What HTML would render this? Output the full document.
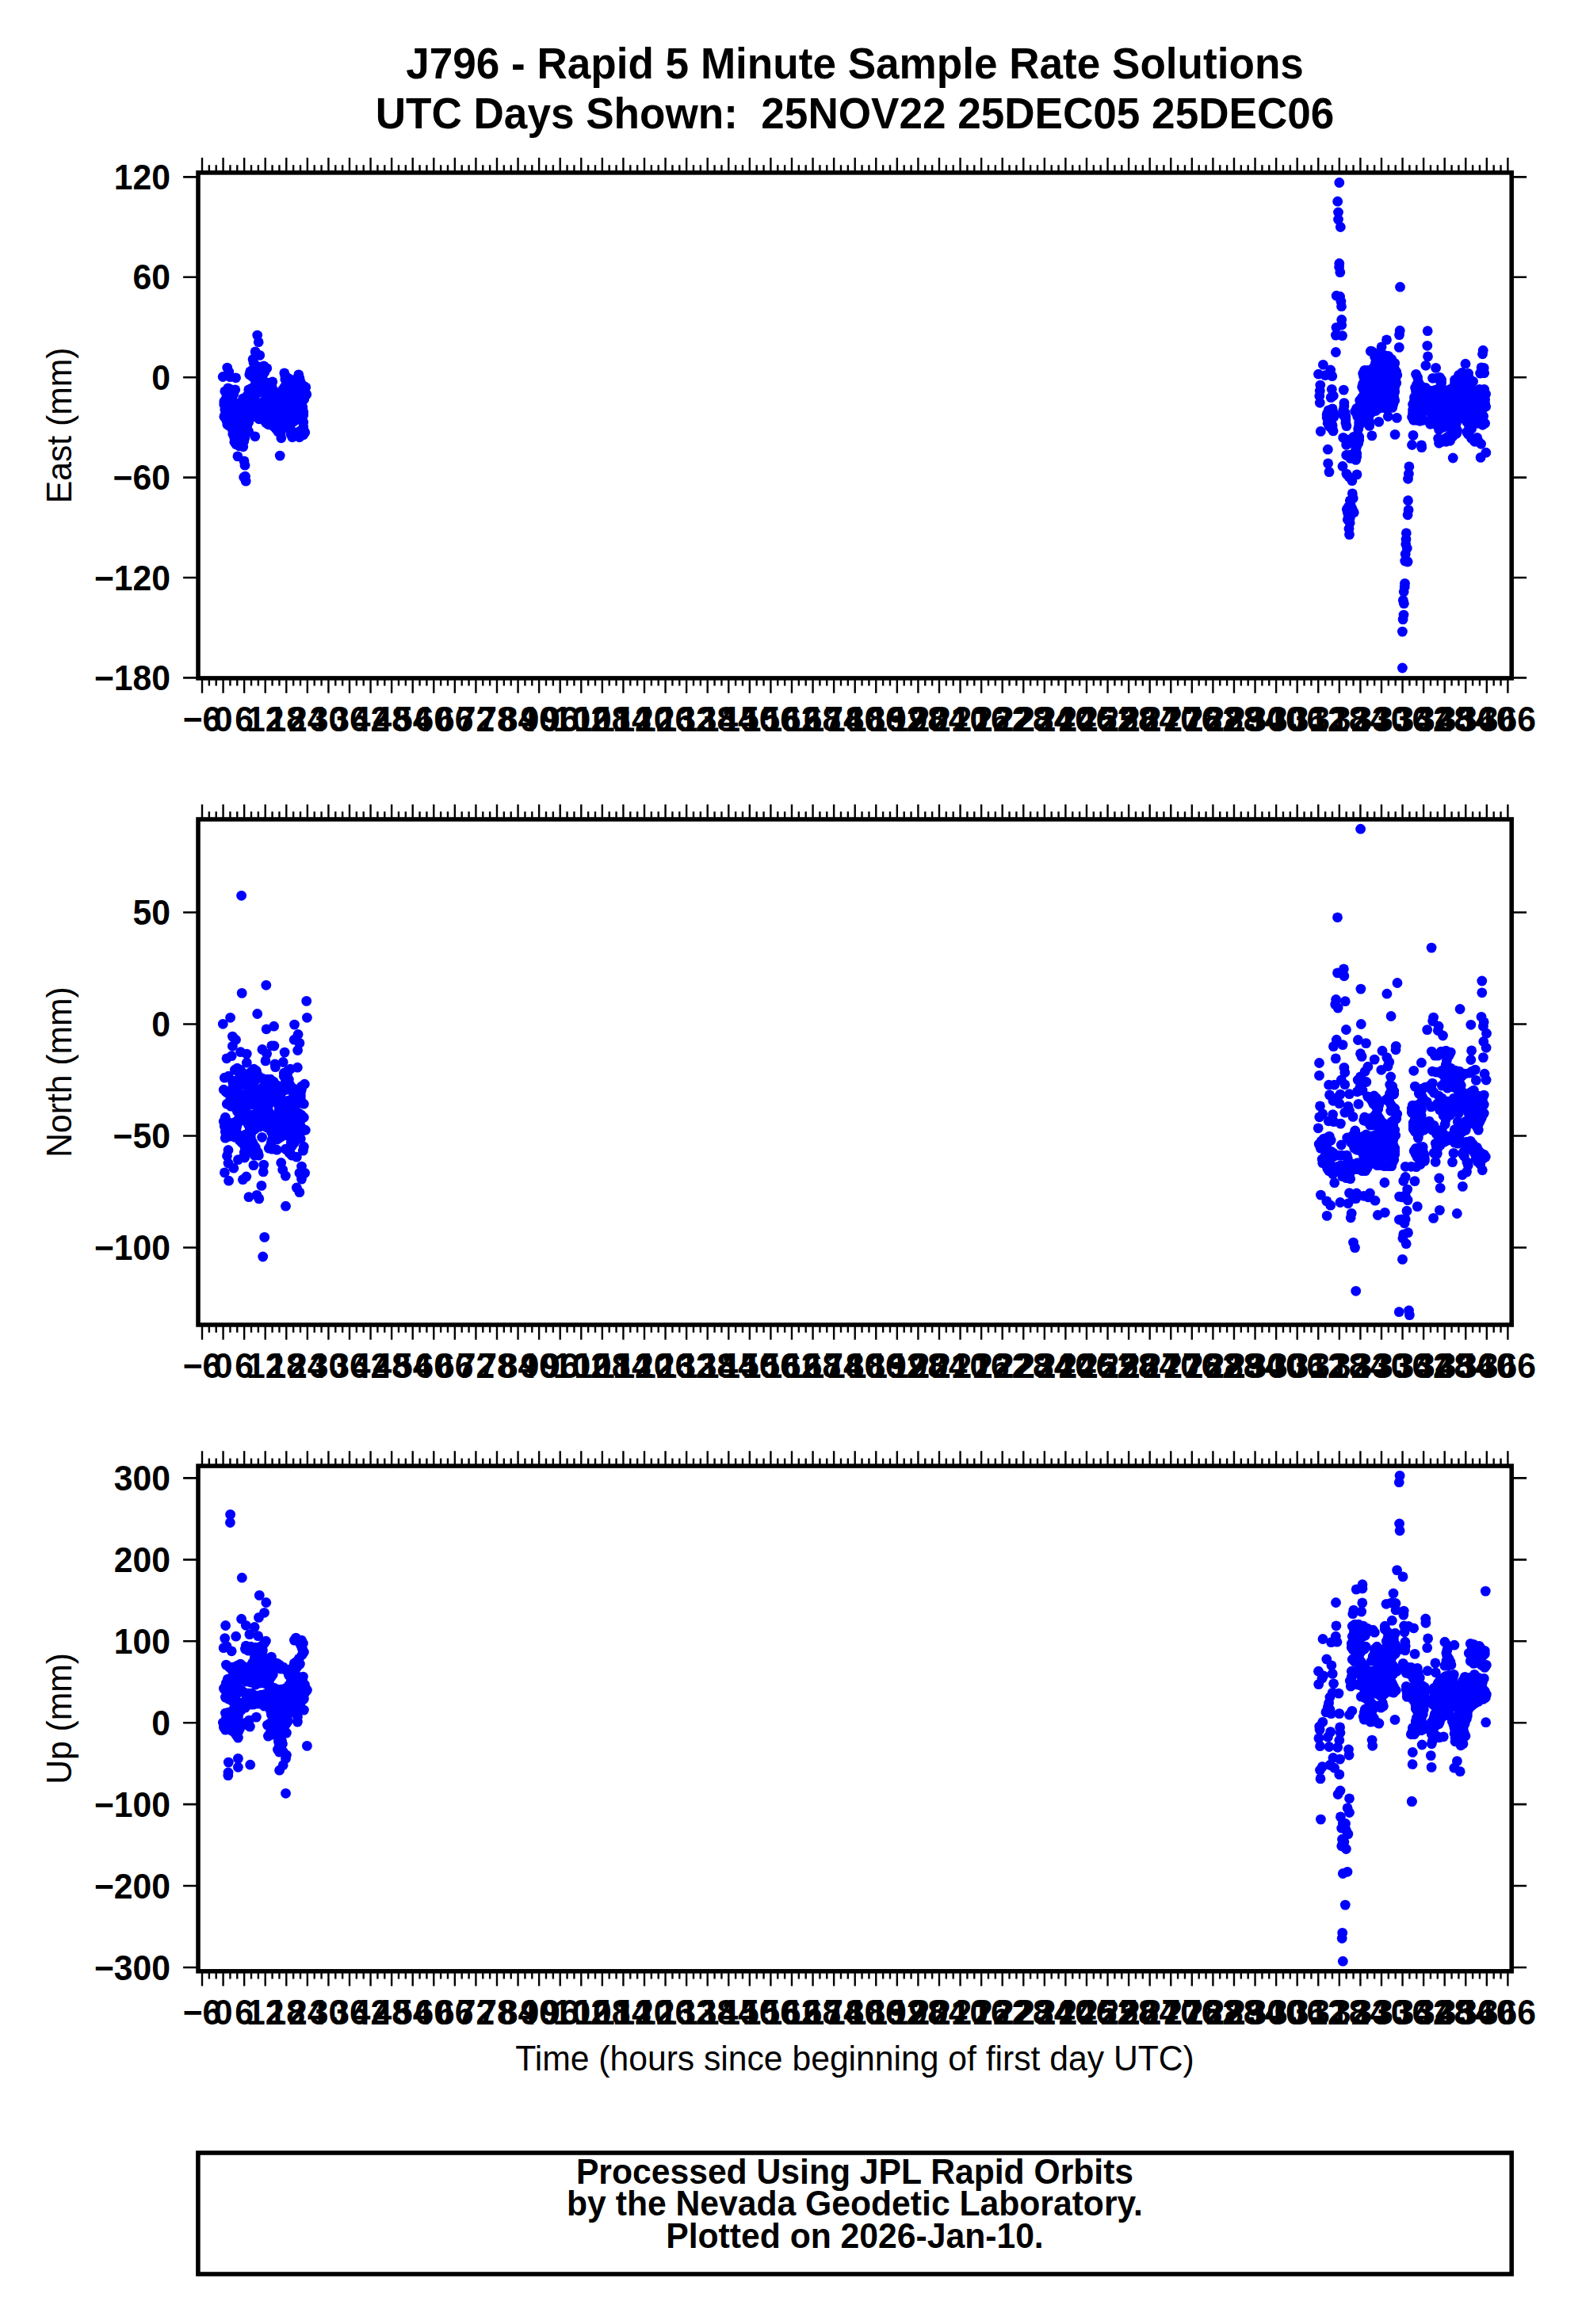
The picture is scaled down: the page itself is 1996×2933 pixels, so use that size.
<!DOCTYPE html>
<html lang="en"><head><meta charset="utf-8"><title>J796 - Rapid 5 Minute Sample Rate Solutions</title>
<style>html,body{margin:0;padding:0;background:#fff}svg{display:block}text{font-family:"Liberation Sans", sans-serif;fill:#000}.a{font-size:42.67px;font-weight:bold}.l{font-size:42.67px}.t{font-size:53.1px;font-weight:bold}.f{fill:none;stroke:#000;stroke-width:5.56}.k{stroke:#000;stroke-width:2.4;fill:none}.k2{stroke:#000;stroke-width:2.6;fill:none}.d circle{fill:#00f;r:6.4px}</style></head><body>
<svg width="1996" height="2933" viewBox="0 0 1996 2933">
<rect width="1996" height="2933" fill="#fff"/>
<g class="d">
<circle cx="324.7" cy="423.1" r="6.4"/>
<circle cx="326.2" cy="431.7" r="6.4"/>
<circle cx="322.1" cy="443.9" r="6.4"/>
<circle cx="327.7" cy="448.4" r="6.4"/>
<circle cx="319.1" cy="453.5" r="6.4"/>
<circle cx="320.1" cy="458.0" r="6.4"/>
<circle cx="286.7" cy="464.1" r="6.4"/>
<circle cx="288.8" cy="469.2" r="6.4"/>
<circle cx="281.2" cy="475.5" r="6.4"/>
<circle cx="290.3" cy="475.7" r="6.4"/>
<circle cx="297.6" cy="476.8" r="6.4"/>
<circle cx="299.9" cy="575.9" r="6.4"/>
<circle cx="308.0" cy="581.9" r="6.4"/>
<circle cx="309.0" cy="587.2" r="6.4"/>
<circle cx="309.5" cy="601.2" r="6.4"/>
<circle cx="307.7" cy="602.2" r="6.4"/>
<circle cx="310.2" cy="607.2" r="6.4"/>
<circle cx="353.2" cy="575.1" r="6.4"/>
<circle cx="332.8" cy="461.8" r="6.4"/>
<circle cx="374.8" cy="549.8" r="6.4"/>
<circle cx="332.8" cy="481.8" r="6.4"/>
<circle cx="301.8" cy="562.8" r="6.4"/>
<circle cx="287.8" cy="489.8" r="6.4"/>
<circle cx="321.8" cy="487.8" r="6.4"/>
<circle cx="345.8" cy="493.8" r="6.4"/>
<circle cx="322.8" cy="483.8" r="6.4"/>
<circle cx="306.8" cy="502.8" r="6.4"/>
<circle cx="294.8" cy="497.8" r="6.4"/>
<circle cx="297.8" cy="512.8" r="6.4"/>
<circle cx="350.8" cy="544.8" r="6.4"/>
<circle cx="382.8" cy="486.8" r="6.4"/>
<circle cx="366.8" cy="547.8" r="6.4"/>
<circle cx="365.8" cy="538.8" r="6.4"/>
<circle cx="381.8" cy="513.8" r="6.4"/>
<circle cx="305.8" cy="559.8" r="6.4"/>
<circle cx="342.8" cy="486.8" r="6.4"/>
<circle cx="291.8" cy="491.8" r="6.4"/>
<circle cx="325.8" cy="509.8" r="6.4"/>
<circle cx="311.8" cy="499.8" r="6.4"/>
<circle cx="354.8" cy="552.8" r="6.4"/>
<circle cx="286.8" cy="496.8" r="6.4"/>
<circle cx="382.8" cy="538.8" r="6.4"/>
<circle cx="382.8" cy="532.8" r="6.4"/>
<circle cx="378.8" cy="527.8" r="6.4"/>
<circle cx="382.8" cy="523.8" r="6.4"/>
<circle cx="358.8" cy="488.8" r="6.4"/>
<circle cx="284.8" cy="520.8" r="6.4"/>
<circle cx="344.8" cy="537.8" r="6.4"/>
<circle cx="330.8" cy="478.8" r="6.4"/>
<circle cx="353.8" cy="546.8" r="6.4"/>
<circle cx="308.8" cy="552.8" r="6.4"/>
<circle cx="356.8" cy="491.8" r="6.4"/>
<circle cx="361.8" cy="539.8" r="6.4"/>
<circle cx="320.8" cy="500.8" r="6.4"/>
<circle cx="311.8" cy="537.8" r="6.4"/>
<circle cx="313.8" cy="532.8" r="6.4"/>
<circle cx="366.8" cy="542.8" r="6.4"/>
<circle cx="336.8" cy="464.8" r="6.4"/>
<circle cx="382.8" cy="542.8" r="6.4"/>
<circle cx="343.8" cy="481.8" r="6.4"/>
<circle cx="373.8" cy="478.8" r="6.4"/>
<circle cx="333.8" cy="469.8" r="6.4"/>
<circle cx="296.8" cy="491.8" r="6.4"/>
<circle cx="354.8" cy="494.8" r="6.4"/>
<circle cx="313.8" cy="491.8" r="6.4"/>
<circle cx="385.8" cy="488.8" r="6.4"/>
<circle cx="318.8" cy="466.8" r="6.4"/>
<circle cx="336.8" cy="482.8" r="6.4"/>
<circle cx="285.8" cy="530.8" r="6.4"/>
<circle cx="360.8" cy="485.8" r="6.4"/>
<circle cx="314.8" cy="472.8" r="6.4"/>
<circle cx="377.8" cy="551.8" r="6.4"/>
<circle cx="326.8" cy="462.8" r="6.4"/>
<circle cx="358.8" cy="470.8" r="6.4"/>
<circle cx="347.8" cy="540.8" r="6.4"/>
<circle cx="313.8" cy="544.8" r="6.4"/>
<circle cx="283.8" cy="516.8" r="6.4"/>
<circle cx="376.8" cy="472.8" r="6.4"/>
<circle cx="283.8" cy="493.8" r="6.4"/>
<circle cx="333.8" cy="505.8" r="6.4"/>
<circle cx="370.8" cy="531.8" r="6.4"/>
<circle cx="292.8" cy="503.8" r="6.4"/>
<circle cx="291.8" cy="507.8" r="6.4"/>
<circle cx="284.8" cy="503.8" r="6.4"/>
<circle cx="301.8" cy="510.8" r="6.4"/>
<circle cx="379.8" cy="484.8" r="6.4"/>
<circle cx="378.8" cy="543.8" r="6.4"/>
<circle cx="359.8" cy="478.8" r="6.4"/>
<circle cx="292.8" cy="539.8" r="6.4"/>
<circle cx="353.8" cy="542.8" r="6.4"/>
<circle cx="326.8" cy="528.8" r="6.4"/>
<circle cx="327.8" cy="494.8" r="6.4"/>
<circle cx="333.8" cy="494.8" r="6.4"/>
<circle cx="371.8" cy="545.8" r="6.4"/>
<circle cx="380.8" cy="509.8" r="6.4"/>
<circle cx="316.8" cy="526.8" r="6.4"/>
<circle cx="356.8" cy="539.8" r="6.4"/>
<circle cx="330.8" cy="507.8" r="6.4"/>
<circle cx="362.8" cy="476.8" r="6.4"/>
<circle cx="295.8" cy="557.8" r="6.4"/>
<circle cx="286.8" cy="535.8" r="6.4"/>
<circle cx="289.8" cy="537.8" r="6.4"/>
<circle cx="338.8" cy="535.8" r="6.4"/>
<circle cx="382.8" cy="519.8" r="6.4"/>
<circle cx="282.8" cy="525.8" r="6.4"/>
<circle cx="293.8" cy="547.8" r="6.4"/>
<circle cx="282.8" cy="510.8" r="6.4"/>
<circle cx="320.8" cy="507.8" r="6.4"/>
<circle cx="310.8" cy="546.8" r="6.4"/>
<circle cx="367.8" cy="533.8" r="6.4"/>
<circle cx="330.8" cy="528.8" r="6.4"/>
<circle cx="317.8" cy="474.8" r="6.4"/>
<circle cx="384.8" cy="493.8" r="6.4"/>
<circle cx="313.8" cy="495.8" r="6.4"/>
<circle cx="383.8" cy="503.8" r="6.4"/>
<circle cx="369.8" cy="479.8" r="6.4"/>
<circle cx="315.8" cy="468.8" r="6.4"/>
<circle cx="368.8" cy="551.8" r="6.4"/>
<circle cx="343.8" cy="490.8" r="6.4"/>
<circle cx="386.8" cy="497.8" r="6.4"/>
<circle cx="295.8" cy="552.8" r="6.4"/>
<circle cx="350.8" cy="496.8" r="6.4"/>
<circle cx="378.8" cy="480.8" r="6.4"/>
<circle cx="317.8" cy="489.8" r="6.4"/>
<circle cx="377.8" cy="476.8" r="6.4"/>
<circle cx="336.8" cy="501.8" r="6.4"/>
<circle cx="373.8" cy="529.8" r="6.4"/>
<circle cx="293.8" cy="543.8" r="6.4"/>
<circle cx="306.8" cy="563.8" r="6.4"/>
<circle cx="297.8" cy="560.8" r="6.4"/>
<circle cx="335.8" cy="533.8" r="6.4"/>
<circle cx="321.8" cy="550.8" r="6.4"/>
<circle cx="320.8" cy="477.8" r="6.4"/>
<circle cx="320.8" cy="525.8" r="6.4"/>
<circle cx="323.8" cy="464.8" r="6.4"/>
<circle cx="282.8" cy="506.8" r="6.4"/>
<circle cx="286.8" cy="500.8" r="6.4"/>
<circle cx="331.8" cy="472.8" r="6.4"/>
<circle cx="382.8" cy="548.8" r="6.4"/>
<circle cx="307.8" cy="556.8" r="6.4"/>
<circle cx="322.8" cy="497.8" r="6.4"/>
<circle cx="361.8" cy="481.8" r="6.4"/>
<circle cx="293.8" cy="511.8" r="6.4"/>
<circle cx="335.8" cy="497.8" r="6.4"/>
<circle cx="303.8" cy="507.8" r="6.4"/>
<circle cx="333.8" cy="530.8" r="6.4"/>
<circle cx="359.8" cy="474.8" r="6.4"/>
<circle cx="384.8" cy="545.8" r="6.4"/>
<circle cx="365.8" cy="478.8" r="6.4"/>
<circle cx="352.8" cy="526.9" r="6.4"/>
<circle cx="361.9" cy="525.0" r="6.4"/>
<circle cx="369.8" cy="505.5" r="6.4"/>
<circle cx="344.0" cy="530.5" r="6.4"/>
<circle cx="356.8" cy="508.7" r="6.4"/>
<circle cx="293.0" cy="532.0" r="6.4"/>
<circle cx="369.6" cy="514.9" r="6.4"/>
<circle cx="373.0" cy="493.8" r="6.4"/>
<circle cx="331.5" cy="515.1" r="6.4"/>
<circle cx="304.9" cy="523.5" r="6.4"/>
<circle cx="374.6" cy="500.2" r="6.4"/>
<circle cx="358.6" cy="531.7" r="6.4"/>
<circle cx="347.1" cy="508.1" r="6.4"/>
<circle cx="325.9" cy="473.0" r="6.4"/>
<circle cx="338.5" cy="516.5" r="6.4"/>
<circle cx="371.2" cy="488.1" r="6.4"/>
<circle cx="297.5" cy="527.5" r="6.4"/>
<circle cx="366.6" cy="500.2" r="6.4"/>
<circle cx="315.6" cy="521.0" r="6.4"/>
<circle cx="360.2" cy="517.9" r="6.4"/>
<circle cx="347.2" cy="518.6" r="6.4"/>
<circle cx="349.5" cy="532.4" r="6.4"/>
<circle cx="306.0" cy="538.5" r="6.4"/>
<circle cx="304.2" cy="547.0" r="6.4"/>
<circle cx="323.6" cy="520.1" r="6.4"/>
<circle cx="364.6" cy="509.8" r="6.4"/>
<circle cx="364.5" cy="491.0" r="6.4"/>
<circle cx="334.1" cy="521.2" r="6.4"/>
<circle cx="308.4" cy="515.1" r="6.4"/>
<circle cx="344.9" cy="502.1" r="6.4"/>
<circle cx="313.8" cy="511.9" r="6.4"/>
<circle cx="375.9" cy="520.1" r="6.4"/>
<circle cx="293.5" cy="519.5" r="6.4"/>
<circle cx="353.9" cy="515.7" r="6.4"/>
<circle cx="329.7" cy="488.4" r="6.4"/>
<circle cx="319.0" cy="515.4" r="6.4"/>
<circle cx="340.1" cy="509.1" r="6.4"/>
<circle cx="355.8" cy="501.5" r="6.4"/>
<circle cx="308.9" cy="528.6" r="6.4"/>
<circle cx="297.8" cy="535.5" r="6.4"/>
<circle cx="340.2" cy="525.9" r="6.4"/>
<circle cx="374.7" cy="508.5" r="6.4"/>
<circle cx="303.0" cy="531.1" r="6.4"/>
<circle cx="337.1" cy="488.5" r="6.4"/>
<circle cx="368.7" cy="525.7" r="6.4"/>
<circle cx="362.0" cy="503.5" r="6.4"/>
<circle cx="299.9" cy="542.2" r="6.4"/>
<circle cx="302.0" cy="517.4" r="6.4"/>
<circle cx="301.5" cy="552.5" r="6.4"/>
<circle cx="291.0" cy="525.9" r="6.4"/>
<circle cx="314.8" cy="505.8" r="6.4"/>
<circle cx="378.7" cy="495.9" r="6.4"/>
<circle cx="360.9" cy="497.2" r="6.4"/>
<circle cx="347.0" cy="525.1" r="6.4"/>
<circle cx="1689.8" cy="230.5" r="6.4"/>
<circle cx="1687.7" cy="254.2" r="6.4"/>
<circle cx="1688.5" cy="268.0" r="6.4"/>
<circle cx="1688.5" cy="277.0" r="6.4"/>
<circle cx="1691.3" cy="286.5" r="6.4"/>
<circle cx="1689.8" cy="332.5" r="6.4"/>
<circle cx="1689.6" cy="336.9" r="6.4"/>
<circle cx="1690.8" cy="343.6" r="6.4"/>
<circle cx="1686.2" cy="373.2" r="6.4"/>
<circle cx="1690.6" cy="374.2" r="6.4"/>
<circle cx="1691.9" cy="380.2" r="6.4"/>
<circle cx="1692.5" cy="386.7" r="6.4"/>
<circle cx="1692.7" cy="403.5" r="6.4"/>
<circle cx="1692.7" cy="410.2" r="6.4"/>
<circle cx="1686.0" cy="413.3" r="6.4"/>
<circle cx="1685.4" cy="423.1" r="6.4"/>
<circle cx="1693.5" cy="423.6" r="6.4"/>
<circle cx="1766.5" cy="362.2" r="6.4"/>
<circle cx="1766.2" cy="417.2" r="6.4"/>
<circle cx="1765.5" cy="422.6" r="6.4"/>
<circle cx="1749.5" cy="428.8" r="6.4"/>
<circle cx="1685.4" cy="444.5" r="6.4"/>
<circle cx="1765.3" cy="438.4" r="6.4"/>
<circle cx="1743.1" cy="437.8" r="6.4"/>
<circle cx="1729.3" cy="443.2" r="6.4"/>
<circle cx="1669.4" cy="460.3" r="6.4"/>
<circle cx="1678.7" cy="467.0" r="6.4"/>
<circle cx="1663.5" cy="472.2" r="6.4"/>
<circle cx="1672.0" cy="473.7" r="6.4"/>
<circle cx="1680.8" cy="474.7" r="6.4"/>
<circle cx="1665.8" cy="486.1" r="6.4"/>
<circle cx="1665.3" cy="493.3" r="6.4"/>
<circle cx="1664.8" cy="500.0" r="6.4"/>
<circle cx="1665.3" cy="508.3" r="6.4"/>
<circle cx="1680.3" cy="491.3" r="6.4"/>
<circle cx="1682.3" cy="499.5" r="6.4"/>
<circle cx="1679.2" cy="501.6" r="6.4"/>
<circle cx="1695.3" cy="492.1" r="6.4"/>
<circle cx="1666.3" cy="544.4" r="6.4"/>
<circle cx="1751.3" cy="525.5" r="6.4"/>
<circle cx="1762.4" cy="527.4" r="6.4"/>
<circle cx="1739.7" cy="532.4" r="6.4"/>
<circle cx="1730.9" cy="549.9" r="6.4"/>
<circle cx="1760.1" cy="548.4" r="6.4"/>
<circle cx="1675.3" cy="567.2" r="6.4"/>
<circle cx="1675.6" cy="584.9" r="6.4"/>
<circle cx="1677.0" cy="595.6" r="6.4"/>
<circle cx="1694.0" cy="588.5" r="6.4"/>
<circle cx="1698.9" cy="598.1" r="6.4"/>
<circle cx="1702.0" cy="601.8" r="6.4"/>
<circle cx="1712.0" cy="598.9" r="6.4"/>
<circle cx="1705.9" cy="606.7" r="6.4"/>
<circle cx="1783.0" cy="549.4" r="6.4"/>
<circle cx="1781.5" cy="561.5" r="6.4"/>
<circle cx="1793.4" cy="561.8" r="6.4"/>
<circle cx="1777.9" cy="588.9" r="6.4"/>
<circle cx="1777.4" cy="598.1" r="6.4"/>
<circle cx="1776.5" cy="604.3" r="6.4"/>
<circle cx="1776.5" cy="631.7" r="6.4"/>
<circle cx="1777.1" cy="643.6" r="6.4"/>
<circle cx="1776.1" cy="649.8" r="6.4"/>
<circle cx="1676.1" cy="517.9" r="6.4"/>
<circle cx="1681.1" cy="515.9" r="6.4"/>
<circle cx="1682.1" cy="543.9" r="6.4"/>
<circle cx="1680.1" cy="540.9" r="6.4"/>
<circle cx="1674.1" cy="526.9" r="6.4"/>
<circle cx="1680.1" cy="528.9" r="6.4"/>
<circle cx="1683.1" cy="521.9" r="6.4"/>
<circle cx="1677.1" cy="537.9" r="6.4"/>
<circle cx="1681.1" cy="536.9" r="6.4"/>
<circle cx="1679.1" cy="532.9" r="6.4"/>
<circle cx="1675.1" cy="533.9" r="6.4"/>
<circle cx="1683.1" cy="525.9" r="6.4"/>
<circle cx="1674.1" cy="522.9" r="6.4"/>
<circle cx="1695.9" cy="512.6" r="6.4"/>
<circle cx="1694.9" cy="517.6" r="6.4"/>
<circle cx="1695.9" cy="508.6" r="6.4"/>
<circle cx="1698.9" cy="537.6" r="6.4"/>
<circle cx="1697.9" cy="533.6" r="6.4"/>
<circle cx="1697.9" cy="529.6" r="6.4"/>
<circle cx="1694.9" cy="523.6" r="6.4"/>
<circle cx="1697.9" cy="525.6" r="6.4"/>
<circle cx="1696.9" cy="520.6" r="6.4"/>
<circle cx="1734.7" cy="450.4" r="6.4"/>
<circle cx="1756.7" cy="514.4" r="6.4"/>
<circle cx="1714.7" cy="537.4" r="6.4"/>
<circle cx="1737.7" cy="448.4" r="6.4"/>
<circle cx="1759.7" cy="466.4" r="6.4"/>
<circle cx="1730.7" cy="520.4" r="6.4"/>
<circle cx="1731.7" cy="465.4" r="6.4"/>
<circle cx="1759.7" cy="458.4" r="6.4"/>
<circle cx="1748.7" cy="515.4" r="6.4"/>
<circle cx="1709.7" cy="519.4" r="6.4"/>
<circle cx="1735.7" cy="457.4" r="6.4"/>
<circle cx="1739.7" cy="515.4" r="6.4"/>
<circle cx="1759.7" cy="494.4" r="6.4"/>
<circle cx="1710.7" cy="567.4" r="6.4"/>
<circle cx="1714.7" cy="555.4" r="6.4"/>
<circle cx="1697.7" cy="554.4" r="6.4"/>
<circle cx="1710.7" cy="580.4" r="6.4"/>
<circle cx="1727.7" cy="532.4" r="6.4"/>
<circle cx="1713.7" cy="559.4" r="6.4"/>
<circle cx="1703.7" cy="558.4" r="6.4"/>
<circle cx="1711.7" cy="563.4" r="6.4"/>
<circle cx="1718.7" cy="488.4" r="6.4"/>
<circle cx="1716.7" cy="510.4" r="6.4"/>
<circle cx="1742.7" cy="449.4" r="6.4"/>
<circle cx="1735.7" cy="518.4" r="6.4"/>
<circle cx="1714.7" cy="533.4" r="6.4"/>
<circle cx="1720.7" cy="475.4" r="6.4"/>
<circle cx="1759.7" cy="505.4" r="6.4"/>
<circle cx="1725.7" cy="467.4" r="6.4"/>
<circle cx="1722.7" cy="495.4" r="6.4"/>
<circle cx="1755.7" cy="453.4" r="6.4"/>
<circle cx="1758.7" cy="501.4" r="6.4"/>
<circle cx="1711.7" cy="515.4" r="6.4"/>
<circle cx="1721.7" cy="481.4" r="6.4"/>
<circle cx="1720.7" cy="532.4" r="6.4"/>
<circle cx="1712.7" cy="548.4" r="6.4"/>
<circle cx="1711.7" cy="572.4" r="6.4"/>
<circle cx="1718.7" cy="501.4" r="6.4"/>
<circle cx="1760.7" cy="479.4" r="6.4"/>
<circle cx="1751.7" cy="449.4" r="6.4"/>
<circle cx="1759.7" cy="488.4" r="6.4"/>
<circle cx="1713.7" cy="541.4" r="6.4"/>
<circle cx="1734.7" cy="461.4" r="6.4"/>
<circle cx="1721.7" cy="467.4" r="6.4"/>
<circle cx="1714.7" cy="528.4" r="6.4"/>
<circle cx="1706.7" cy="573.4" r="6.4"/>
<circle cx="1698.7" cy="561.4" r="6.4"/>
<circle cx="1744.7" cy="514.4" r="6.4"/>
<circle cx="1762.7" cy="473.4" r="6.4"/>
<circle cx="1715.7" cy="505.4" r="6.4"/>
<circle cx="1726.7" cy="527.4" r="6.4"/>
<circle cx="1698.7" cy="574.4" r="6.4"/>
<circle cx="1761.7" cy="483.4" r="6.4"/>
<circle cx="1703.7" cy="578.4" r="6.4"/>
<circle cx="1727.7" cy="537.4" r="6.4"/>
<circle cx="1704.7" cy="554.4" r="6.4"/>
<circle cx="1730.7" cy="443.4" r="6.4"/>
<circle cx="1746.7" cy="448.4" r="6.4"/>
<circle cx="1733.7" cy="445.4" r="6.4"/>
<circle cx="1720.7" cy="492.4" r="6.4"/>
<circle cx="1707.7" cy="578.4" r="6.4"/>
<circle cx="1721.7" cy="499.4" r="6.4"/>
<circle cx="1714.7" cy="551.4" r="6.4"/>
<circle cx="1707.7" cy="551.4" r="6.4"/>
<circle cx="1757.7" cy="510.4" r="6.4"/>
<circle cx="1761.7" cy="469.4" r="6.4"/>
<circle cx="1719.7" cy="471.4" r="6.4"/>
<circle cx="1694.7" cy="552.4" r="6.4"/>
<circle cx="1702.7" cy="574.4" r="6.4"/>
<circle cx="1712.7" cy="525.4" r="6.4"/>
<circle cx="1752.7" cy="514.4" r="6.4"/>
<circle cx="1758.7" cy="462.4" r="6.4"/>
<circle cx="1726.7" cy="523.4" r="6.4"/>
<circle cx="1708.7" cy="560.4" r="6.4"/>
<circle cx="1711.7" cy="576.4" r="6.4"/>
<circle cx="1719.7" cy="484.4" r="6.4"/>
<circle cx="1730.9" cy="510.6" r="6.4"/>
<circle cx="1743.4" cy="490.1" r="6.4"/>
<circle cx="1745.4" cy="483.2" r="6.4"/>
<circle cx="1739.7" cy="508.1" r="6.4"/>
<circle cx="1745.8" cy="464.0" r="6.4"/>
<circle cx="1727.8" cy="478.4" r="6.4"/>
<circle cx="1751.9" cy="478.0" r="6.4"/>
<circle cx="1753.4" cy="491.4" r="6.4"/>
<circle cx="1736.6" cy="490.7" r="6.4"/>
<circle cx="1727.8" cy="500.2" r="6.4"/>
<circle cx="1722.0" cy="514.3" r="6.4"/>
<circle cx="1734.7" cy="503.4" r="6.4"/>
<circle cx="1746.5" cy="456.3" r="6.4"/>
<circle cx="1748.4" cy="507.7" r="6.4"/>
<circle cx="1742.4" cy="502.0" r="6.4"/>
<circle cx="1734.8" cy="497.5" r="6.4"/>
<circle cx="1739.5" cy="470.4" r="6.4"/>
<circle cx="1752.5" cy="503.7" r="6.4"/>
<circle cx="1726.6" cy="487.5" r="6.4"/>
<circle cx="1752.7" cy="470.8" r="6.4"/>
<circle cx="1723.7" cy="505.4" r="6.4"/>
<circle cx="1734.9" cy="474.7" r="6.4"/>
<circle cx="1744.6" cy="496.1" r="6.4"/>
<circle cx="1742.9" cy="477.1" r="6.4"/>
<circle cx="1753.9" cy="484.3" r="6.4"/>
<circle cx="1720.0" cy="520.4" r="6.4"/>
<circle cx="1737.0" cy="484.2" r="6.4"/>
<circle cx="1752.3" cy="463.1" r="6.4"/>
<circle cx="1751.0" cy="497.3" r="6.4"/>
<circle cx="1745.3" cy="470.6" r="6.4"/>
<circle cx="1729.7" cy="493.1" r="6.4"/>
<circle cx="1720.7" cy="526.1" r="6.4"/>
<circle cx="1701.3" cy="650.8" r="6.4"/>
<circle cx="1703.3" cy="631.8" r="6.4"/>
<circle cx="1708.3" cy="646.8" r="6.4"/>
<circle cx="1700.3" cy="655.8" r="6.4"/>
<circle cx="1707.3" cy="628.8" r="6.4"/>
<circle cx="1706.3" cy="642.8" r="6.4"/>
<circle cx="1706.3" cy="622.8" r="6.4"/>
<circle cx="1704.3" cy="637.8" r="6.4"/>
<circle cx="1701.3" cy="639.8" r="6.4"/>
<circle cx="1704.3" cy="648.8" r="6.4"/>
<circle cx="1700.3" cy="646.8" r="6.4"/>
<circle cx="1703.3" cy="653.8" r="6.4"/>
<circle cx="1699.3" cy="642.8" r="6.4"/>
<circle cx="1703.2" cy="659.9" r="6.4"/>
<circle cx="1702.0" cy="667.2" r="6.4"/>
<circle cx="1702.5" cy="674.6" r="6.4"/>
<circle cx="1774.3" cy="672.9" r="6.4"/>
<circle cx="1774.0" cy="680.6" r="6.4"/>
<circle cx="1773.7" cy="686.8" r="6.4"/>
<circle cx="1775.3" cy="692.0" r="6.4"/>
<circle cx="1773.2" cy="699.2" r="6.4"/>
<circle cx="1772.7" cy="708.0" r="6.4"/>
<circle cx="1776.1" cy="709.0" r="6.4"/>
<circle cx="1772.5" cy="736.4" r="6.4"/>
<circle cx="1772.2" cy="741.0" r="6.4"/>
<circle cx="1771.2" cy="746.7" r="6.4"/>
<circle cx="1770.3" cy="757.5" r="6.4"/>
<circle cx="1771.4" cy="761.7" r="6.4"/>
<circle cx="1771.0" cy="776.1" r="6.4"/>
<circle cx="1770.1" cy="781.6" r="6.4"/>
<circle cx="1769.4" cy="797.1" r="6.4"/>
<circle cx="1769.4" cy="843.0" r="6.4"/>
<circle cx="1801.2" cy="417.7" r="6.4"/>
<circle cx="1800.8" cy="436.3" r="6.4"/>
<circle cx="1801.5" cy="449.9" r="6.4"/>
<circle cx="1798.9" cy="461.3" r="6.4"/>
<circle cx="1811.6" cy="464.4" r="6.4"/>
<circle cx="1793.7" cy="564.7" r="6.4"/>
<circle cx="1871.2" cy="442.2" r="6.4"/>
<circle cx="1870.5" cy="446.8" r="6.4"/>
<circle cx="1869.1" cy="463.8" r="6.4"/>
<circle cx="1872.2" cy="464.4" r="6.4"/>
<circle cx="1867.6" cy="471.1" r="6.4"/>
<circle cx="1872.7" cy="470.8" r="6.4"/>
<circle cx="1849.0" cy="459.2" r="6.4"/>
<circle cx="1833.2" cy="578.0" r="6.4"/>
<circle cx="1874.8" cy="571.2" r="6.4"/>
<circle cx="1868.1" cy="577.4" r="6.4"/>
<circle cx="1872.6" cy="491.3" r="6.4"/>
<circle cx="1856.6" cy="553.3" r="6.4"/>
<circle cx="1852.6" cy="548.3" r="6.4"/>
<circle cx="1874.6" cy="497.3" r="6.4"/>
<circle cx="1784.6" cy="505.3" r="6.4"/>
<circle cx="1873.6" cy="504.3" r="6.4"/>
<circle cx="1787.6" cy="485.3" r="6.4"/>
<circle cx="1797.6" cy="518.3" r="6.4"/>
<circle cx="1793.6" cy="526.3" r="6.4"/>
<circle cx="1839.6" cy="527.3" r="6.4"/>
<circle cx="1814.6" cy="491.3" r="6.4"/>
<circle cx="1832.6" cy="541.3" r="6.4"/>
<circle cx="1853.6" cy="543.3" r="6.4"/>
<circle cx="1806.6" cy="530.3" r="6.4"/>
<circle cx="1859.6" cy="492.3" r="6.4"/>
<circle cx="1869.6" cy="522.3" r="6.4"/>
<circle cx="1829.6" cy="556.3" r="6.4"/>
<circle cx="1850.6" cy="532.3" r="6.4"/>
<circle cx="1837.6" cy="533.3" r="6.4"/>
<circle cx="1840.6" cy="473.3" r="6.4"/>
<circle cx="1803.6" cy="518.3" r="6.4"/>
<circle cx="1786.6" cy="472.3" r="6.4"/>
<circle cx="1863.6" cy="552.3" r="6.4"/>
<circle cx="1818.6" cy="483.3" r="6.4"/>
<circle cx="1864.6" cy="534.3" r="6.4"/>
<circle cx="1848.6" cy="472.3" r="6.4"/>
<circle cx="1865.6" cy="557.3" r="6.4"/>
<circle cx="1868.6" cy="518.3" r="6.4"/>
<circle cx="1832.6" cy="551.3" r="6.4"/>
<circle cx="1820.6" cy="539.3" r="6.4"/>
<circle cx="1853.6" cy="477.3" r="6.4"/>
<circle cx="1860.6" cy="534.3" r="6.4"/>
<circle cx="1844.6" cy="470.3" r="6.4"/>
<circle cx="1810.6" cy="535.3" r="6.4"/>
<circle cx="1836.6" cy="538.3" r="6.4"/>
<circle cx="1806.6" cy="526.3" r="6.4"/>
<circle cx="1819.6" cy="557.3" r="6.4"/>
<circle cx="1826.6" cy="551.3" r="6.4"/>
<circle cx="1871.6" cy="525.3" r="6.4"/>
<circle cx="1788.6" cy="476.3" r="6.4"/>
<circle cx="1815.6" cy="542.3" r="6.4"/>
<circle cx="1782.6" cy="517.3" r="6.4"/>
<circle cx="1873.6" cy="534.3" r="6.4"/>
<circle cx="1782.6" cy="510.3" r="6.4"/>
<circle cx="1838.6" cy="543.3" r="6.4"/>
<circle cx="1832.6" cy="546.3" r="6.4"/>
<circle cx="1855.6" cy="488.3" r="6.4"/>
<circle cx="1870.6" cy="536.3" r="6.4"/>
<circle cx="1781.6" cy="526.3" r="6.4"/>
<circle cx="1860.6" cy="557.3" r="6.4"/>
<circle cx="1837.6" cy="547.3" r="6.4"/>
<circle cx="1834.6" cy="487.3" r="6.4"/>
<circle cx="1801.6" cy="492.3" r="6.4"/>
<circle cx="1824.6" cy="557.3" r="6.4"/>
<circle cx="1858.6" cy="481.3" r="6.4"/>
<circle cx="1785.6" cy="489.3" r="6.4"/>
<circle cx="1853.6" cy="538.3" r="6.4"/>
<circle cx="1795.6" cy="530.3" r="6.4"/>
<circle cx="1807.6" cy="477.3" r="6.4"/>
<circle cx="1844.6" cy="527.3" r="6.4"/>
<circle cx="1824.6" cy="538.3" r="6.4"/>
<circle cx="1812.6" cy="477.3" r="6.4"/>
<circle cx="1815.6" cy="559.3" r="6.4"/>
<circle cx="1818.6" cy="479.3" r="6.4"/>
<circle cx="1791.6" cy="486.3" r="6.4"/>
<circle cx="1792.6" cy="521.3" r="6.4"/>
<circle cx="1868.6" cy="560.3" r="6.4"/>
<circle cx="1870.6" cy="529.3" r="6.4"/>
<circle cx="1874.6" cy="513.3" r="6.4"/>
<circle cx="1789.6" cy="482.3" r="6.4"/>
<circle cx="1804.6" cy="535.3" r="6.4"/>
<circle cx="1787.6" cy="530.3" r="6.4"/>
<circle cx="1835.6" cy="483.3" r="6.4"/>
<circle cx="1824.6" cy="493.3" r="6.4"/>
<circle cx="1857.6" cy="536.3" r="6.4"/>
<circle cx="1839.6" cy="477.3" r="6.4"/>
<circle cx="1848.6" cy="529.3" r="6.4"/>
<circle cx="1806.6" cy="493.3" r="6.4"/>
<circle cx="1855.6" cy="483.3" r="6.4"/>
<circle cx="1866.6" cy="491.3" r="6.4"/>
<circle cx="1784.6" cy="501.3" r="6.4"/>
<circle cx="1829.6" cy="491.3" r="6.4"/>
<circle cx="1873.6" cy="509.3" r="6.4"/>
<circle cx="1817.6" cy="487.3" r="6.4"/>
<circle cx="1829.6" cy="549.3" r="6.4"/>
<circle cx="1850.6" cy="545.3" r="6.4"/>
<circle cx="1794.6" cy="488.3" r="6.4"/>
<circle cx="1814.6" cy="553.3" r="6.4"/>
<circle cx="1805.6" cy="521.3" r="6.4"/>
<circle cx="1852.6" cy="471.3" r="6.4"/>
<circle cx="1820.6" cy="491.3" r="6.4"/>
<circle cx="1786.6" cy="494.3" r="6.4"/>
<circle cx="1870.6" cy="515.3" r="6.4"/>
<circle cx="1783.6" cy="530.3" r="6.4"/>
<circle cx="1814.6" cy="538.3" r="6.4"/>
<circle cx="1823.6" cy="553.3" r="6.4"/>
<circle cx="1835.6" cy="479.3" r="6.4"/>
<circle cx="1829.6" cy="539.3" r="6.4"/>
<circle cx="1798.6" cy="489.3" r="6.4"/>
<circle cx="1856.6" cy="541.3" r="6.4"/>
<circle cx="1791.6" cy="531.3" r="6.4"/>
<circle cx="1782.6" cy="521.3" r="6.4"/>
<circle cx="1810.6" cy="492.3" r="6.4"/>
<circle cx="1816.6" cy="476.3" r="6.4"/>
<circle cx="1844.6" cy="504.5" r="6.4"/>
<circle cx="1823.8" cy="520.5" r="6.4"/>
<circle cx="1796.3" cy="502.2" r="6.4"/>
<circle cx="1856.0" cy="519.9" r="6.4"/>
<circle cx="1789.8" cy="515.7" r="6.4"/>
<circle cx="1830.8" cy="502.2" r="6.4"/>
<circle cx="1819.6" cy="503.3" r="6.4"/>
<circle cx="1836.7" cy="517.0" r="6.4"/>
<circle cx="1816.8" cy="528.7" r="6.4"/>
<circle cx="1840.4" cy="509.3" r="6.4"/>
<circle cx="1837.9" cy="496.1" r="6.4"/>
<circle cx="1828.5" cy="512.4" r="6.4"/>
<circle cx="1866.5" cy="502.7" r="6.4"/>
<circle cx="1859.6" cy="526.2" r="6.4"/>
<circle cx="1845.0" cy="493.2" r="6.4"/>
<circle cx="1858.8" cy="511.2" r="6.4"/>
<circle cx="1822.4" cy="511.3" r="6.4"/>
<circle cx="1848.7" cy="514.3" r="6.4"/>
<circle cx="1849.0" cy="521.6" r="6.4"/>
<circle cx="1845.6" cy="480.1" r="6.4"/>
<circle cx="1862.9" cy="518.3" r="6.4"/>
<circle cx="1811.4" cy="502.6" r="6.4"/>
<circle cx="1854.5" cy="505.2" r="6.4"/>
<circle cx="1825.0" cy="499.7" r="6.4"/>
<circle cx="1829.6" cy="533.7" r="6.4"/>
<circle cx="1830.0" cy="527.4" r="6.4"/>
<circle cx="1804.4" cy="500.0" r="6.4"/>
<circle cx="1837.6" cy="503.3" r="6.4"/>
<circle cx="1813.8" cy="511.0" r="6.4"/>
<circle cx="1844.0" cy="486.7" r="6.4"/>
<circle cx="1852.3" cy="495.3" r="6.4"/>
<circle cx="1807.2" cy="511.5" r="6.4"/>
<circle cx="1797.3" cy="509.2" r="6.4"/>
<circle cx="1858.5" cy="500.5" r="6.4"/>
<circle cx="1830.5" cy="520.5" r="6.4"/>
<circle cx="1813.7" cy="518.6" r="6.4"/>
<circle cx="1823.4" cy="530.2" r="6.4"/>
<circle cx="1865.6" cy="511.5" r="6.4"/>
<circle cx="1792.6" cy="494.3" r="6.4"/>
<circle cx="1791.0" cy="506.1" r="6.4"/>
<circle cx="1833.2" cy="508.4" r="6.4"/>
<circle cx="1815.7" cy="497.3" r="6.4"/>
<circle cx="1849.8" cy="489.3" r="6.4"/>
<circle cx="1842.6" cy="521.2" r="6.4"/>
<circle cx="1847.4" cy="499.2" r="6.4"/>
<circle cx="1802.6" cy="506.2" r="6.4"/>
<circle cx="1863.4" cy="497.4" r="6.4"/>
</g>
<path class="k" d="M255.00 217.9v-18.8M255.00 855.9v18.8M263.86 217.9v-9.7M263.86 855.9v9.7M272.71 217.9v-9.7M272.71 855.9v9.7M281.57 217.9v-18.8M281.57 855.9v18.8M290.43 217.9v-9.7M290.43 855.9v9.7M299.28 217.9v-9.7M299.28 855.9v9.7M308.14 217.9v-18.8M308.14 855.9v18.8M317.00 217.9v-9.7M317.00 855.9v9.7M325.86 217.9v-9.7M325.86 855.9v9.7M334.71 217.9v-18.8M334.71 855.9v18.8M343.57 217.9v-9.7M343.57 855.9v9.7M352.43 217.9v-9.7M352.43 855.9v9.7M361.28 217.9v-18.8M361.28 855.9v18.8M370.14 217.9v-9.7M370.14 855.9v9.7M379.00 217.9v-9.7M379.00 855.9v9.7M387.85 217.9v-18.8M387.85 855.9v18.8M396.71 217.9v-9.7M396.71 855.9v9.7M405.57 217.9v-9.7M405.57 855.9v9.7M414.43 217.9v-18.8M414.43 855.9v18.8M423.28 217.9v-9.7M423.28 855.9v9.7M432.14 217.9v-9.7M432.14 855.9v9.7M441.00 217.9v-18.8M441.00 855.9v18.8M449.85 217.9v-9.7M449.85 855.9v9.7M458.71 217.9v-9.7M458.71 855.9v9.7M467.57 217.9v-18.8M467.57 855.9v18.8M476.42 217.9v-9.7M476.42 855.9v9.7M485.28 217.9v-9.7M485.28 855.9v9.7M494.14 217.9v-18.8M494.14 855.9v18.8M503.00 217.9v-9.7M503.00 855.9v9.7M511.85 217.9v-9.7M511.85 855.9v9.7M520.71 217.9v-18.8M520.71 855.9v18.8M529.57 217.9v-9.7M529.57 855.9v9.7M538.42 217.9v-9.7M538.42 855.9v9.7M547.28 217.9v-18.8M547.28 855.9v18.8M556.14 217.9v-9.7M556.14 855.9v9.7M564.99 217.9v-9.7M564.99 855.9v9.7M573.85 217.9v-18.8M573.85 855.9v18.8M582.71 217.9v-9.7M582.71 855.9v9.7M591.57 217.9v-9.7M591.57 855.9v9.7M600.42 217.9v-18.8M600.42 855.9v18.8M609.28 217.9v-9.7M609.28 855.9v9.7M618.14 217.9v-9.7M618.14 855.9v9.7M626.99 217.9v-18.8M626.99 855.9v18.8M635.85 217.9v-9.7M635.85 855.9v9.7M644.71 217.9v-9.7M644.71 855.9v9.7M653.56 217.9v-18.8M653.56 855.9v18.8M662.42 217.9v-9.7M662.42 855.9v9.7M671.28 217.9v-9.7M671.28 855.9v9.7M680.13 217.9v-18.8M680.13 855.9v18.8M688.99 217.9v-9.7M688.99 855.9v9.7M697.85 217.9v-9.7M697.85 855.9v9.7M706.71 217.9v-18.8M706.71 855.9v18.8M715.56 217.9v-9.7M715.56 855.9v9.7M724.42 217.9v-9.7M724.42 855.9v9.7M733.28 217.9v-18.8M733.28 855.9v18.8M742.13 217.9v-9.7M742.13 855.9v9.7M750.99 217.9v-9.7M750.99 855.9v9.7M759.85 217.9v-18.8M759.85 855.9v18.8M768.71 217.9v-9.7M768.71 855.9v9.7M777.56 217.9v-9.7M777.56 855.9v9.7M786.42 217.9v-18.8M786.42 855.9v18.8M795.28 217.9v-9.7M795.28 855.9v9.7M804.13 217.9v-9.7M804.13 855.9v9.7M812.99 217.9v-18.8M812.99 855.9v18.8M821.85 217.9v-9.7M821.85 855.9v9.7M830.70 217.9v-9.7M830.70 855.9v9.7M839.56 217.9v-18.8M839.56 855.9v18.8M848.42 217.9v-9.7M848.42 855.9v9.7M857.28 217.9v-9.7M857.28 855.9v9.7M866.13 217.9v-18.8M866.13 855.9v18.8M874.99 217.9v-9.7M874.99 855.9v9.7M883.85 217.9v-9.7M883.85 855.9v9.7M892.70 217.9v-18.8M892.70 855.9v18.8M901.56 217.9v-9.7M901.56 855.9v9.7M910.42 217.9v-9.7M910.42 855.9v9.7M919.27 217.9v-18.8M919.27 855.9v18.8M928.13 217.9v-9.7M928.13 855.9v9.7M936.99 217.9v-9.7M936.99 855.9v9.7M945.85 217.9v-18.8M945.85 855.9v18.8M954.70 217.9v-9.7M954.70 855.9v9.7M963.56 217.9v-9.7M963.56 855.9v9.7M972.42 217.9v-18.8M972.42 855.9v18.8M981.27 217.9v-9.7M981.27 855.9v9.7M990.13 217.9v-9.7M990.13 855.9v9.7M998.99 217.9v-18.8M998.99 855.9v18.8M1007.84 217.9v-9.7M1007.84 855.9v9.7M1016.70 217.9v-9.7M1016.70 855.9v9.7M1025.56 217.9v-18.8M1025.56 855.9v18.8M1034.42 217.9v-9.7M1034.42 855.9v9.7M1043.27 217.9v-9.7M1043.27 855.9v9.7M1052.13 217.9v-18.8M1052.13 855.9v18.8M1060.99 217.9v-9.7M1060.99 855.9v9.7M1069.84 217.9v-9.7M1069.84 855.9v9.7M1078.70 217.9v-18.8M1078.70 855.9v18.8M1087.56 217.9v-9.7M1087.56 855.9v9.7M1096.41 217.9v-9.7M1096.41 855.9v9.7M1105.27 217.9v-18.8M1105.27 855.9v18.8M1114.13 217.9v-9.7M1114.13 855.9v9.7M1122.99 217.9v-9.7M1122.99 855.9v9.7M1131.84 217.9v-18.8M1131.84 855.9v18.8M1140.70 217.9v-9.7M1140.70 855.9v9.7M1149.56 217.9v-9.7M1149.56 855.9v9.7M1158.41 217.9v-18.8M1158.41 855.9v18.8M1167.27 217.9v-9.7M1167.27 855.9v9.7M1176.13 217.9v-9.7M1176.13 855.9v9.7M1184.98 217.9v-18.8M1184.98 855.9v18.8M1193.84 217.9v-9.7M1193.84 855.9v9.7M1202.70 217.9v-9.7M1202.70 855.9v9.7M1211.56 217.9v-18.8M1211.56 855.9v18.8M1220.41 217.9v-9.7M1220.41 855.9v9.7M1229.27 217.9v-9.7M1229.27 855.9v9.7M1238.13 217.9v-18.8M1238.13 855.9v18.8M1246.98 217.9v-9.7M1246.98 855.9v9.7M1255.84 217.9v-9.7M1255.84 855.9v9.7M1264.70 217.9v-18.8M1264.70 855.9v18.8M1273.55 217.9v-9.7M1273.55 855.9v9.7M1282.41 217.9v-9.7M1282.41 855.9v9.7M1291.27 217.9v-18.8M1291.27 855.9v18.8M1300.13 217.9v-9.7M1300.13 855.9v9.7M1308.98 217.9v-9.7M1308.98 855.9v9.7M1317.84 217.9v-18.8M1317.84 855.9v18.8M1326.70 217.9v-9.7M1326.70 855.9v9.7M1335.55 217.9v-9.7M1335.55 855.9v9.7M1344.41 217.9v-18.8M1344.41 855.9v18.8M1353.27 217.9v-9.7M1353.27 855.9v9.7M1362.12 217.9v-9.7M1362.12 855.9v9.7M1370.98 217.9v-18.8M1370.98 855.9v18.8M1379.84 217.9v-9.7M1379.84 855.9v9.7M1388.70 217.9v-9.7M1388.70 855.9v9.7M1397.55 217.9v-18.8M1397.55 855.9v18.8M1406.41 217.9v-9.7M1406.41 855.9v9.7M1415.27 217.9v-9.7M1415.27 855.9v9.7M1424.12 217.9v-18.8M1424.12 855.9v18.8M1432.98 217.9v-9.7M1432.98 855.9v9.7M1441.84 217.9v-9.7M1441.84 855.9v9.7M1450.69 217.9v-18.8M1450.69 855.9v18.8M1459.55 217.9v-9.7M1459.55 855.9v9.7M1468.41 217.9v-9.7M1468.41 855.9v9.7M1477.27 217.9v-18.8M1477.27 855.9v18.8M1486.12 217.9v-9.7M1486.12 855.9v9.7M1494.98 217.9v-9.7M1494.98 855.9v9.7M1503.84 217.9v-18.8M1503.84 855.9v18.8M1512.69 217.9v-9.7M1512.69 855.9v9.7M1521.55 217.9v-9.7M1521.55 855.9v9.7M1530.41 217.9v-18.8M1530.41 855.9v18.8M1539.26 217.9v-9.7M1539.26 855.9v9.7M1548.12 217.9v-9.7M1548.12 855.9v9.7M1556.98 217.9v-18.8M1556.98 855.9v18.8M1565.84 217.9v-9.7M1565.84 855.9v9.7M1574.69 217.9v-9.7M1574.69 855.9v9.7M1583.55 217.9v-18.8M1583.55 855.9v18.8M1592.41 217.9v-9.7M1592.41 855.9v9.7M1601.26 217.9v-9.7M1601.26 855.9v9.7M1610.12 217.9v-18.8M1610.12 855.9v18.8M1618.98 217.9v-9.7M1618.98 855.9v9.7M1627.83 217.9v-9.7M1627.83 855.9v9.7M1636.69 217.9v-18.8M1636.69 855.9v18.8M1645.55 217.9v-9.7M1645.55 855.9v9.7M1654.41 217.9v-9.7M1654.41 855.9v9.7M1663.26 217.9v-18.8M1663.26 855.9v18.8M1672.12 217.9v-9.7M1672.12 855.9v9.7M1680.98 217.9v-9.7M1680.98 855.9v9.7M1689.83 217.9v-18.8M1689.83 855.9v18.8M1698.69 217.9v-9.7M1698.69 855.9v9.7M1707.55 217.9v-9.7M1707.55 855.9v9.7M1716.40 217.9v-18.8M1716.40 855.9v18.8M1725.26 217.9v-9.7M1725.26 855.9v9.7M1734.12 217.9v-9.7M1734.12 855.9v9.7M1742.98 217.9v-18.8M1742.98 855.9v18.8M1751.83 217.9v-9.7M1751.83 855.9v9.7M1760.69 217.9v-9.7M1760.69 855.9v9.7M1769.55 217.9v-18.8M1769.55 855.9v18.8M1778.40 217.9v-9.7M1778.40 855.9v9.7M1787.26 217.9v-9.7M1787.26 855.9v9.7M1796.12 217.9v-18.8M1796.12 855.9v18.8M1804.97 217.9v-9.7M1804.97 855.9v9.7M1813.83 217.9v-9.7M1813.83 855.9v9.7M1822.69 217.9v-18.8M1822.69 855.9v18.8M1831.55 217.9v-9.7M1831.55 855.9v9.7M1840.40 217.9v-9.7M1840.40 855.9v9.7M1849.26 217.9v-18.8M1849.26 855.9v18.8M1858.12 217.9v-9.7M1858.12 855.9v9.7M1866.97 217.9v-9.7M1866.97 855.9v9.7M1875.83 217.9v-18.8M1875.83 855.9v18.8M1884.69 217.9v-9.7M1884.69 855.9v9.7M1893.54 217.9v-9.7M1893.54 855.9v9.7M1902.40 217.9v-18.8M1902.40 855.9v18.8"/>
<path class="k2" d="M250.0 223.40h-18.9M1907.2 223.40h18.9M250.0 349.80h-18.9M1907.2 349.80h18.9M250.0 476.20h-18.9M1907.2 476.20h18.9M250.0 602.60h-18.9M1907.2 602.60h18.9M250.0 729.00h-18.9M1907.2 729.00h18.9M250.0 855.41h-18.9M1907.2 855.41h18.9"/>
<rect class="f" x="250.0" y="217.9" width="1657.2" height="638.0"/>
<g class="d">
<circle cx="304.6" cy="1130.3" r="6.4"/>
<circle cx="335.8" cy="1243.3" r="6.4"/>
<circle cx="305.2" cy="1253.4" r="6.4"/>
<circle cx="386.7" cy="1263.4" r="6.4"/>
<circle cx="324.7" cy="1279.5" r="6.4"/>
<circle cx="290.6" cy="1284.3" r="6.4"/>
<circle cx="387.4" cy="1284.3" r="6.4"/>
<circle cx="281.3" cy="1292.3" r="6.4"/>
<circle cx="371.5" cy="1293.1" r="6.4"/>
<circle cx="345.6" cy="1295.2" r="6.4"/>
<circle cx="336.1" cy="1298.8" r="6.4"/>
<circle cx="293.4" cy="1308.1" r="6.4"/>
<circle cx="297.5" cy="1312.2" r="6.4"/>
<circle cx="376.1" cy="1305.5" r="6.4"/>
<circle cx="371.2" cy="1312.2" r="6.4"/>
<circle cx="377.9" cy="1316.4" r="6.4"/>
<circle cx="293.4" cy="1320.3" r="6.4"/>
<circle cx="342.8" cy="1319.8" r="6.4"/>
<circle cx="345.9" cy="1320.0" r="6.4"/>
<circle cx="330.9" cy="1324.5" r="6.4"/>
<circle cx="375.6" cy="1325.5" r="6.4"/>
<circle cx="303.5" cy="1327.6" r="6.4"/>
<circle cx="359.1" cy="1328.1" r="6.4"/>
<circle cx="311.3" cy="1330.1" r="6.4"/>
<circle cx="336.6" cy="1330.1" r="6.4"/>
<circle cx="292.2" cy="1332.7" r="6.4"/>
<circle cx="286.0" cy="1335.8" r="6.4"/>
<circle cx="335.0" cy="1338.9" r="6.4"/>
<circle cx="357.2" cy="1340.5" r="6.4"/>
<circle cx="346.9" cy="1343.0" r="6.4"/>
<circle cx="347.4" cy="1346.7" r="6.4"/>
<circle cx="330.6" cy="1435.3" r="6.4"/>
<circle cx="288.0" cy="1451.5" r="6.4"/>
<circle cx="286.5" cy="1458.7" r="6.4"/>
<circle cx="288.0" cy="1468.0" r="6.4"/>
<circle cx="294.8" cy="1474.2" r="6.4"/>
<circle cx="283.4" cy="1479.9" r="6.4"/>
<circle cx="288.6" cy="1490.2" r="6.4"/>
<circle cx="319.9" cy="1470.6" r="6.4"/>
<circle cx="332.7" cy="1470.1" r="6.4"/>
<circle cx="332.2" cy="1478.9" r="6.4"/>
<circle cx="354.7" cy="1467.5" r="6.4"/>
<circle cx="356.7" cy="1476.3" r="6.4"/>
<circle cx="360.3" cy="1484.0" r="6.4"/>
<circle cx="380.5" cy="1472.1" r="6.4"/>
<circle cx="377.9" cy="1480.4" r="6.4"/>
<circle cx="384.6" cy="1480.4" r="6.4"/>
<circle cx="380.5" cy="1488.1" r="6.4"/>
<circle cx="374.3" cy="1499.0" r="6.4"/>
<circle cx="377.9" cy="1504.7" r="6.4"/>
<circle cx="310.8" cy="1485.0" r="6.4"/>
<circle cx="306.4" cy="1488.7" r="6.4"/>
<circle cx="329.9" cy="1496.4" r="6.4"/>
<circle cx="313.9" cy="1510.7" r="6.4"/>
<circle cx="324.0" cy="1508.3" r="6.4"/>
<circle cx="326.8" cy="1512.9" r="6.4"/>
<circle cx="360.5" cy="1522.2" r="6.4"/>
<circle cx="326.3" cy="1458.2" r="6.4"/>
<circle cx="310.3" cy="1369.2" r="6.4"/>
<circle cx="366.3" cy="1435.2" r="6.4"/>
<circle cx="345.3" cy="1365.2" r="6.4"/>
<circle cx="313.3" cy="1382.2" r="6.4"/>
<circle cx="296.3" cy="1350.2" r="6.4"/>
<circle cx="310.3" cy="1356.2" r="6.4"/>
<circle cx="307.3" cy="1460.2" r="6.4"/>
<circle cx="353.3" cy="1382.2" r="6.4"/>
<circle cx="379.3" cy="1387.2" r="6.4"/>
<circle cx="358.3" cy="1358.2" r="6.4"/>
<circle cx="345.3" cy="1408.2" r="6.4"/>
<circle cx="302.3" cy="1409.2" r="6.4"/>
<circle cx="380.3" cy="1371.2" r="6.4"/>
<circle cx="302.3" cy="1389.2" r="6.4"/>
<circle cx="380.3" cy="1375.2" r="6.4"/>
<circle cx="359.3" cy="1432.2" r="6.4"/>
<circle cx="370.3" cy="1384.2" r="6.4"/>
<circle cx="305.3" cy="1442.2" r="6.4"/>
<circle cx="286.3" cy="1415.2" r="6.4"/>
<circle cx="297.3" cy="1364.2" r="6.4"/>
<circle cx="301.3" cy="1371.2" r="6.4"/>
<circle cx="284.3" cy="1410.2" r="6.4"/>
<circle cx="325.3" cy="1375.2" r="6.4"/>
<circle cx="311.3" cy="1396.2" r="6.4"/>
<circle cx="382.3" cy="1452.2" r="6.4"/>
<circle cx="320.3" cy="1445.2" r="6.4"/>
<circle cx="383.3" cy="1393.2" r="6.4"/>
<circle cx="321.3" cy="1425.2" r="6.4"/>
<circle cx="343.3" cy="1450.2" r="6.4"/>
<circle cx="365.3" cy="1455.2" r="6.4"/>
<circle cx="366.3" cy="1449.2" r="6.4"/>
<circle cx="309.3" cy="1414.2" r="6.4"/>
<circle cx="337.3" cy="1362.2" r="6.4"/>
<circle cx="301.3" cy="1353.2" r="6.4"/>
<circle cx="285.3" cy="1378.2" r="6.4"/>
<circle cx="282.3" cy="1415.2" r="6.4"/>
<circle cx="377.3" cy="1392.2" r="6.4"/>
<circle cx="342.3" cy="1428.2" r="6.4"/>
<circle cx="335.3" cy="1367.2" r="6.4"/>
<circle cx="318.3" cy="1394.2" r="6.4"/>
<circle cx="291.3" cy="1385.2" r="6.4"/>
<circle cx="315.3" cy="1452.2" r="6.4"/>
<circle cx="375.3" cy="1347.2" r="6.4"/>
<circle cx="337.3" cy="1423.2" r="6.4"/>
<circle cx="359.3" cy="1404.2" r="6.4"/>
<circle cx="285.3" cy="1432.2" r="6.4"/>
<circle cx="320.3" cy="1349.2" r="6.4"/>
<circle cx="371.3" cy="1405.2" r="6.4"/>
<circle cx="313.3" cy="1419.2" r="6.4"/>
<circle cx="317.3" cy="1428.2" r="6.4"/>
<circle cx="310.3" cy="1405.2" r="6.4"/>
<circle cx="350.3" cy="1370.2" r="6.4"/>
<circle cx="369.3" cy="1373.2" r="6.4"/>
<circle cx="368.3" cy="1438.2" r="6.4"/>
<circle cx="360.3" cy="1397.2" r="6.4"/>
<circle cx="343.3" cy="1438.2" r="6.4"/>
<circle cx="309.3" cy="1449.2" r="6.4"/>
<circle cx="299.3" cy="1348.2" r="6.4"/>
<circle cx="331.3" cy="1361.2" r="6.4"/>
<circle cx="302.3" cy="1439.2" r="6.4"/>
<circle cx="381.3" cy="1424.2" r="6.4"/>
<circle cx="283.3" cy="1360.2" r="6.4"/>
<circle cx="371.3" cy="1380.2" r="6.4"/>
<circle cx="313.3" cy="1430.2" r="6.4"/>
<circle cx="316.3" cy="1407.2" r="6.4"/>
<circle cx="354.3" cy="1386.2" r="6.4"/>
<circle cx="304.3" cy="1382.2" r="6.4"/>
<circle cx="358.3" cy="1376.2" r="6.4"/>
<circle cx="283.3" cy="1421.2" r="6.4"/>
<circle cx="282.3" cy="1375.2" r="6.4"/>
<circle cx="359.3" cy="1390.2" r="6.4"/>
<circle cx="338.3" cy="1396.2" r="6.4"/>
<circle cx="363.3" cy="1351.2" r="6.4"/>
<circle cx="298.3" cy="1415.2" r="6.4"/>
<circle cx="303.3" cy="1414.2" r="6.4"/>
<circle cx="377.3" cy="1434.2" r="6.4"/>
<circle cx="367.3" cy="1442.2" r="6.4"/>
<circle cx="316.3" cy="1353.2" r="6.4"/>
<circle cx="333.3" cy="1421.2" r="6.4"/>
<circle cx="339.3" cy="1392.2" r="6.4"/>
<circle cx="368.3" cy="1407.2" r="6.4"/>
<circle cx="379.3" cy="1429.2" r="6.4"/>
<circle cx="372.3" cy="1394.2" r="6.4"/>
<circle cx="383.3" cy="1410.2" r="6.4"/>
<circle cx="303.3" cy="1356.2" r="6.4"/>
<circle cx="384.3" cy="1368.2" r="6.4"/>
<circle cx="333.3" cy="1371.2" r="6.4"/>
<circle cx="364.3" cy="1362.2" r="6.4"/>
<circle cx="290.3" cy="1389.2" r="6.4"/>
<circle cx="368.3" cy="1393.2" r="6.4"/>
<circle cx="296.3" cy="1435.2" r="6.4"/>
<circle cx="349.3" cy="1451.2" r="6.4"/>
<circle cx="302.3" cy="1433.2" r="6.4"/>
<circle cx="286.3" cy="1393.2" r="6.4"/>
<circle cx="322.3" cy="1448.2" r="6.4"/>
<circle cx="377.3" cy="1405.2" r="6.4"/>
<circle cx="301.3" cy="1362.2" r="6.4"/>
<circle cx="322.3" cy="1363.2" r="6.4"/>
<circle cx="323.3" cy="1405.2" r="6.4"/>
<circle cx="291.3" cy="1396.2" r="6.4"/>
<circle cx="284.3" cy="1428.2" r="6.4"/>
<circle cx="326.3" cy="1399.2" r="6.4"/>
<circle cx="319.3" cy="1455.2" r="6.4"/>
<circle cx="352.3" cy="1403.2" r="6.4"/>
<circle cx="371.3" cy="1442.2" r="6.4"/>
<circle cx="360.3" cy="1366.2" r="6.4"/>
<circle cx="314.3" cy="1376.2" r="6.4"/>
<circle cx="302.3" cy="1385.2" r="6.4"/>
<circle cx="304.3" cy="1393.2" r="6.4"/>
<circle cx="291.3" cy="1376.2" r="6.4"/>
<circle cx="380.3" cy="1407.2" r="6.4"/>
<circle cx="374.3" cy="1460.2" r="6.4"/>
<circle cx="351.3" cy="1394.2" r="6.4"/>
<circle cx="373.3" cy="1376.2" r="6.4"/>
<circle cx="383.3" cy="1447.2" r="6.4"/>
<circle cx="347.3" cy="1390.2" r="6.4"/>
<circle cx="318.3" cy="1441.2" r="6.4"/>
<circle cx="368.3" cy="1446.2" r="6.4"/>
<circle cx="298.3" cy="1429.2" r="6.4"/>
<circle cx="363.3" cy="1433.2" r="6.4"/>
<circle cx="324.3" cy="1355.2" r="6.4"/>
<circle cx="303.3" cy="1368.2" r="6.4"/>
<circle cx="311.3" cy="1341.2" r="6.4"/>
<circle cx="378.3" cy="1418.2" r="6.4"/>
<circle cx="316.3" cy="1436.2" r="6.4"/>
<circle cx="385.3" cy="1426.2" r="6.4"/>
<circle cx="365.3" cy="1368.2" r="6.4"/>
<circle cx="339.3" cy="1403.2" r="6.4"/>
<circle cx="301.3" cy="1380.2" r="6.4"/>
<circle cx="379.3" cy="1383.2" r="6.4"/>
<circle cx="325.3" cy="1454.2" r="6.4"/>
<circle cx="356.3" cy="1371.2" r="6.4"/>
<circle cx="360.3" cy="1450.2" r="6.4"/>
<circle cx="284.3" cy="1436.2" r="6.4"/>
<circle cx="301.3" cy="1405.2" r="6.4"/>
<circle cx="289.3" cy="1434.2" r="6.4"/>
<circle cx="341.3" cy="1446.2" r="6.4"/>
<circle cx="319.3" cy="1365.2" r="6.4"/>
<circle cx="379.3" cy="1413.2" r="6.4"/>
<circle cx="293.3" cy="1364.2" r="6.4"/>
<circle cx="367.3" cy="1388.2" r="6.4"/>
<circle cx="330.3" cy="1373.2" r="6.4"/>
<circle cx="317.3" cy="1372.2" r="6.4"/>
<circle cx="308.3" cy="1454.2" r="6.4"/>
<circle cx="288.3" cy="1358.2" r="6.4"/>
<circle cx="363.3" cy="1452.2" r="6.4"/>
<circle cx="362.3" cy="1356.2" r="6.4"/>
<circle cx="349.3" cy="1438.2" r="6.4"/>
<circle cx="323.3" cy="1394.2" r="6.4"/>
<circle cx="315.3" cy="1425.2" r="6.4"/>
<circle cx="358.3" cy="1354.2" r="6.4"/>
<circle cx="379.3" cy="1437.2" r="6.4"/>
<circle cx="344.3" cy="1432.2" r="6.4"/>
<circle cx="299.3" cy="1419.2" r="6.4"/>
<circle cx="355.3" cy="1434.2" r="6.4"/>
<circle cx="373.3" cy="1402.2" r="6.4"/>
<circle cx="308.3" cy="1445.2" r="6.4"/>
<circle cx="294.3" cy="1369.2" r="6.4"/>
<circle cx="341.3" cy="1362.2" r="6.4"/>
<circle cx="313.3" cy="1393.2" r="6.4"/>
<circle cx="339.3" cy="1449.2" r="6.4"/>
<circle cx="360.3" cy="1361.2" r="6.4"/>
<circle cx="364.3" cy="1375.2" r="6.4"/>
<circle cx="316.3" cy="1432.2" r="6.4"/>
<circle cx="314.3" cy="1389.2" r="6.4"/>
<circle cx="297.3" cy="1398.2" r="6.4"/>
<circle cx="298.3" cy="1423.2" r="6.4"/>
<circle cx="323.3" cy="1351.2" r="6.4"/>
<circle cx="320.3" cy="1375.2" r="6.4"/>
<circle cx="364.3" cy="1395.2" r="6.4"/>
<circle cx="313.3" cy="1372.2" r="6.4"/>
<circle cx="294.3" cy="1417.2" r="6.4"/>
<circle cx="379.3" cy="1379.2" r="6.4"/>
<circle cx="350.3" cy="1407.2" r="6.4"/>
<circle cx="320.3" cy="1407.2" r="6.4"/>
<circle cx="327.3" cy="1422.2" r="6.4"/>
<circle cx="366.3" cy="1349.2" r="6.4"/>
<circle cx="290.3" cy="1418.2" r="6.4"/>
<circle cx="368.3" cy="1458.2" r="6.4"/>
<circle cx="375.3" cy="1437.2" r="6.4"/>
<circle cx="355.3" cy="1378.2" r="6.4"/>
<circle cx="358.3" cy="1400.2" r="6.4"/>
<circle cx="364.3" cy="1407.2" r="6.4"/>
<circle cx="308.3" cy="1402.2" r="6.4"/>
<circle cx="317.3" cy="1368.2" r="6.4"/>
<circle cx="327.3" cy="1359.2" r="6.4"/>
<circle cx="299.3" cy="1376.2" r="6.4"/>
<circle cx="311.3" cy="1379.2" r="6.4"/>
<circle cx="294.3" cy="1373.2" r="6.4"/>
<circle cx="309.3" cy="1432.2" r="6.4"/>
<circle cx="288.3" cy="1380.2" r="6.4"/>
<circle cx="341.3" cy="1406.2" r="6.4"/>
<circle cx="342.3" cy="1390.2" r="6.4"/>
<circle cx="352.3" cy="1436.2" r="6.4"/>
<circle cx="303.3" cy="1350.2" r="6.4"/>
<circle cx="321.3" cy="1458.2" r="6.4"/>
<circle cx="299.3" cy="1402.2" r="6.4"/>
<circle cx="307.3" cy="1367.2" r="6.4"/>
<circle cx="306.3" cy="1354.2" r="6.4"/>
<circle cx="352.3" cy="1399.2" r="6.4"/>
<circle cx="342.3" cy="1442.2" r="6.4"/>
<circle cx="363.3" cy="1389.2" r="6.4"/>
<circle cx="337.1" cy="1413.6" r="6.4"/>
<circle cx="348.2" cy="1378.1" r="6.4"/>
<circle cx="329.0" cy="1409.6" r="6.4"/>
<circle cx="345.6" cy="1419.9" r="6.4"/>
<circle cx="323.0" cy="1383.1" r="6.4"/>
<circle cx="371.9" cy="1421.2" r="6.4"/>
<circle cx="353.6" cy="1423.4" r="6.4"/>
<circle cx="296.3" cy="1389.6" r="6.4"/>
<circle cx="320.2" cy="1414.1" r="6.4"/>
<circle cx="353.1" cy="1413.3" r="6.4"/>
<circle cx="364.3" cy="1423.9" r="6.4"/>
<circle cx="328.3" cy="1416.6" r="6.4"/>
<circle cx="341.6" cy="1371.3" r="6.4"/>
<circle cx="357.6" cy="1418.2" r="6.4"/>
<circle cx="339.3" cy="1382.4" r="6.4"/>
<circle cx="331.1" cy="1387.3" r="6.4"/>
<circle cx="317.3" cy="1359.1" r="6.4"/>
<circle cx="364.3" cy="1416.0" r="6.4"/>
<circle cx="332.4" cy="1378.9" r="6.4"/>
<circle cx="312.3" cy="1362.9" r="6.4"/>
<circle cx="332.3" cy="1394.9" r="6.4"/>
<circle cx="333.6" cy="1404.9" r="6.4"/>
<circle cx="359.6" cy="1412.1" r="6.4"/>
<circle cx="292.7" cy="1425.1" r="6.4"/>
<circle cx="372.0" cy="1415.4" r="6.4"/>
<circle cx="351.1" cy="1429.5" r="6.4"/>
<circle cx="373.3" cy="1429.1" r="6.4"/>
<circle cx="310.4" cy="1438.0" r="6.4"/>
<circle cx="345.1" cy="1383.9" r="6.4"/>
<circle cx="343.1" cy="1414.0" r="6.4"/>
<circle cx="300.4" cy="1463.6" r="6.4"/>
<circle cx="308.7" cy="1461.0" r="6.4"/>
<circle cx="333.7" cy="1561.4" r="6.4"/>
<circle cx="331.7" cy="1586.0" r="6.4"/>
<circle cx="1716.6" cy="1046.2" r="6.4"/>
<circle cx="1687.5" cy="1157.8" r="6.4"/>
<circle cx="1806.1" cy="1196.1" r="6.4"/>
<circle cx="1695.4" cy="1222.9" r="6.4"/>
<circle cx="1687.5" cy="1227.9" r="6.4"/>
<circle cx="1695.9" cy="1231.8" r="6.4"/>
<circle cx="1763.0" cy="1240.5" r="6.4"/>
<circle cx="1716.9" cy="1248.1" r="6.4"/>
<circle cx="1749.9" cy="1254.2" r="6.4"/>
<circle cx="1869.8" cy="1238.0" r="6.4"/>
<circle cx="1869.8" cy="1252.8" r="6.4"/>
<circle cx="1685.6" cy="1261.5" r="6.4"/>
<circle cx="1697.3" cy="1263.7" r="6.4"/>
<circle cx="1684.7" cy="1267.6" r="6.4"/>
<circle cx="1688.1" cy="1272.1" r="6.4"/>
<circle cx="1842.1" cy="1273.5" r="6.4"/>
<circle cx="1765.2" cy="1655.7" r="6.4"/>
<circle cx="1777.5" cy="1654.0" r="6.4"/>
<circle cx="1778.4" cy="1659.6" r="6.4"/>
<circle cx="1755.1" cy="1282.5" r="6.4"/>
<circle cx="1717.3" cy="1292.5" r="6.4"/>
<circle cx="1698.4" cy="1299.5" r="6.4"/>
<circle cx="1686.3" cy="1312.2" r="6.4"/>
<circle cx="1713.4" cy="1312.5" r="6.4"/>
<circle cx="1723.5" cy="1316.6" r="6.4"/>
<circle cx="1761.3" cy="1320.3" r="6.4"/>
<circle cx="1761.0" cy="1324.8" r="6.4"/>
<circle cx="1682.4" cy="1320.7" r="6.4"/>
<circle cx="1694.1" cy="1318.6" r="6.4"/>
<circle cx="1744.0" cy="1326.2" r="6.4"/>
<circle cx="1716.5" cy="1329.7" r="6.4"/>
<circle cx="1718.1" cy="1333.4" r="6.4"/>
<circle cx="1685.3" cy="1335.9" r="6.4"/>
<circle cx="1734.2" cy="1337.1" r="6.4"/>
<circle cx="1749.8" cy="1334.6" r="6.4"/>
<circle cx="1752.7" cy="1340.4" r="6.4"/>
<circle cx="1664.5" cy="1341.5" r="6.4"/>
<circle cx="1725.9" cy="1346.2" r="6.4"/>
<circle cx="1695.9" cy="1347.4" r="6.4"/>
<circle cx="1742.8" cy="1350.3" r="6.4"/>
<circle cx="1751.0" cy="1345.7" r="6.4"/>
<circle cx="1696.8" cy="1353.5" r="6.4"/>
<circle cx="1664.5" cy="1357.4" r="6.4"/>
<circle cx="1722.2" cy="1352.3" r="6.4"/>
<circle cx="1716.5" cy="1358.9" r="6.4"/>
<circle cx="1692.3" cy="1363.0" r="6.4"/>
<circle cx="1723.9" cy="1365.5" r="6.4"/>
<circle cx="1676.6" cy="1369.2" r="6.4"/>
<circle cx="1683.6" cy="1369.2" r="6.4"/>
<circle cx="1696.8" cy="1368.8" r="6.4"/>
<circle cx="1713.2" cy="1363.0" r="6.4"/>
<circle cx="1715.7" cy="1372.9" r="6.4"/>
<circle cx="1712.4" cy="1377.8" r="6.4"/>
<circle cx="1719.0" cy="1376.1" r="6.4"/>
<circle cx="1702.5" cy="1380.7" r="6.4"/>
<circle cx="1691.0" cy="1381.1" r="6.4"/>
<circle cx="1677.5" cy="1381.9" r="6.4"/>
<circle cx="1682.0" cy="1389.3" r="6.4"/>
<circle cx="1689.8" cy="1392.6" r="6.4"/>
<circle cx="1686.1" cy="1386.0" r="6.4"/>
<circle cx="1714.0" cy="1393.4" r="6.4"/>
<circle cx="1665.5" cy="1395.9" r="6.4"/>
<circle cx="1700.9" cy="1396.3" r="6.4"/>
<circle cx="1696.8" cy="1404.1" r="6.4"/>
<circle cx="1668.8" cy="1405.7" r="6.4"/>
<circle cx="1681.6" cy="1406.6" r="6.4"/>
<circle cx="1664.7" cy="1409.8" r="6.4"/>
<circle cx="1707.0" cy="1409.4" r="6.4"/>
<circle cx="1676.2" cy="1414.8" r="6.4"/>
<circle cx="1682.8" cy="1415.6" r="6.4"/>
<circle cx="1691.4" cy="1418.1" r="6.4"/>
<circle cx="1663.2" cy="1423.8" r="6.4"/>
<circle cx="1702.5" cy="1401.6" r="6.4"/>
<circle cx="1692.3" cy="1445.0" r="6.4"/>
<circle cx="1672.2" cy="1449.1" r="6.4"/>
<circle cx="1666.2" cy="1449.1" r="6.4"/>
<circle cx="1664.2" cy="1444.1" r="6.4"/>
<circle cx="1675.2" cy="1442.1" r="6.4"/>
<circle cx="1699.2" cy="1458.1" r="6.4"/>
<circle cx="1670.2" cy="1437.1" r="6.4"/>
<circle cx="1689.2" cy="1458.1" r="6.4"/>
<circle cx="1679.2" cy="1453.1" r="6.4"/>
<circle cx="1679.2" cy="1439.1" r="6.4"/>
<circle cx="1668.2" cy="1463.1" r="6.4"/>
<circle cx="1683.2" cy="1459.1" r="6.4"/>
<circle cx="1679.2" cy="1462.1" r="6.4"/>
<circle cx="1675.2" cy="1452.1" r="6.4"/>
<circle cx="1677.2" cy="1434.1" r="6.4"/>
<circle cx="1667.2" cy="1440.1" r="6.4"/>
<circle cx="1673.2" cy="1456.1" r="6.4"/>
<circle cx="1674.2" cy="1436.1" r="6.4"/>
<circle cx="1700.2" cy="1462.1" r="6.4"/>
<circle cx="1671.2" cy="1460.1" r="6.4"/>
<circle cx="1693.2" cy="1458.1" r="6.4"/>
<circle cx="1673.2" cy="1445.1" r="6.4"/>
<circle cx="1682.2" cy="1455.1" r="6.4"/>
<circle cx="1752.7" cy="1390.0" r="6.4"/>
<circle cx="1726.7" cy="1434.0" r="6.4"/>
<circle cx="1758.7" cy="1464.0" r="6.4"/>
<circle cx="1728.7" cy="1386.0" r="6.4"/>
<circle cx="1714.7" cy="1435.0" r="6.4"/>
<circle cx="1758.7" cy="1403.0" r="6.4"/>
<circle cx="1735.7" cy="1396.0" r="6.4"/>
<circle cx="1757.7" cy="1445.0" r="6.4"/>
<circle cx="1758.7" cy="1414.0" r="6.4"/>
<circle cx="1739.7" cy="1395.0" r="6.4"/>
<circle cx="1756.7" cy="1397.0" r="6.4"/>
<circle cx="1758.7" cy="1377.0" r="6.4"/>
<circle cx="1740.7" cy="1425.0" r="6.4"/>
<circle cx="1733.7" cy="1383.0" r="6.4"/>
<circle cx="1715.7" cy="1452.0" r="6.4"/>
<circle cx="1726.7" cy="1412.0" r="6.4"/>
<circle cx="1754.7" cy="1394.0" r="6.4"/>
<circle cx="1738.7" cy="1400.0" r="6.4"/>
<circle cx="1718.7" cy="1454.0" r="6.4"/>
<circle cx="1720.7" cy="1414.0" r="6.4"/>
<circle cx="1750.7" cy="1420.0" r="6.4"/>
<circle cx="1759.7" cy="1453.0" r="6.4"/>
<circle cx="1760.7" cy="1433.0" r="6.4"/>
<circle cx="1758.7" cy="1381.0" r="6.4"/>
<circle cx="1740.7" cy="1412.0" r="6.4"/>
<circle cx="1738.7" cy="1409.0" r="6.4"/>
<circle cx="1708.7" cy="1449.0" r="6.4"/>
<circle cx="1753.7" cy="1369.0" r="6.4"/>
<circle cx="1699.7" cy="1436.0" r="6.4"/>
<circle cx="1721.7" cy="1465.0" r="6.4"/>
<circle cx="1708.7" cy="1431.0" r="6.4"/>
<circle cx="1720.7" cy="1460.0" r="6.4"/>
<circle cx="1752.7" cy="1384.0" r="6.4"/>
<circle cx="1748.7" cy="1388.0" r="6.4"/>
<circle cx="1738.7" cy="1389.0" r="6.4"/>
<circle cx="1734.7" cy="1408.0" r="6.4"/>
<circle cx="1739.7" cy="1431.0" r="6.4"/>
<circle cx="1736.7" cy="1405.0" r="6.4"/>
<circle cx="1761.7" cy="1412.0" r="6.4"/>
<circle cx="1721.7" cy="1410.0" r="6.4"/>
<circle cx="1720.7" cy="1434.0" r="6.4"/>
<circle cx="1704.7" cy="1442.0" r="6.4"/>
<circle cx="1728.7" cy="1420.0" r="6.4"/>
<circle cx="1759.7" cy="1449.0" r="6.4"/>
<circle cx="1723.7" cy="1432.0" r="6.4"/>
<circle cx="1732.7" cy="1420.0" r="6.4"/>
<circle cx="1744.7" cy="1417.0" r="6.4"/>
<circle cx="1730.7" cy="1434.0" r="6.4"/>
<circle cx="1757.7" cy="1423.0" r="6.4"/>
<circle cx="1702.7" cy="1438.0" r="6.4"/>
<circle cx="1755.7" cy="1375.0" r="6.4"/>
<circle cx="1725.7" cy="1416.0" r="6.4"/>
<circle cx="1759.7" cy="1457.0" r="6.4"/>
<circle cx="1732.7" cy="1393.0" r="6.4"/>
<circle cx="1730.7" cy="1411.0" r="6.4"/>
<circle cx="1737.7" cy="1421.0" r="6.4"/>
<circle cx="1754.7" cy="1402.0" r="6.4"/>
<circle cx="1756.7" cy="1371.0" r="6.4"/>
<circle cx="1711.7" cy="1451.0" r="6.4"/>
<circle cx="1709.7" cy="1427.0" r="6.4"/>
<circle cx="1755.7" cy="1416.0" r="6.4"/>
<circle cx="1734.7" cy="1433.0" r="6.4"/>
<circle cx="1753.7" cy="1380.0" r="6.4"/>
<circle cx="1730.7" cy="1389.0" r="6.4"/>
<circle cx="1759.7" cy="1426.0" r="6.4"/>
<circle cx="1754.7" cy="1359.0" r="6.4"/>
<circle cx="1711.7" cy="1433.0" r="6.4"/>
<circle cx="1705.7" cy="1434.0" r="6.4"/>
<circle cx="1762.7" cy="1406.0" r="6.4"/>
<circle cx="1757.7" cy="1439.0" r="6.4"/>
<circle cx="1736.7" cy="1386.0" r="6.4"/>
<circle cx="1757.7" cy="1419.0" r="6.4"/>
<circle cx="1759.7" cy="1399.0" r="6.4"/>
<circle cx="1707.7" cy="1445.0" r="6.4"/>
<circle cx="1725.7" cy="1384.0" r="6.4"/>
<circle cx="1733.7" cy="1457.7" r="6.4"/>
<circle cx="1737.7" cy="1464.0" r="6.4"/>
<circle cx="1750.4" cy="1459.6" r="6.4"/>
<circle cx="1749.7" cy="1441.2" r="6.4"/>
<circle cx="1738.6" cy="1448.1" r="6.4"/>
<circle cx="1735.5" cy="1439.2" r="6.4"/>
<circle cx="1728.9" cy="1462.0" r="6.4"/>
<circle cx="1728.0" cy="1453.9" r="6.4"/>
<circle cx="1721.6" cy="1443.6" r="6.4"/>
<circle cx="1753.6" cy="1434.2" r="6.4"/>
<circle cx="1742.9" cy="1440.9" r="6.4"/>
<circle cx="1751.6" cy="1428.1" r="6.4"/>
<circle cx="1728.3" cy="1447.0" r="6.4"/>
<circle cx="1746.0" cy="1431.7" r="6.4"/>
<circle cx="1748.4" cy="1452.0" r="6.4"/>
<circle cx="1743.8" cy="1460.9" r="6.4"/>
<circle cx="1715.1" cy="1445.4" r="6.4"/>
<circle cx="1741.4" cy="1453.9" r="6.4"/>
<circle cx="1727.5" cy="1441.3" r="6.4"/>
<circle cx="1744.8" cy="1447.0" r="6.4"/>
<circle cx="1751.4" cy="1447.2" r="6.4"/>
<circle cx="1746.9" cy="1492.5" r="6.4"/>
<circle cx="1666.4" cy="1508.1" r="6.4"/>
<circle cx="1673.8" cy="1515.9" r="6.4"/>
<circle cx="1678.7" cy="1521.2" r="6.4"/>
<circle cx="1690.9" cy="1517.5" r="6.4"/>
<circle cx="1700.9" cy="1518.8" r="6.4"/>
<circle cx="1702.5" cy="1505.6" r="6.4"/>
<circle cx="1707.5" cy="1512.6" r="6.4"/>
<circle cx="1711.6" cy="1506.0" r="6.4"/>
<circle cx="1710.7" cy="1512.6" r="6.4"/>
<circle cx="1720.6" cy="1509.3" r="6.4"/>
<circle cx="1728.4" cy="1506.0" r="6.4"/>
<circle cx="1726.4" cy="1510.9" r="6.4"/>
<circle cx="1735.0" cy="1515.2" r="6.4"/>
<circle cx="1674.2" cy="1534.4" r="6.4"/>
<circle cx="1705.2" cy="1531.3" r="6.4"/>
<circle cx="1704.2" cy="1536.8" r="6.4"/>
<circle cx="1738.3" cy="1533.5" r="6.4"/>
<circle cx="1747.3" cy="1530.3" r="6.4"/>
<circle cx="1707.5" cy="1568.1" r="6.4"/>
<circle cx="1709.5" cy="1574.6" r="6.4"/>
<circle cx="1710.7" cy="1629.3" r="6.4"/>
<circle cx="1765.6" cy="1510.1" r="6.4"/>
<circle cx="1765.4" cy="1539.3" r="6.4"/>
<circle cx="1769.5" cy="1589.4" r="6.4"/>
<circle cx="1768.3" cy="1538.9" r="6.4"/>
<circle cx="1769.1" cy="1510.9" r="6.4"/>
<circle cx="1769.9" cy="1562.7" r="6.4"/>
<circle cx="1677.7" cy="1470.7" r="6.4"/>
<circle cx="1668.7" cy="1467.7" r="6.4"/>
<circle cx="1751.7" cy="1471.7" r="6.4"/>
<circle cx="1703.7" cy="1487.7" r="6.4"/>
<circle cx="1727.7" cy="1465.7" r="6.4"/>
<circle cx="1713.7" cy="1471.7" r="6.4"/>
<circle cx="1676.7" cy="1477.7" r="6.4"/>
<circle cx="1726.7" cy="1470.7" r="6.4"/>
<circle cx="1683.7" cy="1477.7" r="6.4"/>
<circle cx="1714.7" cy="1475.7" r="6.4"/>
<circle cx="1697.7" cy="1472.7" r="6.4"/>
<circle cx="1709.7" cy="1475.7" r="6.4"/>
<circle cx="1742.7" cy="1470.7" r="6.4"/>
<circle cx="1693.7" cy="1484.7" r="6.4"/>
<circle cx="1676.7" cy="1465.7" r="6.4"/>
<circle cx="1729.7" cy="1468.7" r="6.4"/>
<circle cx="1686.7" cy="1472.7" r="6.4"/>
<circle cx="1691.7" cy="1470.7" r="6.4"/>
<circle cx="1721.7" cy="1472.7" r="6.4"/>
<circle cx="1712.7" cy="1467.7" r="6.4"/>
<circle cx="1722.7" cy="1477.7" r="6.4"/>
<circle cx="1733.7" cy="1467.7" r="6.4"/>
<circle cx="1689.7" cy="1477.7" r="6.4"/>
<circle cx="1756.7" cy="1467.7" r="6.4"/>
<circle cx="1681.7" cy="1481.7" r="6.4"/>
<circle cx="1681.7" cy="1472.7" r="6.4"/>
<circle cx="1683.7" cy="1492.7" r="6.4"/>
<circle cx="1700.7" cy="1470.7" r="6.4"/>
<circle cx="1698.7" cy="1486.7" r="6.4"/>
<circle cx="1746.7" cy="1471.7" r="6.4"/>
<circle cx="1702.7" cy="1481.7" r="6.4"/>
<circle cx="1717.7" cy="1472.7" r="6.4"/>
<circle cx="1755.7" cy="1471.7" r="6.4"/>
<circle cx="1705.7" cy="1476.7" r="6.4"/>
<circle cx="1737.7" cy="1470.7" r="6.4"/>
<circle cx="1718.7" cy="1477.7" r="6.4"/>
<circle cx="1692.7" cy="1479.7" r="6.4"/>
<circle cx="1674.7" cy="1474.7" r="6.4"/>
<circle cx="1724.7" cy="1474.7" r="6.4"/>
<circle cx="1672.7" cy="1469.7" r="6.4"/>
<circle cx="1706.9" cy="1468.9" r="6.4"/>
<circle cx="1808.6" cy="1284.1" r="6.4"/>
<circle cx="1807.7" cy="1288.6" r="6.4"/>
<circle cx="1815.1" cy="1295.2" r="6.4"/>
<circle cx="1814.3" cy="1300.5" r="6.4"/>
<circle cx="1820.5" cy="1307.0" r="6.4"/>
<circle cx="1800.7" cy="1299.6" r="6.4"/>
<circle cx="1855.8" cy="1293.3" r="6.4"/>
<circle cx="1869.0" cy="1283.3" r="6.4"/>
<circle cx="1872.2" cy="1289.9" r="6.4"/>
<circle cx="1871.4" cy="1295.2" r="6.4"/>
<circle cx="1875.5" cy="1304.2" r="6.4"/>
<circle cx="1871.8" cy="1314.5" r="6.4"/>
<circle cx="1875.1" cy="1322.3" r="6.4"/>
<circle cx="1856.6" cy="1325.9" r="6.4"/>
<circle cx="1855.8" cy="1337.5" r="6.4"/>
<circle cx="1871.4" cy="1334.6" r="6.4"/>
<circle cx="1793.4" cy="1341.2" r="6.4"/>
<circle cx="1783.7" cy="1351.3" r="6.4"/>
<circle cx="1873.1" cy="1355.2" r="6.4"/>
<circle cx="1875.1" cy="1363.0" r="6.4"/>
<circle cx="1862.4" cy="1363.4" r="6.4"/>
<circle cx="1834.0" cy="1455.4" r="6.4"/>
<circle cx="1848.3" cy="1355.1" r="6.4"/>
<circle cx="1843.3" cy="1376.1" r="6.4"/>
<circle cx="1807.3" cy="1367.1" r="6.4"/>
<circle cx="1871.3" cy="1462.1" r="6.4"/>
<circle cx="1812.3" cy="1353.1" r="6.4"/>
<circle cx="1818.3" cy="1327.1" r="6.4"/>
<circle cx="1789.3" cy="1432.1" r="6.4"/>
<circle cx="1812.3" cy="1431.1" r="6.4"/>
<circle cx="1822.3" cy="1358.1" r="6.4"/>
<circle cx="1809.3" cy="1455.1" r="6.4"/>
<circle cx="1856.3" cy="1378.1" r="6.4"/>
<circle cx="1810.3" cy="1332.1" r="6.4"/>
<circle cx="1841.3" cy="1438.1" r="6.4"/>
<circle cx="1781.3" cy="1404.1" r="6.4"/>
<circle cx="1790.3" cy="1380.1" r="6.4"/>
<circle cx="1830.3" cy="1328.1" r="6.4"/>
<circle cx="1785.3" cy="1428.1" r="6.4"/>
<circle cx="1822.3" cy="1441.1" r="6.4"/>
<circle cx="1824.3" cy="1326.1" r="6.4"/>
<circle cx="1844.3" cy="1358.1" r="6.4"/>
<circle cx="1817.3" cy="1445.1" r="6.4"/>
<circle cx="1813.3" cy="1451.1" r="6.4"/>
<circle cx="1841.3" cy="1366.1" r="6.4"/>
<circle cx="1815.3" cy="1433.1" r="6.4"/>
<circle cx="1833.3" cy="1439.1" r="6.4"/>
<circle cx="1838.3" cy="1374.1" r="6.4"/>
<circle cx="1866.3" cy="1402.1" r="6.4"/>
<circle cx="1850.3" cy="1446.1" r="6.4"/>
<circle cx="1815.3" cy="1440.1" r="6.4"/>
<circle cx="1786.3" cy="1395.1" r="6.4"/>
<circle cx="1862.3" cy="1463.1" r="6.4"/>
<circle cx="1790.3" cy="1375.1" r="6.4"/>
<circle cx="1847.3" cy="1459.1" r="6.4"/>
<circle cx="1796.3" cy="1426.1" r="6.4"/>
<circle cx="1839.3" cy="1443.1" r="6.4"/>
<circle cx="1850.3" cy="1421.1" r="6.4"/>
<circle cx="1867.3" cy="1415.1" r="6.4"/>
<circle cx="1845.3" cy="1428.1" r="6.4"/>
<circle cx="1822.3" cy="1329.1" r="6.4"/>
<circle cx="1847.3" cy="1453.1" r="6.4"/>
<circle cx="1784.3" cy="1406.1" r="6.4"/>
<circle cx="1839.3" cy="1434.1" r="6.4"/>
<circle cx="1819.3" cy="1370.1" r="6.4"/>
<circle cx="1836.3" cy="1351.1" r="6.4"/>
<circle cx="1863.3" cy="1422.1" r="6.4"/>
<circle cx="1798.3" cy="1372.1" r="6.4"/>
<circle cx="1799.3" cy="1424.1" r="6.4"/>
<circle cx="1841.3" cy="1352.1" r="6.4"/>
<circle cx="1809.3" cy="1379.1" r="6.4"/>
<circle cx="1865.3" cy="1426.1" r="6.4"/>
<circle cx="1785.3" cy="1371.1" r="6.4"/>
<circle cx="1839.3" cy="1384.1" r="6.4"/>
<circle cx="1872.3" cy="1382.1" r="6.4"/>
<circle cx="1855.3" cy="1417.1" r="6.4"/>
<circle cx="1807.3" cy="1352.1" r="6.4"/>
<circle cx="1783.3" cy="1417.1" r="6.4"/>
<circle cx="1857.3" cy="1352.1" r="6.4"/>
<circle cx="1861.3" cy="1350.1" r="6.4"/>
<circle cx="1852.3" cy="1381.1" r="6.4"/>
<circle cx="1872.3" cy="1394.1" r="6.4"/>
<circle cx="1811.3" cy="1443.1" r="6.4"/>
<circle cx="1865.3" cy="1419.1" r="6.4"/>
<circle cx="1872.3" cy="1405.1" r="6.4"/>
<circle cx="1814.3" cy="1332.1" r="6.4"/>
<circle cx="1868.3" cy="1455.1" r="6.4"/>
<circle cx="1793.3" cy="1391.1" r="6.4"/>
<circle cx="1859.3" cy="1376.1" r="6.4"/>
<circle cx="1857.3" cy="1451.1" r="6.4"/>
<circle cx="1865.3" cy="1383.1" r="6.4"/>
<circle cx="1863.3" cy="1448.1" r="6.4"/>
<circle cx="1819.3" cy="1351.1" r="6.4"/>
<circle cx="1843.3" cy="1370.1" r="6.4"/>
<circle cx="1806.3" cy="1327.1" r="6.4"/>
<circle cx="1826.3" cy="1390.1" r="6.4"/>
<circle cx="1869.3" cy="1411.1" r="6.4"/>
<circle cx="1834.3" cy="1372.1" r="6.4"/>
<circle cx="1815.3" cy="1383.1" r="6.4"/>
<circle cx="1824.3" cy="1364.1" r="6.4"/>
<circle cx="1824.3" cy="1344.1" r="6.4"/>
<circle cx="1846.3" cy="1442.1" r="6.4"/>
<circle cx="1842.3" cy="1430.1" r="6.4"/>
<circle cx="1785.3" cy="1413.1" r="6.4"/>
<circle cx="1834.3" cy="1386.1" r="6.4"/>
<circle cx="1826.3" cy="1373.1" r="6.4"/>
<circle cx="1804.3" cy="1370.1" r="6.4"/>
<circle cx="1782.3" cy="1395.1" r="6.4"/>
<circle cx="1860.3" cy="1455.1" r="6.4"/>
<circle cx="1786.3" cy="1409.1" r="6.4"/>
<circle cx="1866.3" cy="1397.1" r="6.4"/>
<circle cx="1830.3" cy="1348.1" r="6.4"/>
<circle cx="1841.3" cy="1360.1" r="6.4"/>
<circle cx="1825.3" cy="1339.1" r="6.4"/>
<circle cx="1826.3" cy="1439.1" r="6.4"/>
<circle cx="1812.3" cy="1447.1" r="6.4"/>
<circle cx="1807.3" cy="1426.1" r="6.4"/>
<circle cx="1850.3" cy="1441.1" r="6.4"/>
<circle cx="1865.3" cy="1452.1" r="6.4"/>
<circle cx="1791.3" cy="1429.1" r="6.4"/>
<circle cx="1828.3" cy="1332.1" r="6.4"/>
<circle cx="1813.3" cy="1456.1" r="6.4"/>
<circle cx="1795.3" cy="1386.1" r="6.4"/>
<circle cx="1819.3" cy="1386.1" r="6.4"/>
<circle cx="1806.3" cy="1375.1" r="6.4"/>
<circle cx="1783.3" cy="1425.1" r="6.4"/>
<circle cx="1783.3" cy="1421.1" r="6.4"/>
<circle cx="1825.3" cy="1334.1" r="6.4"/>
<circle cx="1819.3" cy="1355.1" r="6.4"/>
<circle cx="1822.3" cy="1367.1" r="6.4"/>
<circle cx="1823.3" cy="1348.1" r="6.4"/>
<circle cx="1841.3" cy="1381.1" r="6.4"/>
<circle cx="1832.3" cy="1389.1" r="6.4"/>
<circle cx="1849.3" cy="1426.1" r="6.4"/>
<circle cx="1816.3" cy="1353.1" r="6.4"/>
<circle cx="1874.3" cy="1460.1" r="6.4"/>
<circle cx="1790.3" cy="1394.1" r="6.4"/>
<circle cx="1870.3" cy="1389.1" r="6.4"/>
<circle cx="1848.3" cy="1380.1" r="6.4"/>
<circle cx="1830.3" cy="1371.1" r="6.4"/>
<circle cx="1794.3" cy="1374.1" r="6.4"/>
<circle cx="1855.3" cy="1440.1" r="6.4"/>
<circle cx="1854.3" cy="1354.1" r="6.4"/>
<circle cx="1849.3" cy="1450.1" r="6.4"/>
<circle cx="1859.3" cy="1418.1" r="6.4"/>
<circle cx="1821.3" cy="1389.1" r="6.4"/>
<circle cx="1793.3" cy="1382.1" r="6.4"/>
<circle cx="1781.3" cy="1399.1" r="6.4"/>
<circle cx="1789.3" cy="1436.1" r="6.4"/>
<circle cx="1860.3" cy="1380.1" r="6.4"/>
<circle cx="1803.3" cy="1423.1" r="6.4"/>
<circle cx="1858.3" cy="1444.1" r="6.4"/>
<circle cx="1835.3" cy="1442.1" r="6.4"/>
<circle cx="1845.3" cy="1456.1" r="6.4"/>
<circle cx="1862.3" cy="1459.1" r="6.4"/>
<circle cx="1868.3" cy="1394.1" r="6.4"/>
<circle cx="1872.3" cy="1457.1" r="6.4"/>
<circle cx="1853.3" cy="1450.1" r="6.4"/>
<circle cx="1870.3" cy="1385.1" r="6.4"/>
<circle cx="1829.9" cy="1365.4" r="6.4"/>
<circle cx="1816.5" cy="1400.8" r="6.4"/>
<circle cx="1836.2" cy="1399.3" r="6.4"/>
<circle cx="1830.9" cy="1354.9" r="6.4"/>
<circle cx="1838.0" cy="1392.1" r="6.4"/>
<circle cx="1852.5" cy="1404.3" r="6.4"/>
<circle cx="1835.2" cy="1425.7" r="6.4"/>
<circle cx="1853.9" cy="1411.0" r="6.4"/>
<circle cx="1831.9" cy="1432.9" r="6.4"/>
<circle cx="1847.5" cy="1389.1" r="6.4"/>
<circle cx="1851.1" cy="1398.0" r="6.4"/>
<circle cx="1862.5" cy="1410.5" r="6.4"/>
<circle cx="1796.4" cy="1415.7" r="6.4"/>
<circle cx="1793.5" cy="1400.4" r="6.4"/>
<circle cx="1819.2" cy="1425.8" r="6.4"/>
<circle cx="1843.4" cy="1422.3" r="6.4"/>
<circle cx="1822.6" cy="1397.3" r="6.4"/>
<circle cx="1821.1" cy="1407.8" r="6.4"/>
<circle cx="1830.6" cy="1395.4" r="6.4"/>
<circle cx="1800.4" cy="1390.7" r="6.4"/>
<circle cx="1857.0" cy="1386.1" r="6.4"/>
<circle cx="1864.6" cy="1389.3" r="6.4"/>
<circle cx="1842.3" cy="1399.2" r="6.4"/>
<circle cx="1859.2" cy="1392.4" r="6.4"/>
<circle cx="1813.2" cy="1393.4" r="6.4"/>
<circle cx="1803.2" cy="1415.1" r="6.4"/>
<circle cx="1829.7" cy="1407.2" r="6.4"/>
<circle cx="1828.2" cy="1400.7" r="6.4"/>
<circle cx="1793.2" cy="1407.9" r="6.4"/>
<circle cx="1839.2" cy="1415.7" r="6.4"/>
<circle cx="1824.2" cy="1413.0" r="6.4"/>
<circle cx="1805.5" cy="1396.9" r="6.4"/>
<circle cx="1859.5" cy="1403.1" r="6.4"/>
<circle cx="1789.3" cy="1421.3" r="6.4"/>
<circle cx="1821.6" cy="1431.8" r="6.4"/>
<circle cx="1853.1" cy="1390.7" r="6.4"/>
<circle cx="1834.3" cy="1360.7" r="6.4"/>
<circle cx="1849.1" cy="1415.4" r="6.4"/>
<circle cx="1823.2" cy="1419.0" r="6.4"/>
<circle cx="1809.1" cy="1420.3" r="6.4"/>
<circle cx="1840.3" cy="1405.1" r="6.4"/>
<circle cx="1795.2" cy="1447.5" r="6.4"/>
<circle cx="1797.2" cy="1457.5" r="6.4"/>
<circle cx="1788.2" cy="1460.5" r="6.4"/>
<circle cx="1797.2" cy="1461.5" r="6.4"/>
<circle cx="1784.2" cy="1452.5" r="6.4"/>
<circle cx="1790.2" cy="1448.5" r="6.4"/>
<circle cx="1795.2" cy="1452.5" r="6.4"/>
<circle cx="1786.2" cy="1449.5" r="6.4"/>
<circle cx="1786.2" cy="1456.5" r="6.4"/>
<circle cx="1773.2" cy="1472.3" r="6.4"/>
<circle cx="1780.6" cy="1472.3" r="6.4"/>
<circle cx="1786.8" cy="1472.7" r="6.4"/>
<circle cx="1792.1" cy="1469.5" r="6.4"/>
<circle cx="1797.5" cy="1465.1" r="6.4"/>
<circle cx="1811.2" cy="1466.4" r="6.4"/>
<circle cx="1832.5" cy="1466.6" r="6.4"/>
<circle cx="1850.9" cy="1466.6" r="6.4"/>
<circle cx="1852.3" cy="1470.7" r="6.4"/>
<circle cx="1850.5" cy="1479.1" r="6.4"/>
<circle cx="1845.1" cy="1482.8" r="6.4"/>
<circle cx="1864.4" cy="1466.2" r="6.4"/>
<circle cx="1867.7" cy="1469.5" r="6.4"/>
<circle cx="1870.3" cy="1476.8" r="6.4"/>
<circle cx="1773.2" cy="1485.5" r="6.4"/>
<circle cx="1770.8" cy="1490.4" r="6.4"/>
<circle cx="1785.0" cy="1490.6" r="6.4"/>
<circle cx="1815.8" cy="1487.0" r="6.4"/>
<circle cx="1817.2" cy="1499.4" r="6.4"/>
<circle cx="1845.4" cy="1497.4" r="6.4"/>
<circle cx="1775.7" cy="1501.1" r="6.4"/>
<circle cx="1773.2" cy="1508.5" r="6.4"/>
<circle cx="1776.1" cy="1514.6" r="6.4"/>
<circle cx="1788.3" cy="1522.6" r="6.4"/>
<circle cx="1775.0" cy="1528.2" r="6.4"/>
<circle cx="1816.4" cy="1527.4" r="6.4"/>
<circle cx="1808.6" cy="1537.4" r="6.4"/>
<circle cx="1838.3" cy="1531.5" r="6.4"/>
<circle cx="1773.2" cy="1538.9" r="6.4"/>
<circle cx="1772.0" cy="1543.8" r="6.4"/>
<circle cx="1776.5" cy="1555.7" r="6.4"/>
<circle cx="1770.8" cy="1557.8" r="6.4"/>
<circle cx="1774.2" cy="1569.7" r="6.4"/>
</g>
<path class="k" d="M255.00 1034.0v-18.8M255.00 1672.0v18.8M263.86 1034.0v-9.7M263.86 1672.0v9.7M272.71 1034.0v-9.7M272.71 1672.0v9.7M281.57 1034.0v-18.8M281.57 1672.0v18.8M290.43 1034.0v-9.7M290.43 1672.0v9.7M299.28 1034.0v-9.7M299.28 1672.0v9.7M308.14 1034.0v-18.8M308.14 1672.0v18.8M317.00 1034.0v-9.7M317.00 1672.0v9.7M325.86 1034.0v-9.7M325.86 1672.0v9.7M334.71 1034.0v-18.8M334.71 1672.0v18.8M343.57 1034.0v-9.7M343.57 1672.0v9.7M352.43 1034.0v-9.7M352.43 1672.0v9.7M361.28 1034.0v-18.8M361.28 1672.0v18.8M370.14 1034.0v-9.7M370.14 1672.0v9.7M379.00 1034.0v-9.7M379.00 1672.0v9.7M387.85 1034.0v-18.8M387.85 1672.0v18.8M396.71 1034.0v-9.7M396.71 1672.0v9.7M405.57 1034.0v-9.7M405.57 1672.0v9.7M414.43 1034.0v-18.8M414.43 1672.0v18.8M423.28 1034.0v-9.7M423.28 1672.0v9.7M432.14 1034.0v-9.7M432.14 1672.0v9.7M441.00 1034.0v-18.8M441.00 1672.0v18.8M449.85 1034.0v-9.7M449.85 1672.0v9.7M458.71 1034.0v-9.7M458.71 1672.0v9.7M467.57 1034.0v-18.8M467.57 1672.0v18.8M476.42 1034.0v-9.7M476.42 1672.0v9.7M485.28 1034.0v-9.7M485.28 1672.0v9.7M494.14 1034.0v-18.8M494.14 1672.0v18.8M503.00 1034.0v-9.7M503.00 1672.0v9.7M511.85 1034.0v-9.7M511.85 1672.0v9.7M520.71 1034.0v-18.8M520.71 1672.0v18.8M529.57 1034.0v-9.7M529.57 1672.0v9.7M538.42 1034.0v-9.7M538.42 1672.0v9.7M547.28 1034.0v-18.8M547.28 1672.0v18.8M556.14 1034.0v-9.7M556.14 1672.0v9.7M564.99 1034.0v-9.7M564.99 1672.0v9.7M573.85 1034.0v-18.8M573.85 1672.0v18.8M582.71 1034.0v-9.7M582.71 1672.0v9.7M591.57 1034.0v-9.7M591.57 1672.0v9.7M600.42 1034.0v-18.8M600.42 1672.0v18.8M609.28 1034.0v-9.7M609.28 1672.0v9.7M618.14 1034.0v-9.7M618.14 1672.0v9.7M626.99 1034.0v-18.8M626.99 1672.0v18.8M635.85 1034.0v-9.7M635.85 1672.0v9.7M644.71 1034.0v-9.7M644.71 1672.0v9.7M653.56 1034.0v-18.8M653.56 1672.0v18.8M662.42 1034.0v-9.7M662.42 1672.0v9.7M671.28 1034.0v-9.7M671.28 1672.0v9.7M680.13 1034.0v-18.8M680.13 1672.0v18.8M688.99 1034.0v-9.7M688.99 1672.0v9.7M697.85 1034.0v-9.7M697.85 1672.0v9.7M706.71 1034.0v-18.8M706.71 1672.0v18.8M715.56 1034.0v-9.7M715.56 1672.0v9.7M724.42 1034.0v-9.7M724.42 1672.0v9.7M733.28 1034.0v-18.8M733.28 1672.0v18.8M742.13 1034.0v-9.7M742.13 1672.0v9.7M750.99 1034.0v-9.7M750.99 1672.0v9.7M759.85 1034.0v-18.8M759.85 1672.0v18.8M768.71 1034.0v-9.7M768.71 1672.0v9.7M777.56 1034.0v-9.7M777.56 1672.0v9.7M786.42 1034.0v-18.8M786.42 1672.0v18.8M795.28 1034.0v-9.7M795.28 1672.0v9.7M804.13 1034.0v-9.7M804.13 1672.0v9.7M812.99 1034.0v-18.8M812.99 1672.0v18.8M821.85 1034.0v-9.7M821.85 1672.0v9.7M830.70 1034.0v-9.7M830.70 1672.0v9.7M839.56 1034.0v-18.8M839.56 1672.0v18.8M848.42 1034.0v-9.7M848.42 1672.0v9.7M857.28 1034.0v-9.7M857.28 1672.0v9.7M866.13 1034.0v-18.8M866.13 1672.0v18.8M874.99 1034.0v-9.7M874.99 1672.0v9.7M883.85 1034.0v-9.7M883.85 1672.0v9.7M892.70 1034.0v-18.8M892.70 1672.0v18.8M901.56 1034.0v-9.7M901.56 1672.0v9.7M910.42 1034.0v-9.7M910.42 1672.0v9.7M919.27 1034.0v-18.8M919.27 1672.0v18.8M928.13 1034.0v-9.7M928.13 1672.0v9.7M936.99 1034.0v-9.7M936.99 1672.0v9.7M945.85 1034.0v-18.8M945.85 1672.0v18.8M954.70 1034.0v-9.7M954.70 1672.0v9.7M963.56 1034.0v-9.7M963.56 1672.0v9.7M972.42 1034.0v-18.8M972.42 1672.0v18.8M981.27 1034.0v-9.7M981.27 1672.0v9.7M990.13 1034.0v-9.7M990.13 1672.0v9.7M998.99 1034.0v-18.8M998.99 1672.0v18.8M1007.84 1034.0v-9.7M1007.84 1672.0v9.7M1016.70 1034.0v-9.7M1016.70 1672.0v9.7M1025.56 1034.0v-18.8M1025.56 1672.0v18.8M1034.42 1034.0v-9.7M1034.42 1672.0v9.7M1043.27 1034.0v-9.7M1043.27 1672.0v9.7M1052.13 1034.0v-18.8M1052.13 1672.0v18.8M1060.99 1034.0v-9.7M1060.99 1672.0v9.7M1069.84 1034.0v-9.7M1069.84 1672.0v9.7M1078.70 1034.0v-18.8M1078.70 1672.0v18.8M1087.56 1034.0v-9.7M1087.56 1672.0v9.7M1096.41 1034.0v-9.7M1096.41 1672.0v9.7M1105.27 1034.0v-18.8M1105.27 1672.0v18.8M1114.13 1034.0v-9.7M1114.13 1672.0v9.7M1122.99 1034.0v-9.7M1122.99 1672.0v9.7M1131.84 1034.0v-18.8M1131.84 1672.0v18.8M1140.70 1034.0v-9.7M1140.70 1672.0v9.7M1149.56 1034.0v-9.7M1149.56 1672.0v9.7M1158.41 1034.0v-18.8M1158.41 1672.0v18.8M1167.27 1034.0v-9.7M1167.27 1672.0v9.7M1176.13 1034.0v-9.7M1176.13 1672.0v9.7M1184.98 1034.0v-18.8M1184.98 1672.0v18.8M1193.84 1034.0v-9.7M1193.84 1672.0v9.7M1202.70 1034.0v-9.7M1202.70 1672.0v9.7M1211.56 1034.0v-18.8M1211.56 1672.0v18.8M1220.41 1034.0v-9.7M1220.41 1672.0v9.7M1229.27 1034.0v-9.7M1229.27 1672.0v9.7M1238.13 1034.0v-18.8M1238.13 1672.0v18.8M1246.98 1034.0v-9.7M1246.98 1672.0v9.7M1255.84 1034.0v-9.7M1255.84 1672.0v9.7M1264.70 1034.0v-18.8M1264.70 1672.0v18.8M1273.55 1034.0v-9.7M1273.55 1672.0v9.7M1282.41 1034.0v-9.7M1282.41 1672.0v9.7M1291.27 1034.0v-18.8M1291.27 1672.0v18.8M1300.13 1034.0v-9.7M1300.13 1672.0v9.7M1308.98 1034.0v-9.7M1308.98 1672.0v9.7M1317.84 1034.0v-18.8M1317.84 1672.0v18.8M1326.70 1034.0v-9.7M1326.70 1672.0v9.7M1335.55 1034.0v-9.7M1335.55 1672.0v9.7M1344.41 1034.0v-18.8M1344.41 1672.0v18.8M1353.27 1034.0v-9.7M1353.27 1672.0v9.7M1362.12 1034.0v-9.7M1362.12 1672.0v9.7M1370.98 1034.0v-18.8M1370.98 1672.0v18.8M1379.84 1034.0v-9.7M1379.84 1672.0v9.7M1388.70 1034.0v-9.7M1388.70 1672.0v9.7M1397.55 1034.0v-18.8M1397.55 1672.0v18.8M1406.41 1034.0v-9.7M1406.41 1672.0v9.7M1415.27 1034.0v-9.7M1415.27 1672.0v9.7M1424.12 1034.0v-18.8M1424.12 1672.0v18.8M1432.98 1034.0v-9.7M1432.98 1672.0v9.7M1441.84 1034.0v-9.7M1441.84 1672.0v9.7M1450.69 1034.0v-18.8M1450.69 1672.0v18.8M1459.55 1034.0v-9.7M1459.55 1672.0v9.7M1468.41 1034.0v-9.7M1468.41 1672.0v9.7M1477.27 1034.0v-18.8M1477.27 1672.0v18.8M1486.12 1034.0v-9.7M1486.12 1672.0v9.7M1494.98 1034.0v-9.7M1494.98 1672.0v9.7M1503.84 1034.0v-18.8M1503.84 1672.0v18.8M1512.69 1034.0v-9.7M1512.69 1672.0v9.7M1521.55 1034.0v-9.7M1521.55 1672.0v9.7M1530.41 1034.0v-18.8M1530.41 1672.0v18.8M1539.26 1034.0v-9.7M1539.26 1672.0v9.7M1548.12 1034.0v-9.7M1548.12 1672.0v9.7M1556.98 1034.0v-18.8M1556.98 1672.0v18.8M1565.84 1034.0v-9.7M1565.84 1672.0v9.7M1574.69 1034.0v-9.7M1574.69 1672.0v9.7M1583.55 1034.0v-18.8M1583.55 1672.0v18.8M1592.41 1034.0v-9.7M1592.41 1672.0v9.7M1601.26 1034.0v-9.7M1601.26 1672.0v9.7M1610.12 1034.0v-18.8M1610.12 1672.0v18.8M1618.98 1034.0v-9.7M1618.98 1672.0v9.7M1627.83 1034.0v-9.7M1627.83 1672.0v9.7M1636.69 1034.0v-18.8M1636.69 1672.0v18.8M1645.55 1034.0v-9.7M1645.55 1672.0v9.7M1654.41 1034.0v-9.7M1654.41 1672.0v9.7M1663.26 1034.0v-18.8M1663.26 1672.0v18.8M1672.12 1034.0v-9.7M1672.12 1672.0v9.7M1680.98 1034.0v-9.7M1680.98 1672.0v9.7M1689.83 1034.0v-18.8M1689.83 1672.0v18.8M1698.69 1034.0v-9.7M1698.69 1672.0v9.7M1707.55 1034.0v-9.7M1707.55 1672.0v9.7M1716.40 1034.0v-18.8M1716.40 1672.0v18.8M1725.26 1034.0v-9.7M1725.26 1672.0v9.7M1734.12 1034.0v-9.7M1734.12 1672.0v9.7M1742.98 1034.0v-18.8M1742.98 1672.0v18.8M1751.83 1034.0v-9.7M1751.83 1672.0v9.7M1760.69 1034.0v-9.7M1760.69 1672.0v9.7M1769.55 1034.0v-18.8M1769.55 1672.0v18.8M1778.40 1034.0v-9.7M1778.40 1672.0v9.7M1787.26 1034.0v-9.7M1787.26 1672.0v9.7M1796.12 1034.0v-18.8M1796.12 1672.0v18.8M1804.97 1034.0v-9.7M1804.97 1672.0v9.7M1813.83 1034.0v-9.7M1813.83 1672.0v9.7M1822.69 1034.0v-18.8M1822.69 1672.0v18.8M1831.55 1034.0v-9.7M1831.55 1672.0v9.7M1840.40 1034.0v-9.7M1840.40 1672.0v9.7M1849.26 1034.0v-18.8M1849.26 1672.0v18.8M1858.12 1034.0v-9.7M1858.12 1672.0v9.7M1866.97 1034.0v-9.7M1866.97 1672.0v9.7M1875.83 1034.0v-18.8M1875.83 1672.0v18.8M1884.69 1034.0v-9.7M1884.69 1672.0v9.7M1893.54 1034.0v-9.7M1893.54 1672.0v9.7M1902.40 1034.0v-18.8M1902.40 1672.0v18.8"/>
<path class="k2" d="M250.0 1151.45h-18.9M1907.2 1151.45h18.9M250.0 1292.44h-18.9M1907.2 1292.44h18.9M250.0 1433.43h-18.9M1907.2 1433.43h18.9M250.0 1574.43h-18.9M1907.2 1574.43h18.9"/>
<rect class="f" x="250.0" y="1034.0" width="1657.2" height="638.0"/>
<g class="d">
<circle cx="290.6" cy="1911.4" r="6.4"/>
<circle cx="290.4" cy="1921.5" r="6.4"/>
<circle cx="305.3" cy="1991.2" r="6.4"/>
<circle cx="327.3" cy="2013.4" r="6.4"/>
<circle cx="335.8" cy="2022.5" r="6.4"/>
<circle cx="333.5" cy="2035.3" r="6.4"/>
<circle cx="326.5" cy="2041.4" r="6.4"/>
<circle cx="304.6" cy="2043.2" r="6.4"/>
<circle cx="284.6" cy="2051.5" r="6.4"/>
<circle cx="310.3" cy="2051.3" r="6.4"/>
<circle cx="321.1" cy="2053.5" r="6.4"/>
<circle cx="314.9" cy="2062.6" r="6.4"/>
<circle cx="325.7" cy="2064.7" r="6.4"/>
<circle cx="283.7" cy="2067.6" r="6.4"/>
<circle cx="297.7" cy="2065.2" r="6.4"/>
<circle cx="286.0" cy="2077.6" r="6.4"/>
<circle cx="282.1" cy="2079.7" r="6.4"/>
<circle cx="292.2" cy="2083.8" r="6.4"/>
<circle cx="329.4" cy="2139.1" r="6.4"/>
<circle cx="340.4" cy="2188.1" r="6.4"/>
<circle cx="377.4" cy="2072.1" r="6.4"/>
<circle cx="383.4" cy="2144.1" r="6.4"/>
<circle cx="314.4" cy="2171.1" r="6.4"/>
<circle cx="308.4" cy="2136.1" r="6.4"/>
<circle cx="377.4" cy="2093.1" r="6.4"/>
<circle cx="285.4" cy="2135.1" r="6.4"/>
<circle cx="350.4" cy="2132.1" r="6.4"/>
<circle cx="341.4" cy="2159.1" r="6.4"/>
<circle cx="358.4" cy="2178.1" r="6.4"/>
<circle cx="345.4" cy="2130.1" r="6.4"/>
<circle cx="312.4" cy="2177.1" r="6.4"/>
<circle cx="353.4" cy="2206.1" r="6.4"/>
<circle cx="373.4" cy="2067.1" r="6.4"/>
<circle cx="371.4" cy="2099.1" r="6.4"/>
<circle cx="375.4" cy="2173.1" r="6.4"/>
<circle cx="352.4" cy="2101.1" r="6.4"/>
<circle cx="303.4" cy="2100.1" r="6.4"/>
<circle cx="287.4" cy="2119.1" r="6.4"/>
<circle cx="318.4" cy="2099.1" r="6.4"/>
<circle cx="309.4" cy="2155.1" r="6.4"/>
<circle cx="297.4" cy="2147.1" r="6.4"/>
<circle cx="376.4" cy="2152.1" r="6.4"/>
<circle cx="339.4" cy="2122.1" r="6.4"/>
<circle cx="361.4" cy="2215.1" r="6.4"/>
<circle cx="382.4" cy="2074.1" r="6.4"/>
<circle cx="351.4" cy="2198.1" r="6.4"/>
<circle cx="344.4" cy="2189.1" r="6.4"/>
<circle cx="284.4" cy="2162.1" r="6.4"/>
<circle cx="383.4" cy="2158.1" r="6.4"/>
<circle cx="310.4" cy="2174.1" r="6.4"/>
<circle cx="307.4" cy="2103.1" r="6.4"/>
<circle cx="304.4" cy="2158.1" r="6.4"/>
<circle cx="288.4" cy="2161.1" r="6.4"/>
<circle cx="351.4" cy="2191.1" r="6.4"/>
<circle cx="301.4" cy="2162.1" r="6.4"/>
<circle cx="378.4" cy="2100.1" r="6.4"/>
<circle cx="335.4" cy="2071.1" r="6.4"/>
<circle cx="375.4" cy="2167.1" r="6.4"/>
<circle cx="309.4" cy="2081.1" r="6.4"/>
<circle cx="297.4" cy="2140.1" r="6.4"/>
<circle cx="337.4" cy="2177.1" r="6.4"/>
<circle cx="319.4" cy="2151.1" r="6.4"/>
<circle cx="327.4" cy="2150.1" r="6.4"/>
<circle cx="285.4" cy="2124.1" r="6.4"/>
<circle cx="383.4" cy="2085.1" r="6.4"/>
<circle cx="304.4" cy="2133.1" r="6.4"/>
<circle cx="315.4" cy="2179.1" r="6.4"/>
<circle cx="361.4" cy="2108.1" r="6.4"/>
<circle cx="342.4" cy="2116.1" r="6.4"/>
<circle cx="365.4" cy="2107.1" r="6.4"/>
<circle cx="374.4" cy="2097.1" r="6.4"/>
<circle cx="333.4" cy="2124.1" r="6.4"/>
<circle cx="316.4" cy="2123.1" r="6.4"/>
<circle cx="352.4" cy="2211.1" r="6.4"/>
<circle cx="359.4" cy="2131.1" r="6.4"/>
<circle cx="320.4" cy="2086.1" r="6.4"/>
<circle cx="333.4" cy="2153.1" r="6.4"/>
<circle cx="316.4" cy="2103.1" r="6.4"/>
<circle cx="327.4" cy="2124.1" r="6.4"/>
<circle cx="293.4" cy="2109.1" r="6.4"/>
<circle cx="362.4" cy="2166.1" r="6.4"/>
<circle cx="344.4" cy="2175.1" r="6.4"/>
<circle cx="284.4" cy="2142.1" r="6.4"/>
<circle cx="363.4" cy="2172.1" r="6.4"/>
<circle cx="377.4" cy="2159.1" r="6.4"/>
<circle cx="344.4" cy="2113.1" r="6.4"/>
<circle cx="282.4" cy="2180.1" r="6.4"/>
<circle cx="300.4" cy="2193.1" r="6.4"/>
<circle cx="305.4" cy="2149.1" r="6.4"/>
<circle cx="340.4" cy="2129.1" r="6.4"/>
<circle cx="346.4" cy="2168.1" r="6.4"/>
<circle cx="382.4" cy="2116.1" r="6.4"/>
<circle cx="284.4" cy="2183.1" r="6.4"/>
<circle cx="372.4" cy="2112.1" r="6.4"/>
<circle cx="387.4" cy="2133.1" r="6.4"/>
<circle cx="342.4" cy="2181.1" r="6.4"/>
<circle cx="281.4" cy="2174.1" r="6.4"/>
<circle cx="322.4" cy="2079.1" r="6.4"/>
<circle cx="370.4" cy="2159.1" r="6.4"/>
<circle cx="357.4" cy="2187.1" r="6.4"/>
<circle cx="301.4" cy="2173.1" r="6.4"/>
<circle cx="296.4" cy="2121.1" r="6.4"/>
<circle cx="367.4" cy="2122.1" r="6.4"/>
<circle cx="357.4" cy="2211.1" r="6.4"/>
<circle cx="335.4" cy="2094.1" r="6.4"/>
<circle cx="339.4" cy="2093.1" r="6.4"/>
<circle cx="355.4" cy="2132.1" r="6.4"/>
<circle cx="381.4" cy="2081.1" r="6.4"/>
<circle cx="382.4" cy="2140.1" r="6.4"/>
<circle cx="300.4" cy="2186.1" r="6.4"/>
<circle cx="355.4" cy="2197.1" r="6.4"/>
<circle cx="330.4" cy="2077.1" r="6.4"/>
<circle cx="292.4" cy="2118.1" r="6.4"/>
<circle cx="295.4" cy="2113.1" r="6.4"/>
<circle cx="282.4" cy="2131.1" r="6.4"/>
<circle cx="318.4" cy="2083.1" r="6.4"/>
<circle cx="342.4" cy="2164.1" r="6.4"/>
<circle cx="288.4" cy="2144.1" r="6.4"/>
<circle cx="310.4" cy="2077.1" r="6.4"/>
<circle cx="320.4" cy="2139.1" r="6.4"/>
<circle cx="284.4" cy="2128.1" r="6.4"/>
<circle cx="374.4" cy="2163.1" r="6.4"/>
<circle cx="349.4" cy="2099.1" r="6.4"/>
<circle cx="296.4" cy="2187.1" r="6.4"/>
<circle cx="338.4" cy="2191.1" r="6.4"/>
<circle cx="292.4" cy="2184.1" r="6.4"/>
<circle cx="285.4" cy="2169.1" r="6.4"/>
<circle cx="358.4" cy="2182.1" r="6.4"/>
<circle cx="375.4" cy="2103.1" r="6.4"/>
<circle cx="361.4" cy="2175.1" r="6.4"/>
<circle cx="370.4" cy="2103.1" r="6.4"/>
<circle cx="375.4" cy="2116.1" r="6.4"/>
<circle cx="323.4" cy="2150.1" r="6.4"/>
<circle cx="380.4" cy="2070.1" r="6.4"/>
<circle cx="367.4" cy="2118.1" r="6.4"/>
<circle cx="381.4" cy="2120.1" r="6.4"/>
<circle cx="380.4" cy="2147.1" r="6.4"/>
<circle cx="354.4" cy="2106.1" r="6.4"/>
<circle cx="315.4" cy="2151.1" r="6.4"/>
<circle cx="302.4" cy="2182.1" r="6.4"/>
<circle cx="301.4" cy="2117.1" r="6.4"/>
<circle cx="381.4" cy="2088.1" r="6.4"/>
<circle cx="325.4" cy="2140.1" r="6.4"/>
<circle cx="299.4" cy="2102.1" r="6.4"/>
<circle cx="300.4" cy="2130.1" r="6.4"/>
<circle cx="356.4" cy="2201.1" r="6.4"/>
<circle cx="297.4" cy="2125.1" r="6.4"/>
<circle cx="310.4" cy="2122.1" r="6.4"/>
<circle cx="316.4" cy="2078.1" r="6.4"/>
<circle cx="301.4" cy="2149.1" r="6.4"/>
<circle cx="310.4" cy="2145.1" r="6.4"/>
<circle cx="346.4" cy="2172.1" r="6.4"/>
<circle cx="289.4" cy="2104.1" r="6.4"/>
<circle cx="342.4" cy="2133.1" r="6.4"/>
<circle cx="295.4" cy="2156.1" r="6.4"/>
<circle cx="384.4" cy="2126.1" r="6.4"/>
<circle cx="320.4" cy="2096.1" r="6.4"/>
<circle cx="334.4" cy="2138.1" r="6.4"/>
<circle cx="361.4" cy="2187.1" r="6.4"/>
<circle cx="313.4" cy="2105.1" r="6.4"/>
<circle cx="372.4" cy="2108.1" r="6.4"/>
<circle cx="354.4" cy="2189.1" r="6.4"/>
<circle cx="384.4" cy="2137.1" r="6.4"/>
<circle cx="357.4" cy="2104.1" r="6.4"/>
<circle cx="293.4" cy="2104.1" r="6.4"/>
<circle cx="342.4" cy="2095.1" r="6.4"/>
<circle cx="293.4" cy="2160.1" r="6.4"/>
<circle cx="322.4" cy="2126.1" r="6.4"/>
<circle cx="348.4" cy="2189.1" r="6.4"/>
<circle cx="333.4" cy="2074.1" r="6.4"/>
<circle cx="346.4" cy="2102.1" r="6.4"/>
<circle cx="364.4" cy="2127.1" r="6.4"/>
<circle cx="301.4" cy="2177.1" r="6.4"/>
<circle cx="330.4" cy="2087.1" r="6.4"/>
<circle cx="321.4" cy="2090.1" r="6.4"/>
<circle cx="379.4" cy="2076.1" r="6.4"/>
<circle cx="331.4" cy="2083.1" r="6.4"/>
<circle cx="343.4" cy="2106.1" r="6.4"/>
<circle cx="285.4" cy="2101.1" r="6.4"/>
<circle cx="342.4" cy="2185.1" r="6.4"/>
<circle cx="337.4" cy="2126.1" r="6.4"/>
<circle cx="342.4" cy="2091.1" r="6.4"/>
<circle cx="364.4" cy="2114.1" r="6.4"/>
<circle cx="307.4" cy="2120.1" r="6.4"/>
<circle cx="287.4" cy="2181.1" r="6.4"/>
<circle cx="300.4" cy="2136.1" r="6.4"/>
<circle cx="350.4" cy="2208.1" r="6.4"/>
<circle cx="352.4" cy="2202.1" r="6.4"/>
<circle cx="371.4" cy="2070.1" r="6.4"/>
<circle cx="313.4" cy="2083.1" r="6.4"/>
<circle cx="341.4" cy="2155.1" r="6.4"/>
<circle cx="317.4" cy="2137.1" r="6.4"/>
<circle cx="331.4" cy="2092.1" r="6.4"/>
<circle cx="365.4" cy="2161.1" r="6.4"/>
<circle cx="326.4" cy="2079.1" r="6.4"/>
<circle cx="296.4" cy="2151.1" r="6.4"/>
<circle cx="313.4" cy="2137.1" r="6.4"/>
<circle cx="340.4" cy="2136.1" r="6.4"/>
<circle cx="311.4" cy="2141.1" r="6.4"/>
<circle cx="385.4" cy="2130.1" r="6.4"/>
<circle cx="337.4" cy="2152.1" r="6.4"/>
<circle cx="345.4" cy="2098.1" r="6.4"/>
<circle cx="300.4" cy="2167.1" r="6.4"/>
<circle cx="298.4" cy="2190.1" r="6.4"/>
<circle cx="286.4" cy="2139.1" r="6.4"/>
<circle cx="323.4" cy="2167.1" r="6.4"/>
<circle cx="292.4" cy="2146.1" r="6.4"/>
<circle cx="340.4" cy="2175.1" r="6.4"/>
<circle cx="359.2" cy="2142.0" r="6.4"/>
<circle cx="306.3" cy="2111.3" r="6.4"/>
<circle cx="378.8" cy="2130.0" r="6.4"/>
<circle cx="329.8" cy="2104.9" r="6.4"/>
<circle cx="349.6" cy="2161.9" r="6.4"/>
<circle cx="363.1" cy="2147.0" r="6.4"/>
<circle cx="327.6" cy="2097.8" r="6.4"/>
<circle cx="293.6" cy="2129.8" r="6.4"/>
<circle cx="360.2" cy="2153.2" r="6.4"/>
<circle cx="357.8" cy="2160.3" r="6.4"/>
<circle cx="291.2" cy="2171.7" r="6.4"/>
<circle cx="319.1" cy="2111.0" r="6.4"/>
<circle cx="333.2" cy="2114.0" r="6.4"/>
<circle cx="347.2" cy="2141.7" r="6.4"/>
<circle cx="356.6" cy="2169.3" r="6.4"/>
<circle cx="352.3" cy="2152.3" r="6.4"/>
<circle cx="312.6" cy="2112.4" r="6.4"/>
<circle cx="370.1" cy="2150.8" r="6.4"/>
<circle cx="375.4" cy="2135.0" r="6.4"/>
<circle cx="337.6" cy="2100.4" r="6.4"/>
<circle cx="342.8" cy="2147.3" r="6.4"/>
<circle cx="371.1" cy="2127.8" r="6.4"/>
<circle cx="364.6" cy="2139.3" r="6.4"/>
<circle cx="372.2" cy="2145.4" r="6.4"/>
<circle cx="349.1" cy="2179.3" r="6.4"/>
<circle cx="334.2" cy="2146.5" r="6.4"/>
<circle cx="327.5" cy="2116.3" r="6.4"/>
<circle cx="317.1" cy="2117.3" r="6.4"/>
<circle cx="326.8" cy="2110.4" r="6.4"/>
<circle cx="336.3" cy="2106.7" r="6.4"/>
<circle cx="352.4" cy="2145.7" r="6.4"/>
<circle cx="353.5" cy="2139.4" r="6.4"/>
<circle cx="293.4" cy="2166.0" r="6.4"/>
<circle cx="317.3" cy="2144.9" r="6.4"/>
<circle cx="347.7" cy="2156.4" r="6.4"/>
<circle cx="323.4" cy="2103.2" r="6.4"/>
<circle cx="367.5" cy="2133.0" r="6.4"/>
<circle cx="300.1" cy="2107.9" r="6.4"/>
<circle cx="375.3" cy="2123.3" r="6.4"/>
<circle cx="293.4" cy="2178.2" r="6.4"/>
<circle cx="322.4" cy="2120.4" r="6.4"/>
<circle cx="292.8" cy="2136.1" r="6.4"/>
<circle cx="339.2" cy="2142.1" r="6.4"/>
<circle cx="352.4" cy="2174.1" r="6.4"/>
<circle cx="376.2" cy="2140.7" r="6.4"/>
<circle cx="360.5" cy="2219.4" r="6.4"/>
<circle cx="357.2" cy="2227.7" r="6.4"/>
<circle cx="352.6" cy="2234.2" r="6.4"/>
<circle cx="387.4" cy="2203.4" r="6.4"/>
<circle cx="360.5" cy="2263.3" r="6.4"/>
<circle cx="300.4" cy="2219.4" r="6.4"/>
<circle cx="288.3" cy="2224.1" r="6.4"/>
<circle cx="300.4" cy="2230.3" r="6.4"/>
<circle cx="315.7" cy="2227.2" r="6.4"/>
<circle cx="288.0" cy="2237.0" r="6.4"/>
<circle cx="287.8" cy="2240.6" r="6.4"/>
<circle cx="1766.1" cy="1862.4" r="6.4"/>
<circle cx="1765.3" cy="1870.7" r="6.4"/>
<circle cx="1765.6" cy="1923.0" r="6.4"/>
<circle cx="1766.1" cy="1931.8" r="6.4"/>
<circle cx="1762.6" cy="1981.6" r="6.4"/>
<circle cx="1770.0" cy="1989.9" r="6.4"/>
<circle cx="1781.3" cy="2273.6" r="6.4"/>
<circle cx="1694.3" cy="2364.5" r="6.4"/>
<circle cx="1700.0" cy="2362.3" r="6.4"/>
<circle cx="1697.3" cy="2404.1" r="6.4"/>
<circle cx="1693.7" cy="2439.4" r="6.4"/>
<circle cx="1693.2" cy="2446.3" r="6.4"/>
<circle cx="1694.3" cy="2475.2" r="6.4"/>
<circle cx="1719.0" cy="1999.7" r="6.4"/>
<circle cx="1711.2" cy="2005.9" r="6.4"/>
<circle cx="1719.0" cy="2004.8" r="6.4"/>
<circle cx="1758.0" cy="2011.0" r="6.4"/>
<circle cx="1685.5" cy="2022.5" r="6.4"/>
<circle cx="1718.8" cy="2022.9" r="6.4"/>
<circle cx="1707.9" cy="2032.1" r="6.4"/>
<circle cx="1717.7" cy="2034.0" r="6.4"/>
<circle cx="1706.8" cy="2036.7" r="6.4"/>
<circle cx="1749.0" cy="2024.3" r="6.4"/>
<circle cx="1755.5" cy="2022.9" r="6.4"/>
<circle cx="1761.0" cy="2023.5" r="6.4"/>
<circle cx="1761.0" cy="2031.9" r="6.4"/>
<circle cx="1685.9" cy="2051.8" r="6.4"/>
<circle cx="1669.0" cy="2068.5" r="6.4"/>
<circle cx="1685.3" cy="2065.2" r="6.4"/>
<circle cx="1679.5" cy="2072.6" r="6.4"/>
<circle cx="1686.9" cy="2072.2" r="6.4"/>
<circle cx="1673.8" cy="2094.0" r="6.4"/>
<circle cx="1679.9" cy="2101.8" r="6.4"/>
<circle cx="1663.5" cy="2109.2" r="6.4"/>
<circle cx="1669.7" cy="2114.9" r="6.4"/>
<circle cx="1681.2" cy="2112.4" r="6.4"/>
<circle cx="1668.0" cy="2118.2" r="6.4"/>
<circle cx="1663.7" cy="2125.6" r="6.4"/>
<circle cx="1682.6" cy="2124.8" r="6.4"/>
<circle cx="1681.2" cy="2136.3" r="6.4"/>
<circle cx="1689.0" cy="2137.1" r="6.4"/>
<circle cx="1677.9" cy="2142.0" r="6.4"/>
<circle cx="1676.6" cy="2149.4" r="6.4"/>
<circle cx="1675.4" cy="2154.4" r="6.4"/>
<circle cx="1677.9" cy="2157.6" r="6.4"/>
<circle cx="1672.9" cy="2160.9" r="6.4"/>
<circle cx="1679.5" cy="2162.6" r="6.4"/>
<circle cx="1689.8" cy="2162.6" r="6.4"/>
<circle cx="1705.8" cy="2159.3" r="6.4"/>
<circle cx="1702.5" cy="2164.2" r="6.4"/>
<circle cx="1760.0" cy="2170.4" r="6.4"/>
<circle cx="1668.8" cy="2173.3" r="6.4"/>
<circle cx="1720.3" cy="2129.2" r="6.4"/>
<circle cx="1721.3" cy="2170.2" r="6.4"/>
<circle cx="1750.3" cy="2059.2" r="6.4"/>
<circle cx="1759.3" cy="2104.2" r="6.4"/>
<circle cx="1732.3" cy="2109.2" r="6.4"/>
<circle cx="1705.3" cy="2109.2" r="6.4"/>
<circle cx="1749.3" cy="2080.2" r="6.4"/>
<circle cx="1709.3" cy="2112.2" r="6.4"/>
<circle cx="1737.3" cy="2153.2" r="6.4"/>
<circle cx="1736.3" cy="2137.2" r="6.4"/>
<circle cx="1720.3" cy="2166.2" r="6.4"/>
<circle cx="1727.3" cy="2153.2" r="6.4"/>
<circle cx="1758.3" cy="2136.2" r="6.4"/>
<circle cx="1708.3" cy="2125.2" r="6.4"/>
<circle cx="1740.3" cy="2081.2" r="6.4"/>
<circle cx="1738.3" cy="2174.2" r="6.4"/>
<circle cx="1703.3" cy="2121.2" r="6.4"/>
<circle cx="1748.3" cy="2135.2" r="6.4"/>
<circle cx="1706.3" cy="2052.2" r="6.4"/>
<circle cx="1756.3" cy="2045.2" r="6.4"/>
<circle cx="1722.3" cy="2157.2" r="6.4"/>
<circle cx="1721.3" cy="2142.2" r="6.4"/>
<circle cx="1720.3" cy="2052.2" r="6.4"/>
<circle cx="1708.3" cy="2061.2" r="6.4"/>
<circle cx="1710.3" cy="2084.2" r="6.4"/>
<circle cx="1717.3" cy="2127.2" r="6.4"/>
<circle cx="1744.3" cy="2149.2" r="6.4"/>
<circle cx="1742.3" cy="2155.2" r="6.4"/>
<circle cx="1734.3" cy="2060.2" r="6.4"/>
<circle cx="1760.3" cy="2061.2" r="6.4"/>
<circle cx="1734.3" cy="2172.2" r="6.4"/>
<circle cx="1705.3" cy="2116.2" r="6.4"/>
<circle cx="1714.3" cy="2111.2" r="6.4"/>
<circle cx="1717.3" cy="2084.2" r="6.4"/>
<circle cx="1760.3" cy="2075.2" r="6.4"/>
<circle cx="1738.3" cy="2105.2" r="6.4"/>
<circle cx="1717.3" cy="2097.2" r="6.4"/>
<circle cx="1764.3" cy="2082.2" r="6.4"/>
<circle cx="1751.3" cy="2066.2" r="6.4"/>
<circle cx="1715.3" cy="2103.2" r="6.4"/>
<circle cx="1714.3" cy="2092.2" r="6.4"/>
<circle cx="1756.3" cy="2091.2" r="6.4"/>
<circle cx="1734.3" cy="2081.2" r="6.4"/>
<circle cx="1757.3" cy="2113.2" r="6.4"/>
<circle cx="1706.3" cy="2065.2" r="6.4"/>
<circle cx="1754.3" cy="2119.2" r="6.4"/>
<circle cx="1725.3" cy="2108.2" r="6.4"/>
<circle cx="1730.3" cy="2096.2" r="6.4"/>
<circle cx="1737.3" cy="2098.2" r="6.4"/>
<circle cx="1761.3" cy="2133.2" r="6.4"/>
<circle cx="1704.3" cy="2128.2" r="6.4"/>
<circle cx="1734.3" cy="2155.2" r="6.4"/>
<circle cx="1706.3" cy="2094.2" r="6.4"/>
<circle cx="1758.3" cy="2128.2" r="6.4"/>
<circle cx="1729.3" cy="2173.2" r="6.4"/>
<circle cx="1754.3" cy="2095.2" r="6.4"/>
<circle cx="1723.3" cy="2078.2" r="6.4"/>
<circle cx="1725.3" cy="2055.2" r="6.4"/>
<circle cx="1705.3" cy="2074.2" r="6.4"/>
<circle cx="1721.3" cy="2081.2" r="6.4"/>
<circle cx="1722.3" cy="2064.2" r="6.4"/>
<circle cx="1705.3" cy="2079.2" r="6.4"/>
<circle cx="1732.3" cy="2151.2" r="6.4"/>
<circle cx="1714.3" cy="2050.2" r="6.4"/>
<circle cx="1743.3" cy="2141.2" r="6.4"/>
<circle cx="1716.3" cy="2076.2" r="6.4"/>
<circle cx="1721.3" cy="2161.2" r="6.4"/>
<circle cx="1709.3" cy="2050.2" r="6.4"/>
<circle cx="1747.3" cy="2056.2" r="6.4"/>
<circle cx="1720.3" cy="2101.2" r="6.4"/>
<circle cx="1717.3" cy="2141.2" r="6.4"/>
<circle cx="1745.3" cy="2153.2" r="6.4"/>
<circle cx="1728.3" cy="2146.2" r="6.4"/>
<circle cx="1746.3" cy="2138.2" r="6.4"/>
<circle cx="1756.3" cy="2124.2" r="6.4"/>
<circle cx="1731.3" cy="2158.2" r="6.4"/>
<circle cx="1728.3" cy="2057.2" r="6.4"/>
<circle cx="1715.3" cy="2087.2" r="6.4"/>
<circle cx="1756.3" cy="2100.2" r="6.4"/>
<circle cx="1721.3" cy="2137.2" r="6.4"/>
<circle cx="1728.3" cy="2137.2" r="6.4"/>
<circle cx="1724.3" cy="2144.2" r="6.4"/>
<circle cx="1732.3" cy="2090.2" r="6.4"/>
<circle cx="1750.3" cy="2075.2" r="6.4"/>
<circle cx="1724.3" cy="2060.2" r="6.4"/>
<circle cx="1745.3" cy="2083.2" r="6.4"/>
<circle cx="1730.3" cy="2162.2" r="6.4"/>
<circle cx="1733.3" cy="2168.2" r="6.4"/>
<circle cx="1755.3" cy="2062.2" r="6.4"/>
<circle cx="1758.3" cy="2069.2" r="6.4"/>
<circle cx="1710.3" cy="2093.2" r="6.4"/>
<circle cx="1737.3" cy="2078.2" r="6.4"/>
<circle cx="1734.3" cy="2086.2" r="6.4"/>
<circle cx="1762.3" cy="2109.2" r="6.4"/>
<circle cx="1760.3" cy="2087.2" r="6.4"/>
<circle cx="1749.3" cy="2071.2" r="6.4"/>
<circle cx="1722.3" cy="2105.2" r="6.4"/>
<circle cx="1717.3" cy="2123.2" r="6.4"/>
<circle cx="1709.3" cy="2097.2" r="6.4"/>
<circle cx="1722.3" cy="2133.2" r="6.4"/>
<circle cx="1707.3" cy="2071.2" r="6.4"/>
<circle cx="1753.3" cy="2135.2" r="6.4"/>
<circle cx="1718.3" cy="2117.2" r="6.4"/>
<circle cx="1713.3" cy="2099.2" r="6.4"/>
<circle cx="1740.3" cy="2139.2" r="6.4"/>
<circle cx="1715.3" cy="2069.2" r="6.4"/>
<circle cx="1739.3" cy="2101.2" r="6.4"/>
<circle cx="1708.3" cy="2056.2" r="6.4"/>
<circle cx="1714.3" cy="2107.2" r="6.4"/>
<circle cx="1726.3" cy="2140.2" r="6.4"/>
<circle cx="1732.3" cy="2136.2" r="6.4"/>
<circle cx="1718.3" cy="2066.2" r="6.4"/>
<circle cx="1762.3" cy="2079.2" r="6.4"/>
<circle cx="1736.3" cy="2108.2" r="6.4"/>
<circle cx="1747.3" cy="2052.2" r="6.4"/>
<circle cx="1717.3" cy="2113.2" r="6.4"/>
<circle cx="1732.3" cy="2057.2" r="6.4"/>
<circle cx="1758.3" cy="2065.2" r="6.4"/>
<circle cx="1707.3" cy="2082.2" r="6.4"/>
<circle cx="1713.3" cy="2126.2" r="6.4"/>
<circle cx="1736.5" cy="2115.5" r="6.4"/>
<circle cx="1731.3" cy="2129.5" r="6.4"/>
<circle cx="1715.1" cy="2055.9" r="6.4"/>
<circle cx="1746.3" cy="2109.4" r="6.4"/>
<circle cx="1752.6" cy="2109.5" r="6.4"/>
<circle cx="1740.6" cy="2091.5" r="6.4"/>
<circle cx="1746.6" cy="2095.2" r="6.4"/>
<circle cx="1730.5" cy="2121.4" r="6.4"/>
<circle cx="1741.0" cy="2121.1" r="6.4"/>
<circle cx="1755.0" cy="2083.5" r="6.4"/>
<circle cx="1724.7" cy="2118.0" r="6.4"/>
<circle cx="1742.4" cy="2129.8" r="6.4"/>
<circle cx="1737.3" cy="2126.1" r="6.4"/>
<circle cx="1750.4" cy="2129.2" r="6.4"/>
<circle cx="1725.0" cy="2125.1" r="6.4"/>
<circle cx="1746.6" cy="2124.1" r="6.4"/>
<circle cx="1746.6" cy="2103.0" r="6.4"/>
<circle cx="1746.7" cy="2116.9" r="6.4"/>
<circle cx="1750.2" cy="2089.6" r="6.4"/>
<circle cx="1730.1" cy="2115.5" r="6.4"/>
<circle cx="1739.9" cy="2175.1" r="6.4"/>
<circle cx="1664.7" cy="2179.0" r="6.4"/>
<circle cx="1665.1" cy="2183.1" r="6.4"/>
<circle cx="1690.6" cy="2179.9" r="6.4"/>
<circle cx="1678.7" cy="2185.6" r="6.4"/>
<circle cx="1691.0" cy="2186.8" r="6.4"/>
<circle cx="1663.9" cy="2193.8" r="6.4"/>
<circle cx="1675.4" cy="2192.2" r="6.4"/>
<circle cx="1689.8" cy="2196.3" r="6.4"/>
<circle cx="1665.5" cy="2203.7" r="6.4"/>
<circle cx="1677.0" cy="2204.5" r="6.4"/>
<circle cx="1687.7" cy="2205.3" r="6.4"/>
<circle cx="1701.5" cy="2208.0" r="6.4"/>
<circle cx="1702.1" cy="2215.0" r="6.4"/>
<circle cx="1682.0" cy="2218.5" r="6.4"/>
<circle cx="1690.6" cy="2220.1" r="6.4"/>
<circle cx="1731.1" cy="2196.1" r="6.4"/>
<circle cx="1731.7" cy="2203.3" r="6.4"/>
<circle cx="1668.4" cy="2229.6" r="6.4"/>
<circle cx="1677.9" cy="2227.5" r="6.4"/>
<circle cx="1665.5" cy="2234.1" r="6.4"/>
<circle cx="1683.6" cy="2231.2" r="6.4"/>
<circle cx="1689.8" cy="2239.4" r="6.4"/>
<circle cx="1666.0" cy="2244.9" r="6.4"/>
<circle cx="1691.0" cy="2260.0" r="6.4"/>
<circle cx="1688.1" cy="2264.5" r="6.4"/>
<circle cx="1702.5" cy="2269.8" r="6.4"/>
<circle cx="1700.1" cy="2281.8" r="6.4"/>
<circle cx="1702.5" cy="2287.5" r="6.4"/>
<circle cx="1691.4" cy="2292.9" r="6.4"/>
<circle cx="1666.4" cy="2296.1" r="6.4"/>
<circle cx="1694.3" cy="2300.7" r="6.4"/>
<circle cx="1697.6" cy="2301.5" r="6.4"/>
<circle cx="1692.7" cy="2307.2" r="6.4"/>
<circle cx="1698.4" cy="2309.7" r="6.4"/>
<circle cx="1700.9" cy="2314.6" r="6.4"/>
<circle cx="1693.5" cy="2321.2" r="6.4"/>
<circle cx="1695.9" cy="2324.5" r="6.4"/>
<circle cx="1692.7" cy="2329.8" r="6.4"/>
<circle cx="1698.4" cy="2333.5" r="6.4"/>
<circle cx="1874.3" cy="2008.1" r="6.4"/>
<circle cx="1771.2" cy="2033.1" r="6.4"/>
<circle cx="1770.8" cy="2038.1" r="6.4"/>
<circle cx="1798.7" cy="2043.0" r="6.4"/>
<circle cx="1798.9" cy="2048.3" r="6.4"/>
<circle cx="1771.6" cy="2052.0" r="6.4"/>
<circle cx="1777.3" cy="2052.5" r="6.4"/>
<circle cx="1783.7" cy="2054.8" r="6.4"/>
<circle cx="1772.0" cy="2059.8" r="6.4"/>
<circle cx="1801.6" cy="2067.9" r="6.4"/>
<circle cx="1800.7" cy="2079.6" r="6.4"/>
<circle cx="1785.1" cy="2087.4" r="6.4"/>
<circle cx="1772.8" cy="2072.2" r="6.4"/>
<circle cx="1773.2" cy="2077.5" r="6.4"/>
<circle cx="1772.8" cy="2082.9" r="6.4"/>
<circle cx="1810.9" cy="2098.9" r="6.4"/>
<circle cx="1801.2" cy="2108.7" r="6.4"/>
<circle cx="1811.4" cy="2110.8" r="6.4"/>
<circle cx="1874.7" cy="2173.7" r="6.4"/>
<circle cx="1826.9" cy="2102.2" r="6.4"/>
<circle cx="1822.9" cy="2072.2" r="6.4"/>
<circle cx="1822.9" cy="2102.2" r="6.4"/>
<circle cx="1825.9" cy="2082.2" r="6.4"/>
<circle cx="1834.9" cy="2076.2" r="6.4"/>
<circle cx="1827.9" cy="2093.2" r="6.4"/>
<circle cx="1830.9" cy="2101.2" r="6.4"/>
<circle cx="1826.9" cy="2077.2" r="6.4"/>
<circle cx="1825.9" cy="2090.2" r="6.4"/>
<circle cx="1824.9" cy="2096.2" r="6.4"/>
<circle cx="1824.9" cy="2086.2" r="6.4"/>
<circle cx="1829.9" cy="2097.2" r="6.4"/>
<circle cx="1806.3" cy="2173.4" r="6.4"/>
<circle cx="1875.3" cy="2101.4" r="6.4"/>
<circle cx="1780.3" cy="2130.4" r="6.4"/>
<circle cx="1770.3" cy="2099.4" r="6.4"/>
<circle cx="1797.3" cy="2139.4" r="6.4"/>
<circle cx="1839.3" cy="2165.4" r="6.4"/>
<circle cx="1854.3" cy="2117.4" r="6.4"/>
<circle cx="1800.3" cy="2148.4" r="6.4"/>
<circle cx="1855.3" cy="2074.4" r="6.4"/>
<circle cx="1805.3" cy="2148.4" r="6.4"/>
<circle cx="1834.3" cy="2113.4" r="6.4"/>
<circle cx="1789.3" cy="2111.4" r="6.4"/>
<circle cx="1836.3" cy="2127.4" r="6.4"/>
<circle cx="1832.3" cy="2167.4" r="6.4"/>
<circle cx="1812.3" cy="2156.4" r="6.4"/>
<circle cx="1836.3" cy="2153.4" r="6.4"/>
<circle cx="1828.3" cy="2114.4" r="6.4"/>
<circle cx="1809.3" cy="2130.4" r="6.4"/>
<circle cx="1832.3" cy="2153.4" r="6.4"/>
<circle cx="1842.3" cy="2126.4" r="6.4"/>
<circle cx="1821.3" cy="2117.4" r="6.4"/>
<circle cx="1793.3" cy="2168.4" r="6.4"/>
<circle cx="1870.3" cy="2090.4" r="6.4"/>
<circle cx="1846.3" cy="2120.4" r="6.4"/>
<circle cx="1865.3" cy="2117.4" r="6.4"/>
<circle cx="1866.3" cy="2096.4" r="6.4"/>
<circle cx="1794.3" cy="2127.4" r="6.4"/>
<circle cx="1873.3" cy="2083.4" r="6.4"/>
<circle cx="1866.3" cy="2077.4" r="6.4"/>
<circle cx="1857.3" cy="2082.4" r="6.4"/>
<circle cx="1778.3" cy="2112.4" r="6.4"/>
<circle cx="1780.3" cy="2142.4" r="6.4"/>
<circle cx="1774.3" cy="2128.4" r="6.4"/>
<circle cx="1786.3" cy="2152.4" r="6.4"/>
<circle cx="1808.3" cy="2146.4" r="6.4"/>
<circle cx="1786.3" cy="2172.4" r="6.4"/>
<circle cx="1783.3" cy="2145.4" r="6.4"/>
<circle cx="1848.3" cy="2173.4" r="6.4"/>
<circle cx="1859.3" cy="2099.4" r="6.4"/>
<circle cx="1796.3" cy="2157.4" r="6.4"/>
<circle cx="1785.3" cy="2121.4" r="6.4"/>
<circle cx="1790.3" cy="2125.4" r="6.4"/>
<circle cx="1819.3" cy="2167.4" r="6.4"/>
<circle cx="1814.3" cy="2124.4" r="6.4"/>
<circle cx="1796.3" cy="2150.4" r="6.4"/>
<circle cx="1871.3" cy="2144.4" r="6.4"/>
<circle cx="1810.3" cy="2163.4" r="6.4"/>
<circle cx="1787.3" cy="2168.4" r="6.4"/>
<circle cx="1861.3" cy="2149.4" r="6.4"/>
<circle cx="1794.3" cy="2174.4" r="6.4"/>
<circle cx="1788.3" cy="2105.4" r="6.4"/>
<circle cx="1833.3" cy="2125.4" r="6.4"/>
<circle cx="1860.3" cy="2113.4" r="6.4"/>
<circle cx="1781.3" cy="2114.4" r="6.4"/>
<circle cx="1856.3" cy="2090.4" r="6.4"/>
<circle cx="1851.3" cy="2165.4" r="6.4"/>
<circle cx="1785.3" cy="2148.4" r="6.4"/>
<circle cx="1816.3" cy="2121.4" r="6.4"/>
<circle cx="1783.3" cy="2106.4" r="6.4"/>
<circle cx="1855.3" cy="2096.4" r="6.4"/>
<circle cx="1868.3" cy="2080.4" r="6.4"/>
<circle cx="1859.3" cy="2075.4" r="6.4"/>
<circle cx="1870.3" cy="2130.4" r="6.4"/>
<circle cx="1780.3" cy="2104.4" r="6.4"/>
<circle cx="1872.3" cy="2118.4" r="6.4"/>
<circle cx="1848.3" cy="2116.4" r="6.4"/>
<circle cx="1832.3" cy="2172.4" r="6.4"/>
<circle cx="1809.3" cy="2135.4" r="6.4"/>
<circle cx="1869.3" cy="2101.4" r="6.4"/>
<circle cx="1824.3" cy="2164.4" r="6.4"/>
<circle cx="1875.3" cy="2138.4" r="6.4"/>
<circle cx="1842.3" cy="2162.4" r="6.4"/>
<circle cx="1788.3" cy="2159.4" r="6.4"/>
<circle cx="1853.3" cy="2156.4" r="6.4"/>
<circle cx="1827.3" cy="2160.4" r="6.4"/>
<circle cx="1816.3" cy="2173.4" r="6.4"/>
<circle cx="1798.3" cy="2133.4" r="6.4"/>
<circle cx="1874.3" cy="2142.4" r="6.4"/>
<circle cx="1870.3" cy="2123.4" r="6.4"/>
<circle cx="1857.3" cy="2152.4" r="6.4"/>
<circle cx="1853.3" cy="2086.4" r="6.4"/>
<circle cx="1775.3" cy="2141.4" r="6.4"/>
<circle cx="1791.3" cy="2117.4" r="6.4"/>
<circle cx="1829.3" cy="2165.4" r="6.4"/>
<circle cx="1810.3" cy="2140.4" r="6.4"/>
<circle cx="1840.3" cy="2157.4" r="6.4"/>
<circle cx="1775.3" cy="2137.4" r="6.4"/>
<circle cx="1833.3" cy="2119.4" r="6.4"/>
<circle cx="1812.3" cy="2128.4" r="6.4"/>
<circle cx="1795.3" cy="2163.4" r="6.4"/>
<circle cx="1774.3" cy="2111.4" r="6.4"/>
<circle cx="1858.3" cy="2116.4" r="6.4"/>
<circle cx="1798.3" cy="2143.4" r="6.4"/>
<circle cx="1772.3" cy="2105.4" r="6.4"/>
<circle cx="1873.3" cy="2087.4" r="6.4"/>
<circle cx="1829.3" cy="2156.4" r="6.4"/>
<circle cx="1786.3" cy="2156.4" r="6.4"/>
<circle cx="1863.3" cy="2098.4" r="6.4"/>
<circle cx="1824.3" cy="2115.4" r="6.4"/>
<circle cx="1808.3" cy="2151.4" r="6.4"/>
<circle cx="1783.3" cy="2118.4" r="6.4"/>
<circle cx="1809.3" cy="2167.4" r="6.4"/>
<circle cx="1785.3" cy="2129.4" r="6.4"/>
<circle cx="1865.3" cy="2147.4" r="6.4"/>
<circle cx="1776.3" cy="2104.4" r="6.4"/>
<circle cx="1867.3" cy="2092.4" r="6.4"/>
<circle cx="1857.3" cy="2078.4" r="6.4"/>
<circle cx="1873.3" cy="2104.4" r="6.4"/>
<circle cx="1850.3" cy="2169.4" r="6.4"/>
<circle cx="1774.3" cy="2132.4" r="6.4"/>
<circle cx="1789.3" cy="2163.4" r="6.4"/>
<circle cx="1873.3" cy="2134.4" r="6.4"/>
<circle cx="1851.3" cy="2161.4" r="6.4"/>
<circle cx="1789.3" cy="2121.4" r="6.4"/>
<circle cx="1797.3" cy="2129.4" r="6.4"/>
<circle cx="1829.1" cy="2143.4" r="6.4"/>
<circle cx="1859.6" cy="2142.4" r="6.4"/>
<circle cx="1854.1" cy="2146.6" r="6.4"/>
<circle cx="1856.4" cy="2133.7" r="6.4"/>
<circle cx="1785.6" cy="2137.4" r="6.4"/>
<circle cx="1851.5" cy="2139.8" r="6.4"/>
<circle cx="1842.2" cy="2174.4" r="6.4"/>
<circle cx="1835.1" cy="2147.4" r="6.4"/>
<circle cx="1821.2" cy="2154.6" r="6.4"/>
<circle cx="1856.9" cy="2125.2" r="6.4"/>
<circle cx="1847.5" cy="2150.4" r="6.4"/>
<circle cx="1851.3" cy="2130.4" r="6.4"/>
<circle cx="1819.0" cy="2146.6" r="6.4"/>
<circle cx="1824.1" cy="2128.6" r="6.4"/>
<circle cx="1863.4" cy="2085.7" r="6.4"/>
<circle cx="1827.5" cy="2136.8" r="6.4"/>
<circle cx="1822.2" cy="2140.4" r="6.4"/>
<circle cx="1862.0" cy="2132.5" r="6.4"/>
<circle cx="1791.5" cy="2146.5" r="6.4"/>
<circle cx="1841.9" cy="2141.3" r="6.4"/>
<circle cx="1826.6" cy="2121.7" r="6.4"/>
<circle cx="1864.7" cy="2124.2" r="6.4"/>
<circle cx="1820.3" cy="2133.7" r="6.4"/>
<circle cx="1835.5" cy="2139.5" r="6.4"/>
<circle cx="1847.1" cy="2135.1" r="6.4"/>
<circle cx="1826.4" cy="2150.6" r="6.4"/>
<circle cx="1837.0" cy="2133.8" r="6.4"/>
<circle cx="1792.0" cy="2134.2" r="6.4"/>
<circle cx="1819.7" cy="2160.7" r="6.4"/>
<circle cx="1831.2" cy="2131.8" r="6.4"/>
<circle cx="1866.5" cy="2137.4" r="6.4"/>
<circle cx="1842.3" cy="2147.2" r="6.4"/>
<circle cx="1791.4" cy="2140.5" r="6.4"/>
<circle cx="1846.5" cy="2157.6" r="6.4"/>
<circle cx="1814.3" cy="2150.3" r="6.4"/>
<circle cx="1816.3" cy="2138.6" r="6.4"/>
<circle cx="1794.2" cy="2202.0" r="6.4"/>
<circle cx="1782.3" cy="2211.5" r="6.4"/>
<circle cx="1805.3" cy="2215.6" r="6.4"/>
<circle cx="1782.1" cy="2226.7" r="6.4"/>
<circle cx="1806.1" cy="2230.4" r="6.4"/>
<circle cx="1838.4" cy="2222.6" r="6.4"/>
<circle cx="1834.8" cy="2231.2" r="6.4"/>
<circle cx="1842.2" cy="2235.7" r="6.4"/>
<circle cx="1781.4" cy="2273.5" r="6.4"/>
<circle cx="1812.3" cy="2190.8" r="6.4"/>
<circle cx="1808.3" cy="2183.8" r="6.4"/>
<circle cx="1815.3" cy="2175.8" r="6.4"/>
<circle cx="1780.3" cy="2188.8" r="6.4"/>
<circle cx="1806.3" cy="2188.8" r="6.4"/>
<circle cx="1786.3" cy="2185.8" r="6.4"/>
<circle cx="1784.3" cy="2188.8" r="6.4"/>
<circle cx="1789.3" cy="2183.8" r="6.4"/>
<circle cx="1821.3" cy="2191.8" r="6.4"/>
<circle cx="1802.3" cy="2181.8" r="6.4"/>
<circle cx="1816.3" cy="2192.8" r="6.4"/>
<circle cx="1807.3" cy="2196.8" r="6.4"/>
<circle cx="1793.3" cy="2183.8" r="6.4"/>
<circle cx="1785.3" cy="2178.8" r="6.4"/>
<circle cx="1782.3" cy="2184.8" r="6.4"/>
<circle cx="1811.3" cy="2177.8" r="6.4"/>
<circle cx="1810.3" cy="2193.8" r="6.4"/>
<circle cx="1797.3" cy="2181.8" r="6.4"/>
<circle cx="1806.3" cy="2200.8" r="6.4"/>
<circle cx="1782.3" cy="2180.8" r="6.4"/>
<circle cx="1791.9" cy="2177.9" r="6.4"/>
<circle cx="1849.0" cy="2190.8" r="6.4"/>
<circle cx="1848.0" cy="2175.8" r="6.4"/>
<circle cx="1843.0" cy="2202.8" r="6.4"/>
<circle cx="1847.0" cy="2185.8" r="6.4"/>
<circle cx="1835.0" cy="2187.8" r="6.4"/>
<circle cx="1835.0" cy="2180.8" r="6.4"/>
<circle cx="1836.0" cy="2197.8" r="6.4"/>
<circle cx="1846.0" cy="2180.8" r="6.4"/>
<circle cx="1834.0" cy="2176.8" r="6.4"/>
<circle cx="1845.0" cy="2196.8" r="6.4"/>
<circle cx="1841.0" cy="2198.8" r="6.4"/>
<circle cx="1836.0" cy="2192.8" r="6.4"/>
<circle cx="1846.0" cy="2200.8" r="6.4"/>
<circle cx="1840.9" cy="2177.1" r="6.4"/>
<circle cx="1842.4" cy="2190.9" r="6.4"/>
<circle cx="1841.0" cy="2184.8" r="6.4"/>
</g>
<path class="k" d="M255.00 1850.1v-18.8M255.00 2487.8v18.8M263.86 1850.1v-9.7M263.86 2487.8v9.7M272.71 1850.1v-9.7M272.71 2487.8v9.7M281.57 1850.1v-18.8M281.57 2487.8v18.8M290.43 1850.1v-9.7M290.43 2487.8v9.7M299.28 1850.1v-9.7M299.28 2487.8v9.7M308.14 1850.1v-18.8M308.14 2487.8v18.8M317.00 1850.1v-9.7M317.00 2487.8v9.7M325.86 1850.1v-9.7M325.86 2487.8v9.7M334.71 1850.1v-18.8M334.71 2487.8v18.8M343.57 1850.1v-9.7M343.57 2487.8v9.7M352.43 1850.1v-9.7M352.43 2487.8v9.7M361.28 1850.1v-18.8M361.28 2487.8v18.8M370.14 1850.1v-9.7M370.14 2487.8v9.7M379.00 1850.1v-9.7M379.00 2487.8v9.7M387.85 1850.1v-18.8M387.85 2487.8v18.8M396.71 1850.1v-9.7M396.71 2487.8v9.7M405.57 1850.1v-9.7M405.57 2487.8v9.7M414.43 1850.1v-18.8M414.43 2487.8v18.8M423.28 1850.1v-9.7M423.28 2487.8v9.7M432.14 1850.1v-9.7M432.14 2487.8v9.7M441.00 1850.1v-18.8M441.00 2487.8v18.8M449.85 1850.1v-9.7M449.85 2487.8v9.7M458.71 1850.1v-9.7M458.71 2487.8v9.7M467.57 1850.1v-18.8M467.57 2487.8v18.8M476.42 1850.1v-9.7M476.42 2487.8v9.7M485.28 1850.1v-9.7M485.28 2487.8v9.7M494.14 1850.1v-18.8M494.14 2487.8v18.8M503.00 1850.1v-9.7M503.00 2487.8v9.7M511.85 1850.1v-9.7M511.85 2487.8v9.7M520.71 1850.1v-18.8M520.71 2487.8v18.8M529.57 1850.1v-9.7M529.57 2487.8v9.7M538.42 1850.1v-9.7M538.42 2487.8v9.7M547.28 1850.1v-18.8M547.28 2487.8v18.8M556.14 1850.1v-9.7M556.14 2487.8v9.7M564.99 1850.1v-9.7M564.99 2487.8v9.7M573.85 1850.1v-18.8M573.85 2487.8v18.8M582.71 1850.1v-9.7M582.71 2487.8v9.7M591.57 1850.1v-9.7M591.57 2487.8v9.7M600.42 1850.1v-18.8M600.42 2487.8v18.8M609.28 1850.1v-9.7M609.28 2487.8v9.7M618.14 1850.1v-9.7M618.14 2487.8v9.7M626.99 1850.1v-18.8M626.99 2487.8v18.8M635.85 1850.1v-9.7M635.85 2487.8v9.7M644.71 1850.1v-9.7M644.71 2487.8v9.7M653.56 1850.1v-18.8M653.56 2487.8v18.8M662.42 1850.1v-9.7M662.42 2487.8v9.7M671.28 1850.1v-9.7M671.28 2487.8v9.7M680.13 1850.1v-18.8M680.13 2487.8v18.8M688.99 1850.1v-9.7M688.99 2487.8v9.7M697.85 1850.1v-9.7M697.85 2487.8v9.7M706.71 1850.1v-18.8M706.71 2487.8v18.8M715.56 1850.1v-9.7M715.56 2487.8v9.7M724.42 1850.1v-9.7M724.42 2487.8v9.7M733.28 1850.1v-18.8M733.28 2487.8v18.8M742.13 1850.1v-9.7M742.13 2487.8v9.7M750.99 1850.1v-9.7M750.99 2487.8v9.7M759.85 1850.1v-18.8M759.85 2487.8v18.8M768.71 1850.1v-9.7M768.71 2487.8v9.7M777.56 1850.1v-9.7M777.56 2487.8v9.7M786.42 1850.1v-18.8M786.42 2487.8v18.8M795.28 1850.1v-9.7M795.28 2487.8v9.7M804.13 1850.1v-9.7M804.13 2487.8v9.7M812.99 1850.1v-18.8M812.99 2487.8v18.8M821.85 1850.1v-9.7M821.85 2487.8v9.7M830.70 1850.1v-9.7M830.70 2487.8v9.7M839.56 1850.1v-18.8M839.56 2487.8v18.8M848.42 1850.1v-9.7M848.42 2487.8v9.7M857.28 1850.1v-9.7M857.28 2487.8v9.7M866.13 1850.1v-18.8M866.13 2487.8v18.8M874.99 1850.1v-9.7M874.99 2487.8v9.7M883.85 1850.1v-9.7M883.85 2487.8v9.7M892.70 1850.1v-18.8M892.70 2487.8v18.8M901.56 1850.1v-9.7M901.56 2487.8v9.7M910.42 1850.1v-9.7M910.42 2487.8v9.7M919.27 1850.1v-18.8M919.27 2487.8v18.8M928.13 1850.1v-9.7M928.13 2487.8v9.7M936.99 1850.1v-9.7M936.99 2487.8v9.7M945.85 1850.1v-18.8M945.85 2487.8v18.8M954.70 1850.1v-9.7M954.70 2487.8v9.7M963.56 1850.1v-9.7M963.56 2487.8v9.7M972.42 1850.1v-18.8M972.42 2487.8v18.8M981.27 1850.1v-9.7M981.27 2487.8v9.7M990.13 1850.1v-9.7M990.13 2487.8v9.7M998.99 1850.1v-18.8M998.99 2487.8v18.8M1007.84 1850.1v-9.7M1007.84 2487.8v9.7M1016.70 1850.1v-9.7M1016.70 2487.8v9.7M1025.56 1850.1v-18.8M1025.56 2487.8v18.8M1034.42 1850.1v-9.7M1034.42 2487.8v9.7M1043.27 1850.1v-9.7M1043.27 2487.8v9.7M1052.13 1850.1v-18.8M1052.13 2487.8v18.8M1060.99 1850.1v-9.7M1060.99 2487.8v9.7M1069.84 1850.1v-9.7M1069.84 2487.8v9.7M1078.70 1850.1v-18.8M1078.70 2487.8v18.8M1087.56 1850.1v-9.7M1087.56 2487.8v9.7M1096.41 1850.1v-9.7M1096.41 2487.8v9.7M1105.27 1850.1v-18.8M1105.27 2487.8v18.8M1114.13 1850.1v-9.7M1114.13 2487.8v9.7M1122.99 1850.1v-9.7M1122.99 2487.8v9.7M1131.84 1850.1v-18.8M1131.84 2487.8v18.8M1140.70 1850.1v-9.7M1140.70 2487.8v9.7M1149.56 1850.1v-9.7M1149.56 2487.8v9.7M1158.41 1850.1v-18.8M1158.41 2487.8v18.8M1167.27 1850.1v-9.7M1167.27 2487.8v9.7M1176.13 1850.1v-9.7M1176.13 2487.8v9.7M1184.98 1850.1v-18.8M1184.98 2487.8v18.8M1193.84 1850.1v-9.7M1193.84 2487.8v9.7M1202.70 1850.1v-9.7M1202.70 2487.8v9.7M1211.56 1850.1v-18.8M1211.56 2487.8v18.8M1220.41 1850.1v-9.7M1220.41 2487.8v9.7M1229.27 1850.1v-9.7M1229.27 2487.8v9.7M1238.13 1850.1v-18.8M1238.13 2487.8v18.8M1246.98 1850.1v-9.7M1246.98 2487.8v9.7M1255.84 1850.1v-9.7M1255.84 2487.8v9.7M1264.70 1850.1v-18.8M1264.70 2487.8v18.8M1273.55 1850.1v-9.7M1273.55 2487.8v9.7M1282.41 1850.1v-9.7M1282.41 2487.8v9.7M1291.27 1850.1v-18.8M1291.27 2487.8v18.8M1300.13 1850.1v-9.7M1300.13 2487.8v9.7M1308.98 1850.1v-9.7M1308.98 2487.8v9.7M1317.84 1850.1v-18.8M1317.84 2487.8v18.8M1326.70 1850.1v-9.7M1326.70 2487.8v9.7M1335.55 1850.1v-9.7M1335.55 2487.8v9.7M1344.41 1850.1v-18.8M1344.41 2487.8v18.8M1353.27 1850.1v-9.7M1353.27 2487.8v9.7M1362.12 1850.1v-9.7M1362.12 2487.8v9.7M1370.98 1850.1v-18.8M1370.98 2487.8v18.8M1379.84 1850.1v-9.7M1379.84 2487.8v9.7M1388.70 1850.1v-9.7M1388.70 2487.8v9.7M1397.55 1850.1v-18.8M1397.55 2487.8v18.8M1406.41 1850.1v-9.7M1406.41 2487.8v9.7M1415.27 1850.1v-9.7M1415.27 2487.8v9.7M1424.12 1850.1v-18.8M1424.12 2487.8v18.8M1432.98 1850.1v-9.7M1432.98 2487.8v9.7M1441.84 1850.1v-9.7M1441.84 2487.8v9.7M1450.69 1850.1v-18.8M1450.69 2487.8v18.8M1459.55 1850.1v-9.7M1459.55 2487.8v9.7M1468.41 1850.1v-9.7M1468.41 2487.8v9.7M1477.27 1850.1v-18.8M1477.27 2487.8v18.8M1486.12 1850.1v-9.7M1486.12 2487.8v9.7M1494.98 1850.1v-9.7M1494.98 2487.8v9.7M1503.84 1850.1v-18.8M1503.84 2487.8v18.8M1512.69 1850.1v-9.7M1512.69 2487.8v9.7M1521.55 1850.1v-9.7M1521.55 2487.8v9.7M1530.41 1850.1v-18.8M1530.41 2487.8v18.8M1539.26 1850.1v-9.7M1539.26 2487.8v9.7M1548.12 1850.1v-9.7M1548.12 2487.8v9.7M1556.98 1850.1v-18.8M1556.98 2487.8v18.8M1565.84 1850.1v-9.7M1565.84 2487.8v9.7M1574.69 1850.1v-9.7M1574.69 2487.8v9.7M1583.55 1850.1v-18.8M1583.55 2487.8v18.8M1592.41 1850.1v-9.7M1592.41 2487.8v9.7M1601.26 1850.1v-9.7M1601.26 2487.8v9.7M1610.12 1850.1v-18.8M1610.12 2487.8v18.8M1618.98 1850.1v-9.7M1618.98 2487.8v9.7M1627.83 1850.1v-9.7M1627.83 2487.8v9.7M1636.69 1850.1v-18.8M1636.69 2487.8v18.8M1645.55 1850.1v-9.7M1645.55 2487.8v9.7M1654.41 1850.1v-9.7M1654.41 2487.8v9.7M1663.26 1850.1v-18.8M1663.26 2487.8v18.8M1672.12 1850.1v-9.7M1672.12 2487.8v9.7M1680.98 1850.1v-9.7M1680.98 2487.8v9.7M1689.83 1850.1v-18.8M1689.83 2487.8v18.8M1698.69 1850.1v-9.7M1698.69 2487.8v9.7M1707.55 1850.1v-9.7M1707.55 2487.8v9.7M1716.40 1850.1v-18.8M1716.40 2487.8v18.8M1725.26 1850.1v-9.7M1725.26 2487.8v9.7M1734.12 1850.1v-9.7M1734.12 2487.8v9.7M1742.98 1850.1v-18.8M1742.98 2487.8v18.8M1751.83 1850.1v-9.7M1751.83 2487.8v9.7M1760.69 1850.1v-9.7M1760.69 2487.8v9.7M1769.55 1850.1v-18.8M1769.55 2487.8v18.8M1778.40 1850.1v-9.7M1778.40 2487.8v9.7M1787.26 1850.1v-9.7M1787.26 2487.8v9.7M1796.12 1850.1v-18.8M1796.12 2487.8v18.8M1804.97 1850.1v-9.7M1804.97 2487.8v9.7M1813.83 1850.1v-9.7M1813.83 2487.8v9.7M1822.69 1850.1v-18.8M1822.69 2487.8v18.8M1831.55 1850.1v-9.7M1831.55 2487.8v9.7M1840.40 1850.1v-9.7M1840.40 2487.8v9.7M1849.26 1850.1v-18.8M1849.26 2487.8v18.8M1858.12 1850.1v-9.7M1858.12 2487.8v9.7M1866.97 1850.1v-9.7M1866.97 2487.8v9.7M1875.83 1850.1v-18.8M1875.83 2487.8v18.8M1884.69 1850.1v-9.7M1884.69 2487.8v9.7M1893.54 1850.1v-9.7M1893.54 2487.8v9.7M1902.40 1850.1v-18.8M1902.40 2487.8v18.8"/>
<path class="k2" d="M250.0 1865.41h-18.9M1907.2 1865.41h18.9M250.0 1968.34h-18.9M1907.2 1968.34h18.9M250.0 2071.27h-18.9M1907.2 2071.27h18.9M250.0 2174.20h-18.9M1907.2 2174.20h18.9M250.0 2277.13h-18.9M1907.2 2277.13h18.9M250.0 2380.06h-18.9M1907.2 2380.06h18.9M250.0 2482.99h-18.9M1907.2 2482.99h18.9"/>
<rect class="f" x="250.0" y="1850.1" width="1657.2" height="637.7"/>
<rect class="f" x="249.9" y="2717" width="1657.3" height="153"/>
<g transform="scale(1 1.04)">
<text class="t" text-anchor="middle" x="1078.50" y="95.67">J796 - Rapid 5 Minute Sample Rate Solutions</text>
<text class="t" text-anchor="middle" x="1078.50" y="155.77">UTC Days Shown:&#160; 25NOV22 25DEC05 25DEC06</text>
<text class="a" text-anchor="middle" x="255.00" y="887.31">−6</text>
<text class="a" text-anchor="middle" x="281.57" y="887.31">0</text>
<text class="a" text-anchor="middle" x="308.14" y="887.31">6</text>
<text class="a" text-anchor="middle" x="334.71" y="887.31">12</text>
<text class="a" text-anchor="middle" x="361.28" y="887.31">18</text>
<text class="a" text-anchor="middle" x="387.85" y="887.31">24</text>
<text class="a" text-anchor="middle" x="414.43" y="887.31">30</text>
<text class="a" text-anchor="middle" x="441.00" y="887.31">36</text>
<text class="a" text-anchor="middle" x="467.57" y="887.31">42</text>
<text class="a" text-anchor="middle" x="494.14" y="887.31">48</text>
<text class="a" text-anchor="middle" x="520.71" y="887.31">54</text>
<text class="a" text-anchor="middle" x="547.28" y="887.31">60</text>
<text class="a" text-anchor="middle" x="573.85" y="887.31">66</text>
<text class="a" text-anchor="middle" x="600.42" y="887.31">72</text>
<text class="a" text-anchor="middle" x="626.99" y="887.31">78</text>
<text class="a" text-anchor="middle" x="653.56" y="887.31">84</text>
<text class="a" text-anchor="middle" x="680.13" y="887.31">90</text>
<text class="a" text-anchor="middle" x="706.71" y="887.31">96</text>
<text class="a" text-anchor="middle" x="733.28" y="887.31">102</text>
<text class="a" text-anchor="middle" x="759.85" y="887.31">108</text>
<text class="a" text-anchor="middle" x="786.42" y="887.31">114</text>
<text class="a" text-anchor="middle" x="812.99" y="887.31">120</text>
<text class="a" text-anchor="middle" x="839.56" y="887.31">126</text>
<text class="a" text-anchor="middle" x="866.13" y="887.31">132</text>
<text class="a" text-anchor="middle" x="892.70" y="887.31">138</text>
<text class="a" text-anchor="middle" x="919.27" y="887.31">144</text>
<text class="a" text-anchor="middle" x="945.85" y="887.31">150</text>
<text class="a" text-anchor="middle" x="972.42" y="887.31">156</text>
<text class="a" text-anchor="middle" x="998.99" y="887.31">162</text>
<text class="a" text-anchor="middle" x="1025.56" y="887.31">168</text>
<text class="a" text-anchor="middle" x="1052.13" y="887.31">174</text>
<text class="a" text-anchor="middle" x="1078.70" y="887.31">180</text>
<text class="a" text-anchor="middle" x="1105.27" y="887.31">186</text>
<text class="a" text-anchor="middle" x="1131.84" y="887.31">192</text>
<text class="a" text-anchor="middle" x="1158.41" y="887.31">198</text>
<text class="a" text-anchor="middle" x="1184.98" y="887.31">204</text>
<text class="a" text-anchor="middle" x="1211.56" y="887.31">210</text>
<text class="a" text-anchor="middle" x="1238.13" y="887.31">216</text>
<text class="a" text-anchor="middle" x="1264.70" y="887.31">222</text>
<text class="a" text-anchor="middle" x="1291.27" y="887.31">228</text>
<text class="a" text-anchor="middle" x="1317.84" y="887.31">234</text>
<text class="a" text-anchor="middle" x="1344.41" y="887.31">240</text>
<text class="a" text-anchor="middle" x="1370.98" y="887.31">246</text>
<text class="a" text-anchor="middle" x="1397.55" y="887.31">252</text>
<text class="a" text-anchor="middle" x="1424.12" y="887.31">258</text>
<text class="a" text-anchor="middle" x="1450.69" y="887.31">264</text>
<text class="a" text-anchor="middle" x="1477.27" y="887.31">270</text>
<text class="a" text-anchor="middle" x="1503.84" y="887.31">276</text>
<text class="a" text-anchor="middle" x="1530.41" y="887.31">282</text>
<text class="a" text-anchor="middle" x="1556.98" y="887.31">288</text>
<text class="a" text-anchor="middle" x="1583.55" y="887.31">294</text>
<text class="a" text-anchor="middle" x="1610.12" y="887.31">300</text>
<text class="a" text-anchor="middle" x="1636.69" y="887.31">306</text>
<text class="a" text-anchor="middle" x="1663.26" y="887.31">312</text>
<text class="a" text-anchor="middle" x="1689.83" y="887.31">318</text>
<text class="a" text-anchor="middle" x="1716.40" y="887.31">324</text>
<text class="a" text-anchor="middle" x="1742.98" y="887.31">330</text>
<text class="a" text-anchor="middle" x="1769.55" y="887.31">336</text>
<text class="a" text-anchor="middle" x="1796.12" y="887.31">342</text>
<text class="a" text-anchor="middle" x="1822.69" y="887.31">348</text>
<text class="a" text-anchor="middle" x="1849.26" y="887.31">354</text>
<text class="a" text-anchor="middle" x="1875.83" y="887.31">360</text>
<text class="a" text-anchor="middle" x="1902.40" y="887.31">366</text>
<text class="a" text-anchor="end" x="215.00" y="229.80">120</text>
<text class="a" text-anchor="end" x="215.00" y="351.34">60</text>
<text class="a" text-anchor="end" x="215.00" y="472.88">0</text>
<text class="a" text-anchor="end" x="215.00" y="594.42">−60</text>
<text class="a" text-anchor="end" x="215.00" y="715.97">−120</text>
<text class="a" text-anchor="end" x="215.00" y="837.51">−180</text>
<text class="a" text-anchor="middle" x="255.00" y="1671.97">−6</text>
<text class="a" text-anchor="middle" x="281.57" y="1671.97">0</text>
<text class="a" text-anchor="middle" x="308.14" y="1671.97">6</text>
<text class="a" text-anchor="middle" x="334.71" y="1671.97">12</text>
<text class="a" text-anchor="middle" x="361.28" y="1671.97">18</text>
<text class="a" text-anchor="middle" x="387.85" y="1671.97">24</text>
<text class="a" text-anchor="middle" x="414.43" y="1671.97">30</text>
<text class="a" text-anchor="middle" x="441.00" y="1671.97">36</text>
<text class="a" text-anchor="middle" x="467.57" y="1671.97">42</text>
<text class="a" text-anchor="middle" x="494.14" y="1671.97">48</text>
<text class="a" text-anchor="middle" x="520.71" y="1671.97">54</text>
<text class="a" text-anchor="middle" x="547.28" y="1671.97">60</text>
<text class="a" text-anchor="middle" x="573.85" y="1671.97">66</text>
<text class="a" text-anchor="middle" x="600.42" y="1671.97">72</text>
<text class="a" text-anchor="middle" x="626.99" y="1671.97">78</text>
<text class="a" text-anchor="middle" x="653.56" y="1671.97">84</text>
<text class="a" text-anchor="middle" x="680.13" y="1671.97">90</text>
<text class="a" text-anchor="middle" x="706.71" y="1671.97">96</text>
<text class="a" text-anchor="middle" x="733.28" y="1671.97">102</text>
<text class="a" text-anchor="middle" x="759.85" y="1671.97">108</text>
<text class="a" text-anchor="middle" x="786.42" y="1671.97">114</text>
<text class="a" text-anchor="middle" x="812.99" y="1671.97">120</text>
<text class="a" text-anchor="middle" x="839.56" y="1671.97">126</text>
<text class="a" text-anchor="middle" x="866.13" y="1671.97">132</text>
<text class="a" text-anchor="middle" x="892.70" y="1671.97">138</text>
<text class="a" text-anchor="middle" x="919.27" y="1671.97">144</text>
<text class="a" text-anchor="middle" x="945.85" y="1671.97">150</text>
<text class="a" text-anchor="middle" x="972.42" y="1671.97">156</text>
<text class="a" text-anchor="middle" x="998.99" y="1671.97">162</text>
<text class="a" text-anchor="middle" x="1025.56" y="1671.97">168</text>
<text class="a" text-anchor="middle" x="1052.13" y="1671.97">174</text>
<text class="a" text-anchor="middle" x="1078.70" y="1671.97">180</text>
<text class="a" text-anchor="middle" x="1105.27" y="1671.97">186</text>
<text class="a" text-anchor="middle" x="1131.84" y="1671.97">192</text>
<text class="a" text-anchor="middle" x="1158.41" y="1671.97">198</text>
<text class="a" text-anchor="middle" x="1184.98" y="1671.97">204</text>
<text class="a" text-anchor="middle" x="1211.56" y="1671.97">210</text>
<text class="a" text-anchor="middle" x="1238.13" y="1671.97">216</text>
<text class="a" text-anchor="middle" x="1264.70" y="1671.97">222</text>
<text class="a" text-anchor="middle" x="1291.27" y="1671.97">228</text>
<text class="a" text-anchor="middle" x="1317.84" y="1671.97">234</text>
<text class="a" text-anchor="middle" x="1344.41" y="1671.97">240</text>
<text class="a" text-anchor="middle" x="1370.98" y="1671.97">246</text>
<text class="a" text-anchor="middle" x="1397.55" y="1671.97">252</text>
<text class="a" text-anchor="middle" x="1424.12" y="1671.97">258</text>
<text class="a" text-anchor="middle" x="1450.69" y="1671.97">264</text>
<text class="a" text-anchor="middle" x="1477.27" y="1671.97">270</text>
<text class="a" text-anchor="middle" x="1503.84" y="1671.97">276</text>
<text class="a" text-anchor="middle" x="1530.41" y="1671.97">282</text>
<text class="a" text-anchor="middle" x="1556.98" y="1671.97">288</text>
<text class="a" text-anchor="middle" x="1583.55" y="1671.97">294</text>
<text class="a" text-anchor="middle" x="1610.12" y="1671.97">300</text>
<text class="a" text-anchor="middle" x="1636.69" y="1671.97">306</text>
<text class="a" text-anchor="middle" x="1663.26" y="1671.97">312</text>
<text class="a" text-anchor="middle" x="1689.83" y="1671.97">318</text>
<text class="a" text-anchor="middle" x="1716.40" y="1671.97">324</text>
<text class="a" text-anchor="middle" x="1742.98" y="1671.97">330</text>
<text class="a" text-anchor="middle" x="1769.55" y="1671.97">336</text>
<text class="a" text-anchor="middle" x="1796.12" y="1671.97">342</text>
<text class="a" text-anchor="middle" x="1822.69" y="1671.97">348</text>
<text class="a" text-anchor="middle" x="1849.26" y="1671.97">354</text>
<text class="a" text-anchor="middle" x="1875.83" y="1671.97">360</text>
<text class="a" text-anchor="middle" x="1902.40" y="1671.97">366</text>
<text class="a" text-anchor="end" x="215.00" y="1122.16">50</text>
<text class="a" text-anchor="end" x="215.00" y="1257.73">0</text>
<text class="a" text-anchor="end" x="215.00" y="1393.30">−50</text>
<text class="a" text-anchor="end" x="215.00" y="1528.88">−100</text>
<text class="a" text-anchor="middle" x="255.00" y="2456.44">−6</text>
<text class="a" text-anchor="middle" x="281.57" y="2456.44">0</text>
<text class="a" text-anchor="middle" x="308.14" y="2456.44">6</text>
<text class="a" text-anchor="middle" x="334.71" y="2456.44">12</text>
<text class="a" text-anchor="middle" x="361.28" y="2456.44">18</text>
<text class="a" text-anchor="middle" x="387.85" y="2456.44">24</text>
<text class="a" text-anchor="middle" x="414.43" y="2456.44">30</text>
<text class="a" text-anchor="middle" x="441.00" y="2456.44">36</text>
<text class="a" text-anchor="middle" x="467.57" y="2456.44">42</text>
<text class="a" text-anchor="middle" x="494.14" y="2456.44">48</text>
<text class="a" text-anchor="middle" x="520.71" y="2456.44">54</text>
<text class="a" text-anchor="middle" x="547.28" y="2456.44">60</text>
<text class="a" text-anchor="middle" x="573.85" y="2456.44">66</text>
<text class="a" text-anchor="middle" x="600.42" y="2456.44">72</text>
<text class="a" text-anchor="middle" x="626.99" y="2456.44">78</text>
<text class="a" text-anchor="middle" x="653.56" y="2456.44">84</text>
<text class="a" text-anchor="middle" x="680.13" y="2456.44">90</text>
<text class="a" text-anchor="middle" x="706.71" y="2456.44">96</text>
<text class="a" text-anchor="middle" x="733.28" y="2456.44">102</text>
<text class="a" text-anchor="middle" x="759.85" y="2456.44">108</text>
<text class="a" text-anchor="middle" x="786.42" y="2456.44">114</text>
<text class="a" text-anchor="middle" x="812.99" y="2456.44">120</text>
<text class="a" text-anchor="middle" x="839.56" y="2456.44">126</text>
<text class="a" text-anchor="middle" x="866.13" y="2456.44">132</text>
<text class="a" text-anchor="middle" x="892.70" y="2456.44">138</text>
<text class="a" text-anchor="middle" x="919.27" y="2456.44">144</text>
<text class="a" text-anchor="middle" x="945.85" y="2456.44">150</text>
<text class="a" text-anchor="middle" x="972.42" y="2456.44">156</text>
<text class="a" text-anchor="middle" x="998.99" y="2456.44">162</text>
<text class="a" text-anchor="middle" x="1025.56" y="2456.44">168</text>
<text class="a" text-anchor="middle" x="1052.13" y="2456.44">174</text>
<text class="a" text-anchor="middle" x="1078.70" y="2456.44">180</text>
<text class="a" text-anchor="middle" x="1105.27" y="2456.44">186</text>
<text class="a" text-anchor="middle" x="1131.84" y="2456.44">192</text>
<text class="a" text-anchor="middle" x="1158.41" y="2456.44">198</text>
<text class="a" text-anchor="middle" x="1184.98" y="2456.44">204</text>
<text class="a" text-anchor="middle" x="1211.56" y="2456.44">210</text>
<text class="a" text-anchor="middle" x="1238.13" y="2456.44">216</text>
<text class="a" text-anchor="middle" x="1264.70" y="2456.44">222</text>
<text class="a" text-anchor="middle" x="1291.27" y="2456.44">228</text>
<text class="a" text-anchor="middle" x="1317.84" y="2456.44">234</text>
<text class="a" text-anchor="middle" x="1344.41" y="2456.44">240</text>
<text class="a" text-anchor="middle" x="1370.98" y="2456.44">246</text>
<text class="a" text-anchor="middle" x="1397.55" y="2456.44">252</text>
<text class="a" text-anchor="middle" x="1424.12" y="2456.44">258</text>
<text class="a" text-anchor="middle" x="1450.69" y="2456.44">264</text>
<text class="a" text-anchor="middle" x="1477.27" y="2456.44">270</text>
<text class="a" text-anchor="middle" x="1503.84" y="2456.44">276</text>
<text class="a" text-anchor="middle" x="1530.41" y="2456.44">282</text>
<text class="a" text-anchor="middle" x="1556.98" y="2456.44">288</text>
<text class="a" text-anchor="middle" x="1583.55" y="2456.44">294</text>
<text class="a" text-anchor="middle" x="1610.12" y="2456.44">300</text>
<text class="a" text-anchor="middle" x="1636.69" y="2456.44">306</text>
<text class="a" text-anchor="middle" x="1663.26" y="2456.44">312</text>
<text class="a" text-anchor="middle" x="1689.83" y="2456.44">318</text>
<text class="a" text-anchor="middle" x="1716.40" y="2456.44">324</text>
<text class="a" text-anchor="middle" x="1742.98" y="2456.44">330</text>
<text class="a" text-anchor="middle" x="1769.55" y="2456.44">336</text>
<text class="a" text-anchor="middle" x="1796.12" y="2456.44">342</text>
<text class="a" text-anchor="middle" x="1822.69" y="2456.44">348</text>
<text class="a" text-anchor="middle" x="1849.26" y="2456.44">354</text>
<text class="a" text-anchor="middle" x="1875.83" y="2456.44">360</text>
<text class="a" text-anchor="middle" x="1902.40" y="2456.44">366</text>
<text class="a" text-anchor="end" x="215.00" y="1808.66">300</text>
<text class="a" text-anchor="end" x="215.00" y="1907.63">200</text>
<text class="a" text-anchor="end" x="215.00" y="2006.61">100</text>
<text class="a" text-anchor="end" x="215.00" y="2105.58">0</text>
<text class="a" text-anchor="end" x="215.00" y="2204.55">−100</text>
<text class="a" text-anchor="end" x="215.00" y="2303.52">−200</text>
<text class="a" text-anchor="end" x="215.00" y="2402.49">−300</text>
<text class="l" text-anchor="middle" x="1078.50" y="2512.60">Time (hours since beginning of first day UTC)</text>
<text class="a" text-anchor="middle" x="1078.50" y="2649.62">Processed Using JPL Rapid Orbits</text>
<text class="a" text-anchor="middle" x="1078.50" y="2688.85">by the Nevada Geodetic Laboratory.</text>
<text class="a" text-anchor="middle" x="1078.50" y="2728.17">Plotted on 2026-Jan-10.</text>
</g>
<text class="l" text-anchor="middle" transform="translate(90.4 536.9) rotate(-90) scale(1 1.04)">East (mm)</text>
<text class="l" text-anchor="middle" transform="translate(90.4 1353.0) rotate(-90) scale(1 1.04)">North (mm)</text>
<text class="l" text-anchor="middle" transform="translate(90.4 2168.9) rotate(-90) scale(1 1.04)">Up (mm)</text>
</svg></body></html>
